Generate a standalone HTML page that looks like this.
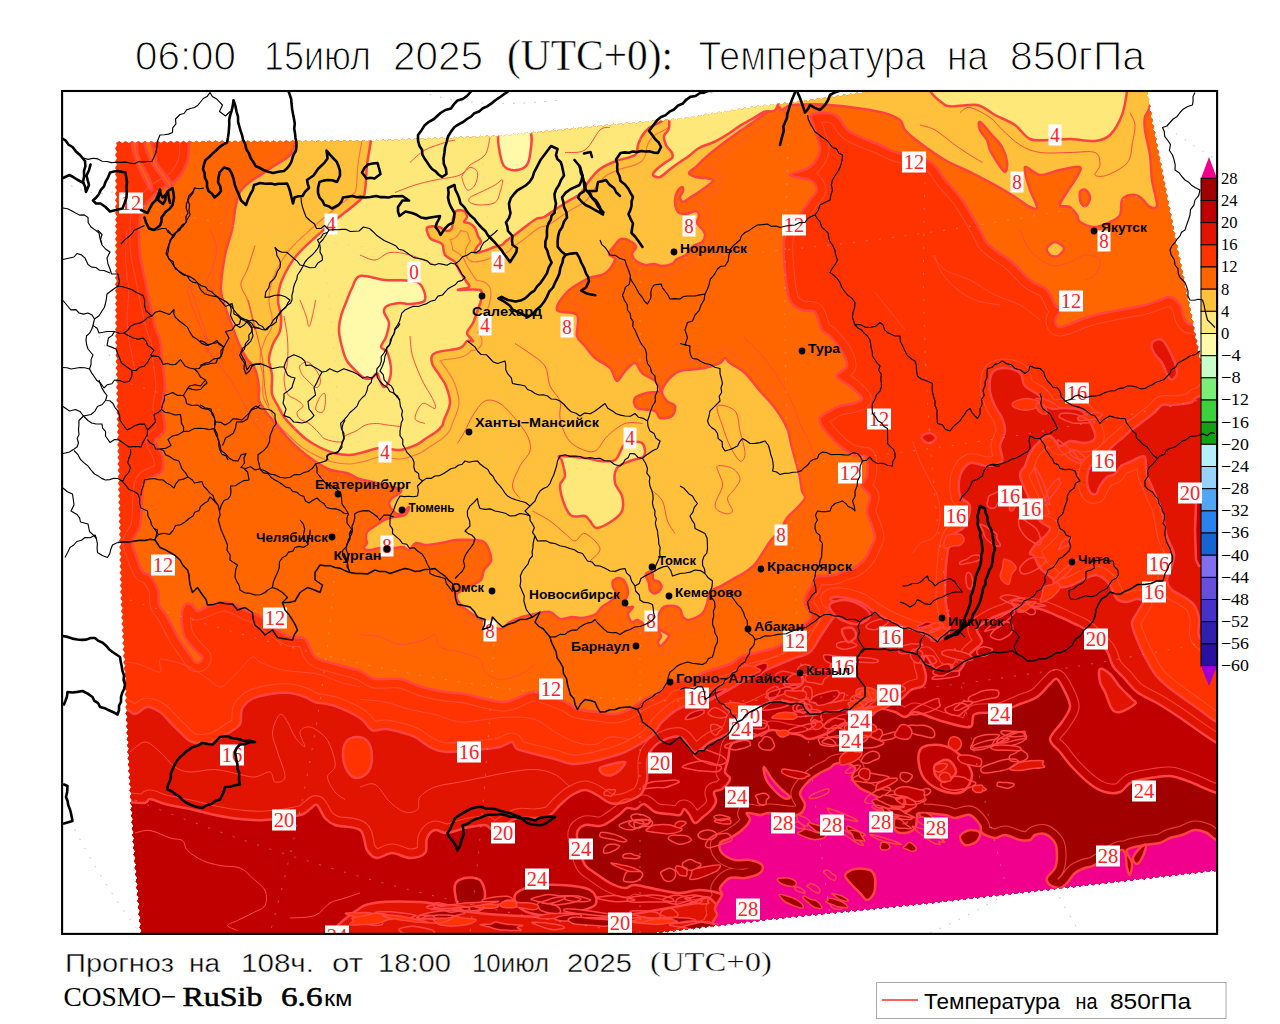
<!DOCTYPE html>
<html><head><meta charset="utf-8"><title>COSMO-RuSib T850</title>
<style>
html,body{margin:0;padding:0;background:#fff;}
body{width:1280px;height:1024px;overflow:hidden;font-family:"Liberation Sans",sans-serif;}
svg{display:block;}
.t{font-family:"Liberation Sans",sans-serif;fill:#000;}
.ts{font-family:"Liberation Serif",serif;fill:#000;}
.city{font-family:"Liberation Sans",sans-serif;font-weight:bold;font-size:13px;fill:#000;}
.lab{font-family:"Liberation Serif",serif;font-size:20px;fill:#ff2222;text-anchor:middle;}
.cb{font-family:"Liberation Serif",serif;font-size:16.5px;fill:#000;}
</style></head><body>
<svg width="1280" height="1024" viewBox="0 0 1280 1024">
<rect x="0" y="0" width="1280" height="1024" fill="#fff"/>
<defs>
<clipPath id="frame"><rect x="62" y="91" width="1155" height="843"/></clipPath>
<clipPath id="data"><path d="M116,143L119.2,141L122.4,143L125.6,141L128.9,142.9L132.1,140.9L135.3,142.9L138.5,140.9L141.7,142.9L144.9,140.9L148.2,142.9L151.4,140.9L154.6,142.8L157.8,140.8L161,142.8L164.2,140.8L167.4,142.8L170.7,140.8L173.9,142.8L177.1,140.8L180.3,142.7L183.5,140.7L186.7,142.7L189.9,140.7L193.2,142.7L196.4,140.7L199.6,142.7L202.8,140.7L206,142.6L209.2,140.6L212.5,142.6L215.7,140.6L218.9,142.6L222.1,140.6L225.3,142.6L228.5,140.6L231.8,142.5L235,140.5L238.2,142.5L241.4,140.5L244.6,142.5L247.8,140.5L251,142.5L254.2,140.5L257.5,142.4L260.7,140.4L263.9,142.4L267.1,140.4L270.3,142.4L273.5,140.4L276.8,142.4L280,140.4L283.2,142.3L286.4,140.3L289.6,142.3L292.8,140.3L296.1,142.3L299.3,140.3L302.5,142.3L305.7,140.3L308.9,142.2L312.1,140.2L315.3,142.2L318.6,140.2L321.8,142.2L325,140.2L328.2,142.2L331.4,140.2L334.6,142.1L337.8,140.1L341.1,142.1L344.3,140.1L347.5,142.1L350.7,140.1L353.9,142.1L357.1,140.1L360.4,142L363.6,140L366.8,142L370,140L373.3,141.9L376.5,139.8L379.8,141.6L383,139.5L386.3,141.4L389.5,139.3L392.8,141.1L396,139L399.3,140.9L402.5,138.8L405.8,140.6L409,138.5L412.3,140.4L415.5,138.3L418.8,140.1L422,138L425.3,139.9L428.5,137.8L431.8,139.6L435,137.5L438.3,139.4L441.5,137.3L444.8,139.1L448,137L451.3,138.9L454.5,136.8L457.8,138.6L461,136.5L464.3,138.4L467.5,136.3L470.8,138.1L474,136L477.3,137.9L480.5,135.8L483.8,137.6L487,135.5L490.3,137.4L493.5,135.3L496.8,137.1L499.9,135L503.4,136.7L506.6,134.3L510.1,136L513.2,133.7L516.8,135.3L519.9,133L523.4,134.7L526.6,132.3L530.1,134L533.2,131.7L536.8,133.3L539.9,131L543.4,132.7L546.6,130.3L550.1,132L553.2,129.7L556.8,131.3L559.9,129L563.4,130.7L566.6,128.3L570.1,130L573.2,127.7L576.8,129.3L579.9,127L583.4,128.7L586.6,126.3L590.1,128L593.2,125.7L596.8,127.3L599.9,125L603.4,126.7L606.6,124.3L610.1,126L613.2,123.7L616.8,125.4L619.9,123.1L623.4,124.9L626.6,122.6L630.1,124.3L633.2,122L636.8,123.7L639.9,121.4L643.4,123.1L646.6,120.9L650.1,122.6L653.2,120.3L656.8,122L659.9,119.7L663.4,121.4L666.6,119.1L670.1,120.9L673.2,118.6L676.8,120.3L679.8,118L683.4,119.5L686.4,117L689.9,118.4L692.9,115.9L696.5,117.4L699.4,114.9L703,116.3L705.9,113.8L709.5,115.3L712.5,112.8L716,114.2L719,111.8L722.5,113.2L725.5,110.7L729.1,112.2L732,109.7L735.6,111.1L738.5,108.6L742.1,110.1L745.1,107.6L748.6,109L751.6,106.5L755.1,108L758.2,105.6L761.8,107.2L764.9,104.8L768.5,106.4L771.5,104L775.1,105.6L778.2,103.2L781.8,104.8L784.9,102.4L788.5,104L791.5,101.6L795.1,103.2L798.2,100.8L801.8,102.4L804.9,100L808.4,101.5L811.4,99.1L814.9,100.6L817.9,98.1L821.5,99.6L824.4,97.2L828,98.7L831,96.2L834.5,97.7L837.5,95.3L841,96.8L844,94.3L847.6,95.8L850.5,93.4L854.1,94.9L857.1,92.4L860.6,93.9L863.6,91.5L867.4,92.9L870.6,89.6L875,90L878.2,88L881.5,90L884.7,88L887.9,90L891.2,88L894.4,90L897.6,88L900.9,90L904.1,88L907.3,90L910.6,88L913.8,90L917,88L920.2,90L923.5,88L926.7,90L929.9,88L933.2,90L936.4,88L939.6,90L942.9,88L946.1,90L949.3,88L952.6,90L955.8,88L959,90L962.3,88L965.5,90L968.7,88L972,90L975.2,88L978.4,90L981.7,88L984.9,90L988.1,88L991.4,90L994.6,88L997.8,90L1001.1,88L1004.3,90L1007.5,88L1010.8,90L1014,88L1017.2,90L1020.4,88L1023.7,90L1026.9,88L1030.1,90L1033.4,88L1036.6,90L1039.8,88L1043.1,90L1046.3,88L1049.5,90L1052.8,88L1056,90L1059.2,88L1062.5,90L1065.7,88L1068.9,90L1072.2,88L1075.4,90L1078.6,88L1081.9,90L1085.1,88L1088.3,90L1091.6,88L1094.8,90L1098,88L1101.2,90L1104.5,88L1107.7,90L1110.9,88L1114.2,90L1117.4,88L1120.6,90L1123.9,88L1127.1,90L1130.3,88L1133.6,90L1136.8,88L1140,90L1143.3,88L1145.5,89.2L1148.1,92.3L1146.7,96.1L1149.3,99.2L1148,103L1150.5,106L1149.2,109.8L1151.8,112.9L1150.4,116.7L1153,119.8L1151.6,123.4L1154.2,126.1L1152.9,129.7L1155.5,132.4L1154.1,136L1156.7,138.8L1155.4,142.3L1157.9,145.1L1156.6,148.6L1159.2,151.4L1157.9,154.9L1160.4,157.7L1159.1,161.2L1161.7,164L1160.3,167.6L1162.9,170.3L1161.6,173.9L1164.2,176.6L1162.8,180.2L1165.4,183L1164.1,186.5L1166.6,189.3L1165.3,192.8L1167.9,195.6L1166.5,199.1L1169.1,201.9L1167.8,205.5L1170.4,208.2L1169,211.8L1171.6,214.5L1170.3,218.1L1172.9,220.9L1171.5,224.4L1174.1,227.2L1172.8,230.7L1175.3,233.5L1174,237L1176.6,239.8L1175.3,243.3L1177.9,246.1L1176.6,249.6L1179.2,252.4L1177.9,255.9L1180.5,258.7L1179.2,262.2L1181.8,264.9L1180.5,268.5L1183.1,271.2L1181.8,274.8L1184.4,277.5L1183.1,281.1L1185.7,283.8L1184.4,287.3L1187,290.1L1185.7,293.6L1188.4,296.4L1187.1,299.9L1189.7,302.7L1188.4,306.2L1191,308.9L1189.7,312.5L1192.3,315.2L1191,318.8L1193.6,321.5L1192.3,325.1L1194.9,327.8L1193.6,331.3L1196.2,334.1L1194.9,337.6L1197.5,340.4L1196.2,343.9L1198.8,346.7L1197.5,350.2L1200.1,353L1198.8,356.5L1201.4,359.3L1200.1,362.9L1202.7,365.6L1201.4,369.2L1204,372L1202.7,375.5L1205.3,378.3L1204,381.9L1206.6,384.6L1205.3,388.2L1207.9,391L1206.6,394.5L1209.2,397.3L1207.9,400.9L1210.5,403.6L1209.2,407.2L1211.8,410L1210.5,413.5L1213.1,416.3L1211.8,419.9L1214.4,422.6L1213.1,426.2L1215.7,429L1214.4,432.5L1217,435.3L1215.7,438.9L1218.3,441.6L1217,445L1219,448.2L1217,451.4L1219,454.7L1217,457.9L1219,461.1L1217,464.3L1219,467.5L1217,470.8L1219,474L1217,477.2L1219,480.4L1217,483.6L1219,486.9L1217,490.1L1219,493.3L1217,496.5L1219,499.7L1217,503L1219,506.2L1217,509.4L1219,512.6L1217,515.8L1219,519.1L1217,522.3L1219,525.5L1217,528.7L1219,531.9L1217,535.2L1219,538.4L1217,541.6L1219,544.8L1217,548L1219,551.2L1217,554.5L1219,557.7L1217,560.9L1219,564.1L1217,567.3L1219,570.6L1217,573.8L1219,577L1217,580.2L1219,583.4L1217,586.7L1219,589.9L1217,593.1L1219,596.3L1217,599.5L1219,602.8L1217,606L1219,609.2L1217,612.4L1219,615.6L1217,618.9L1219,622.1L1217,625.3L1219,628.5L1217,631.7L1219,635L1217,638.2L1219,641.4L1217,644.6L1219,647.8L1217,651.1L1219,654.3L1217,657.5L1219,660.7L1217,663.9L1219,667.2L1217,670.4L1219,673.6L1217,676.8L1219,680L1217,683.3L1219,686.5L1217,689.7L1219,692.9L1217,696.1L1219,699.4L1217,702.6L1219,705.8L1217,709L1219,712.2L1217,715.5L1219,718.7L1217,721.9L1219,725.1L1217,728.3L1219,731.6L1217,734.8L1219,738L1217,741.2L1219,744.4L1217,747.7L1219,750.9L1217,754.1L1219,757.3L1217,760.5L1219,763.8L1217,767L1219,770.2L1217,773.4L1219,776.6L1217,779.8L1219,783.1L1217,786.3L1219,789.5L1217,792.7L1219,795.9L1217,799.2L1219,802.4L1217,805.6L1219,808.8L1217,812L1219,815.3L1217,818.5L1219,821.7L1217,824.9L1219,828.1L1217,831.4L1219,834.6L1217,837.8L1219,841L1217,844.2L1219,847.5L1217,850.7L1219,853.9L1217,857.1L1219,860.3L1217,863.6L1219,866.8L1217.9,869L1214.9,871.4L1211.5,869.7L1208.5,872.1L1205.1,870.5L1202.1,872.8L1198.7,871.2L1195.7,873.6L1192.3,871.9L1189.3,874.3L1185.8,872.7L1182.9,875L1179.4,873.4L1176.5,875.7L1173,874.1L1170,876.5L1166.6,874.9L1163.6,877.2L1160.2,875.6L1157.2,877.9L1153.8,876.3L1150.8,878.7L1147.4,877L1144.4,879.4L1141,877.8L1138,880.1L1134.6,878.5L1131.6,880.9L1128.2,879.2L1125.2,881.6L1121.8,880L1118.8,882.3L1115.3,880.7L1112.4,883.1L1108.9,881.4L1106,883.8L1102.5,882.2L1099.6,884.5L1096.1,882.9L1093.1,885.3L1089.7,883.6L1086.7,886L1083.3,884.4L1080.3,886.7L1076.9,885.1L1073.9,887.4L1070.5,885.8L1067.5,888.2L1064.1,886.6L1061.1,888.9L1057.7,887.3L1054.7,889.6L1051.3,888L1048.3,890.4L1044.9,888.7L1041.9,891.1L1038.4,889.5L1035.5,891.8L1032,890.2L1029.1,892.6L1025.6,890.9L1022.7,893.3L1019.2,891.7L1016.2,894L1012.8,892.4L1009.8,894.8L1006.4,893.1L1003.4,895.5L1000,893.9L997,896.2L993.6,894.6L990.6,897L987.2,895.3L984.2,897.7L980.8,896.1L977.8,898.4L974.4,896.8L971.4,899.1L968,897.5L965,899.9L961.5,898.3L958.6,900.6L955.1,899L952.2,901.3L948.7,899.7L945.7,902.1L942.3,900.4L939.3,902.8L935.9,901.2L932.9,903.5L929.5,901.9L926.5,904.3L923.1,902.6L920.1,905L916.6,903.3L913.6,905.6L910.1,904L907.1,906.3L903.6,904.6L900.6,906.9L897.1,905.3L894.1,907.6L890.6,905.9L887.5,908.3L884.1,906.6L881,908.9L877.6,907.2L874.5,909.6L871.1,907.9L868,910.2L864.6,908.5L861.5,910.9L858,909.2L855,911.5L851.5,909.8L848.5,912.2L845,910.5L842,912.8L838.5,911.1L835.4,913.5L832,911.8L828.9,914.1L825.5,912.4L822.4,914.8L819,913.1L815.9,915.4L812.5,913.7L809.4,916.1L805.9,914.4L802.9,916.7L799.4,915.1L796.4,917.4L792.9,915.7L789.9,918L786.4,916.4L783.4,918.7L779.9,917L776.9,919.4L773.5,917.8L770.5,920.1L767,918.5L764,920.9L760.6,919.3L757.6,921.7L754.2,920.1L751.2,922.4L747.7,920.8L744.8,923.2L741.3,921.6L738.3,923.9L734.9,922.3L731.9,924.7L728.5,923.1L725.5,925.5L722,923.9L719,926.2L715.6,924.6L712.6,927L709.2,925.4L706.2,927.8L702.7,926.1L699.8,928.5L696.3,926.9L693.3,929.3L689.9,927.7L686.9,930L683.5,928.4L680.5,930.8L677,929.2L674,931.6L670.6,930L667.6,932.3L664.2,930.7L661.2,933.1L657.7,931.5L654.8,933.9L651.3,932.2L648.3,934.6L645,933L641.8,935L638.6,933L635.4,935L632.2,933L628.9,935L625.7,933L622.5,935L619.3,933L616.1,935L612.9,933L609.7,935L606.5,933L603.3,935L600.1,933L596.8,935L593.6,933L590.4,935L587.2,933L584,935L580.8,933L577.6,935L574.4,933L571.2,935L568,933L564.7,935L561.5,933L558.3,935L555.1,933L551.9,935L548.7,933L545.5,935L542.3,933L539.1,935L535.9,933L532.6,935L529.4,933L526.2,935L523,933L519.8,935L516.6,933L513.4,935L510.2,933L507,935L503.8,933L500.5,935L497.3,933L494.1,935L490.9,933L487.7,935L484.5,933L481.3,935L478.1,933L474.9,935L471.6,933L468.4,935L465.2,933L462,935L458.8,933L455.6,935L452.4,933L449.2,935L446,933L442.8,935L439.5,933L436.3,935L433.1,933L429.9,935L426.7,933L423.5,935L420.3,933L417.1,935L413.9,933L410.7,935L407.4,933L404.2,935L401,933L397.8,935L394.6,933L391.4,935L388.2,933L385,935L381.8,933L378.6,935L375.3,933L372.1,935L368.9,933L365.7,935L362.5,933L359.3,935L356.1,933L352.9,935L349.7,933L346.5,935L343.2,933L340,935L336.8,933L333.6,935L330.4,933L327.2,935L324,933L320.8,935L317.6,933L314.4,935L311.1,933L307.9,935L304.7,933L301.5,935L298.3,933L295.1,935L291.9,933L288.7,935L285.5,933L282.2,935L279,933L275.8,935L272.6,933L269.4,935L266.2,933L263,935L259.8,933L256.6,935L253.4,933L250.1,935L246.9,933L243.7,935L240.5,933L237.3,935L234.1,933L230.9,935L227.7,933L224.5,935L221.3,933L218,935L214.8,933L211.6,935L208.4,933L205.2,935L202,933L198.8,935L195.6,933L192.4,935L189.2,933L185.9,935L182.7,933L179.5,935L176.3,933L173.1,935L169.9,933L166.7,935L163.5,933L160.3,935L157.1,933L153.8,935L150.6,933L147.4,935L144.2,933L140,934.1L141.7,930.6L139.5,927.5L141.2,924L138.9,920.9L140.7,917.4L138.4,914.2L140.1,910.8L137.8,907.6L139.6,904.1L137.3,901L139,897.5L136.8,894.4L138.5,890.9L136.2,887.8L138,884.3L135.7,881.2L137.4,877.7L135.2,874.5L136.9,871.1L134.6,867.9L136.3,864.5L134.1,861.3L135.8,857.8L133.5,854.7L135.3,851.2L133,848.1L134.8,844.7L132.6,841.7L134.4,838.3L132.2,835.3L134,831.9L131.8,828.9L133.6,825.5L131.4,822.5L133.2,819.1L131,816.1L132.8,812.7L130.6,809.7L132.4,806.3L130.2,803.3L132,799.9L129.8,796.9L131.6,793.5L129.4,790.5L131.2,787.1L129,784.1L130.8,780.7L128.6,777.7L130.4,774.3L128.2,771.3L130,768L127.9,764.8L129.7,761.6L127.6,758.4L129.4,755.2L127.3,752L129.1,748.8L127,745.6L128.8,742.4L126.7,739.2L128.5,736L126.4,732.8L128.3,729.6L126.1,726.4L128,723.2L125.8,720L127.7,716.8L125.5,713.6L127.4,710.4L125.2,707.2L127.1,704L124.9,700.8L126.8,697.6L124.7,694.4L126.5,691.2L124.4,688L126.2,684.8L124.1,681.6L125.9,678.4L123.8,675.2L125.6,672L123.5,668.8L125.3,665.6L123.2,662.4L125.1,659.2L122.9,656L124.8,652.8L122.6,649.6L124.5,646.4L122.3,643.2L124.2,640L122,636.8L123.9,633.6L121.7,630.4L123.6,627.2L121.5,624L123.3,620.8L121.2,617.6L123,614.4L120.9,611.2L122.7,608L120.6,604.8L122.4,601.6L120.3,598.4L122.1,595.2L120,592L121.9,588.8L119.9,585.6L121.8,582.4L119.8,579.2L121.7,576L119.6,572.8L121.6,569.6L119.5,566.4L121.4,563.2L119.4,560L121.3,556.8L119.3,553.6L121.2,550.4L119.1,547.2L121.1,544L119,540.8L120.9,537.6L118.9,534.4L120.8,531.2L118.8,528L120.7,524.8L118.6,521.6L120.6,518.4L118.5,515.2L120.4,512L118.4,508.8L120.3,505.6L118.3,502.4L120.2,499.2L118.1,496L120.1,492.8L118,489.6L119.9,486.4L117.9,483.2L119.8,480L117.8,476.8L119.7,473.6L117.6,470.4L119.6,467.2L117.5,464L119.4,460.8L117.4,457.6L119.3,454.4L117.3,451.2L119.2,448L117.1,444.8L119.1,441.6L117,438.4L118.9,435.2L116.9,432L118.8,428.8L116.8,425.6L118.7,422.4L116.6,419.2L118.6,416L116.5,412.8L118.4,409.6L116.4,406.4L118.3,403.2L116.3,400L118.2,396.8L116.1,393.6L118.1,390.4L116,387.2L117.9,384L115.9,380.8L117.8,377.6L115.8,374.4L117.7,371.2L115.6,368L117.6,364.8L115.5,361.6L117.4,358.4L115.4,355.2L117.3,352L115.3,348.8L117.2,345.6L115.1,342.4L117.1,339.2L115,336L117,332.8L115,329.5L117,326.3L115,323.1L117,319.8L115,316.6L117,313.4L115,310.1L117,306.9L115,303.7L117,300.4L115,297.2L117,294L115,290.7L117,287.5L115,284.3L117,281L115,277.8L117,274.6L115,271.3L117,268.1L115,264.9L117,261.6L115,258.4L117,255.2L115,251.9L117,248.7L115,245.5L117,242.2L115,239L117,235.8L115,232.5L117,229.3L115,226.1L117,222.8L115,219.6L117,216.4L115,213.1L117,209.9L115,206.7L117,203.4L115,200.2L117,197L115,193.7L117,190.5L115,187.3L117,184L115,180.8L117,177.6L115,174.3L117,171.1L115,167.9L117,164.6L115,161.4L117,158.2L115,154.9L117,151.7L115,148.5L117,145.2Z"/></clipPath>
</defs>

<g clip-path="url(#frame)" fill="none" stroke="#b8b8b8" stroke-width="1" stroke-dasharray="1.5 9">
<path d="M62,300 Q120,330 140,470"/>
<path d="M70,820 Q100,880 140,933"/>
<path d="M930,933 Q1050,880 1120,800"/>
<path d="M1040,860 Q1060,900 1080,933"/>
<path d="M1130,91 Q1150,120 1217,160"/>
<path d="M420,91 Q470,110 560,100"/>
<path d="M62,180 Q90,200 120,190"/>
</g>
<g clip-path="url(#frame)"><g clip-path="url(#data)">
<rect x="60" y="88" width="1160" height="850" fill="#ff3300"/>
<path id="r1" d="M189,130C189,142 189.3,136.7 189,142C188.7,147.3 189.2,155.7 187,162C184.8,168.3 181,175 176,180C171,185 162.7,187 157,192C151.3,197 145,203.7 142,210C139,216.3 139.3,222.5 139,230C138.7,237.5 139,246.7 140,255C141,263.3 143.3,271.7 145,280C146.7,288.3 148.2,296.7 150,305C151.8,313.3 154.3,324.2 156,330C157.7,335.8 159,334.8 160,340C161,345.2 161.2,353.3 162,361C162.8,368.7 165,378.5 165,386C165,393.5 162,399 162,406C162,413 165.3,423 165,428C164.7,433 161.7,433.8 160,436C158.3,438.2 154.7,437.7 155,441C155.3,444.3 160.8,451 162,456C163.2,461 164.8,466.8 162,471C159.2,475.2 148.3,476.5 145,481C141.7,485.5 142.8,490.5 142,498C141.2,505.5 141.7,518.8 140,526C138.3,533.2 132.8,536.5 132,541C131.2,545.5 133.3,548 135,553C136.7,558 139.5,567.2 142,571C144.5,574.8 147.3,572.8 150,576C152.7,579.2 156.5,585.2 158,590C159.5,594.8 157.7,600.8 159,605C160.3,609.2 163.5,610.8 166,615C168.5,619.2 171.5,625.5 174,630C176.5,634.5 178.3,637.8 181,642C183.7,646.2 187.7,651.7 190,655C192.3,658.3 193.3,660.8 195,662C196.7,663.2 198.8,662.8 200,662C201.2,661.2 202.8,659 202,657C201.2,655 197.8,653.3 195,650C192.2,646.7 187.2,641.2 185,637C182.8,632.8 182.5,629.2 182,625C181.5,620.8 181.3,615.5 182,612C182.7,608.5 184.3,605.2 186,604C187.7,602.8 190.2,603.8 192,605C193.8,606.2 194.5,610.7 197,611C199.5,611.3 204,608.2 207,607C210,605.8 212,604.8 215,604C218,603.2 221.7,601.8 225,602C228.3,602.2 231.7,603.7 235,605C238.3,606.3 241.3,608.3 245,610C248.7,611.7 253.8,613.5 257,615C260.2,616.5 261,616.8 264,619C267,621.2 270.7,625 275,628C279.3,631 285,635.2 290,637C295,638.8 300.8,635.7 305,639C309.2,642.3 310,652.8 315,657C320,661.2 327.5,661.7 335,664C342.5,666.3 353.3,668.5 360,671C366.7,673.5 368.3,677.7 375,679C381.7,680.3 392.2,677.7 400,679C407.8,680.3 414.5,684.8 422,687C429.5,689.2 437.8,690.8 445,692C452.2,693.2 458.3,692.8 465,694C471.7,695.2 478.3,697.7 485,699C491.7,700.3 499.2,702.3 505,702C510.8,701.7 515,698.7 520,697C525,695.3 527.5,691.2 535,692C542.5,692.8 558,699.2 565,702C572,704.8 571.7,707.3 577,709C582.3,710.7 590.7,711.2 597,712C603.3,712.8 609.5,714.5 615,714C620.5,713.5 626.3,710.7 630,709C633.7,707.3 634.5,705.7 637,704C639.5,702.3 641.2,701 645,699C648.8,697 656.3,694.5 660,692C663.7,689.5 663.7,686 667,684C670.3,682 675.8,680.8 680,680C684.2,679.2 687.8,680.3 692,679C696.2,677.7 698.7,674.5 705,672C711.3,669.5 724.2,666.5 730,664C735.8,661.5 737.2,658.5 740,657C742.8,655.5 743.8,655.8 747,655C750.2,654.2 755,653 759,652C763,651 767.2,650.3 771,649C774.8,647.7 777.8,647.2 782,644C786.2,640.8 792.7,633 796,630C799.3,627 800.2,627.3 802,626C803.8,624.7 805.5,623.5 807,622C808.5,620.5 810.5,618.7 811,617C811.5,615.3 811,614 810,612C809,610 805.7,607.8 805,605C804.3,602.2 805,598 806,595C807,592 809.3,590 811,587C812.7,584 813.7,578.8 816,577C818.3,575.2 821.8,576.3 825,576C828.2,575.7 832.2,575.7 835,575C837.8,574.3 839.2,573 842,572C844.8,571 849,570.3 852,569C855,567.7 857.5,566.2 860,564C862.5,561.8 865.2,558.8 867,556C868.8,553.2 869.7,550 871,547C872.3,544 874.8,541.5 875,538C875.2,534.5 873.3,530.5 872,526C870.7,521.5 867.3,516 867,511C866.7,506 870.8,500.2 870,496C869.2,491.8 862.5,489.3 862,486C861.5,482.7 866.2,480.7 867,476C867.8,471.3 868.2,461.3 867,458C865.8,454.7 862.8,456.8 860,456C857.2,455.2 853.3,454.7 850,453C846.7,451.3 843.3,448.8 840,446C836.7,443.2 833,439.3 830,436C827,432.7 823.7,429 822,426C820.3,423 818.7,420.5 820,418C821.3,415.5 826.7,413 830,411C833.3,409 835.8,407.3 840,406C844.2,404.7 851.3,404.3 855,403C858.7,401.7 862.8,400.8 862,398C861.2,395.2 854.2,389.7 850,386C845.8,382.3 837.5,379.3 837,376C836.5,372.7 846.2,370.2 847,366C847.8,361.8 844.8,356 842,351C839.2,346 833.3,339.5 830,336C826.7,332.5 824.5,334 822,330C819.5,326 818.3,315.3 815,312C811.7,308.7 806.2,312 802,310C797.8,308 792.8,306.7 790,300C787.2,293.3 785.8,280.8 785,270C784.2,259.2 782.2,244.7 785,235C787.8,225.3 797.8,217.8 802,212C806.2,206.2 807.5,203.7 810,200C812.5,196.3 817,193.3 817,190C817,186.7 814.5,182.5 810,180C805.5,177.5 790,177.2 790,175C790,172.8 805,171.2 810,167C815,162.8 819.2,156.2 820,150C820.8,143.8 816.3,135.8 815,130C813.7,124.2 808.7,117.5 812,115C815.3,112.5 828.7,112.2 835,115C841.3,117.8 842.5,127 850,132C857.5,137 872.5,141.7 880,145C887.5,148.3 886.7,149.2 895,152C903.3,154.8 921.7,157.3 930,162C938.3,166.7 939.7,173.7 945,180C950.3,186.3 956.2,191.7 962,200C967.8,208.3 976,223 980,230C984,237 983.5,238.7 986,242C988.5,245.3 990.7,246.7 995,250C999.3,253.3 1006.2,257 1012,262C1017.8,267 1024.2,275.3 1030,280C1035.8,284.7 1042.8,285.8 1047,290C1051.2,294.2 1052.8,301.7 1055,305C1057.2,308.3 1060,307.5 1060,310C1060,312.5 1055,317.2 1055,320C1055,322.8 1055.8,327 1060,327C1064.2,327 1074.2,322 1080,320C1085.8,318 1088.3,316.7 1095,315C1101.7,313.3 1111.7,311.7 1120,310C1128.3,308.3 1138.3,306.7 1145,305C1151.7,303.3 1155.8,301.3 1160,300C1164.2,298.7 1166.7,296.2 1170,297C1173.3,297.8 1177.5,301.2 1180,305C1182.5,308.8 1182.5,316.7 1185,320C1187.5,323.3 1185.8,324.2 1195,325C1204.2,325.8 1232.5,367.5 1240,325C1247.5,282.5 1415.2,112.5 1240,70C1064.8,27.5 364.2,60 189,70C13.8,80 189,118 189,130Z" fill="#ff6600"/>
<mask id="m1" maskUnits="userSpaceOnUse" x="60" y="88" width="1160" height="850"><g fill="none" stroke-linejoin="round"><use href="#r1" stroke="#fff" stroke-width="19.1"/><use href="#r1" stroke="#000" stroke-width="16.9"/></g></mask>
<rect x="60" y="88" width="1160" height="850" fill="#ff5448" opacity="0.75" mask="url(#m1)"/>
<use href="#r1" fill="none" stroke="#ff4343" stroke-width="2.5" stroke-linejoin="round"/>
<path id="r2" d="M295,130C295,142 295.8,137.8 295,142C294.2,146.2 295,150 290,155C285,160 273.3,165.8 265,172C256.7,178.2 245.5,182.3 240,192C234.5,201.7 234.5,219.5 232,230C229.5,240.5 226.8,245.5 225,255C223.2,264.5 221.3,279.5 221,287C220.7,294.5 221.3,294 223,300C224.7,306 228.3,315.7 231,323C233.7,330.3 236.3,338 239,344C241.7,350 244.3,354.8 247,359C249.7,363.2 253,364.3 255,369C257,373.7 258.3,381.8 259,387C259.7,392.2 257.8,395.8 259,400C260.2,404.2 263,407.8 266,412C269,416.2 273.5,420.8 277,425C280.5,429.2 283.2,432.8 287,437C290.8,441.2 295.2,445.8 300,450C304.8,454.2 310.8,458.7 316,462C321.2,465.3 325.8,468.2 331,470C336.2,471.8 342.3,471.5 347,473C351.7,474.5 354.7,477.5 359,479C363.3,480.5 368.3,480.8 373,482C377.7,483.2 382.5,484.8 387,486C391.5,487.2 397.8,487.8 400,489C402.2,490.2 401.3,491.5 400,493C398.7,494.5 393.8,496.2 392,498C390.2,499.8 388.7,501.7 389,504C389.3,506.3 392.2,510.3 394,512C395.8,513.7 397.5,514.8 400,514C402.5,513.2 408.2,506.8 409,507C409.8,507.2 407.5,513.3 405,515C402.5,516.7 397.5,516.2 394,517C390.5,517.8 387.2,518.5 384,520C380.8,521.5 377.8,524 375,526C372.2,528 368.5,529.8 367,532C365.5,534.2 366,537.2 366,539C366,540.8 367.3,541.5 367,543C366.7,544.5 363.7,546.8 364,548C364.3,549.2 366.2,550 369,550C371.8,550 376.8,548.3 381,548C385.2,547.7 390.3,548.2 394,548C397.7,547.8 400.5,546.7 403,547C405.5,547.3 406.8,550.7 409,550C411.2,549.3 413.3,543.8 416,543C418.7,542.2 420.8,545 425,545C429.2,545 435.8,543.8 441,543C446.2,542.2 450.8,540.5 456,540C461.2,539.5 467.3,539.7 472,540C476.7,540.3 481.2,540.3 484,542C486.8,543.7 487.8,546.8 489,550C490.2,553.2 491.8,557.7 491,561C490.2,564.3 485.7,566.8 484,570C482.3,573.2 483.3,577.3 481,580C478.7,582.7 474,583.7 470,586C466,588.3 458.7,591 457,594C455.3,597 457.5,600.7 460,604C462.5,607.3 467.8,611 472,614C476.2,617 480.3,619.5 485,622C489.7,624.5 495.8,629 500,629C504.2,629 506.3,624 510,622C513.7,620 517.8,618.3 522,617C526.2,615.7 530.3,614.8 535,614C539.7,613.2 545.8,611.2 550,612C554.2,612.8 556.3,618.2 560,619C563.7,619.8 568.7,617.2 572,617C575.3,616.8 577.3,618 580,618C582.7,618 585.3,617.7 588,617C590.7,616.3 593.7,615.7 596,614C598.3,612.3 599.5,609.2 602,607C604.5,604.8 608.7,603.3 611,601C613.3,598.7 615.7,595.3 616,593C616.3,590.7 613.5,589 613,587C612.5,585 612,582.5 613,581C614,579.5 617,577.8 619,578C621,578.2 623.5,579.5 625,582C626.5,584.5 628,589.8 628,593C628,596.2 625.2,598.7 625,601C624.8,603.3 625.7,606 627,607C628.3,608 632.8,605.8 633,607C633.2,608.2 628.2,611.5 628,614C627.8,616.5 630.3,621 632,622C633.7,623 635.5,619.3 638,620C640.5,620.7 644.5,625.5 647,626C649.5,626.5 651.3,622.5 653,623C654.7,623.5 655.7,626.8 657,629C658.3,631.2 660.8,633.8 661,636C661.2,638.2 658.2,640.3 658,642C657.8,643.7 659,645.8 660,646C661,646.2 662.5,644.7 664,643C665.5,641.3 669,637.8 669,636C669,634.2 665.8,633.3 664,632C662.2,630.7 659.2,630 658,628C656.8,626 656.7,622.7 657,620C657.3,617.3 658.8,614.2 660,612C661.2,609.8 661.7,608 664,607C666.3,606 671.3,605.7 674,606C676.7,606.3 678.5,607.2 680,609C681.5,610.8 681.5,615.2 683,617C684.5,618.8 685.8,620.5 689,620C692.2,619.5 699,616.7 702,614C705,611.3 705.7,607.7 707,604C708.3,600.3 707.7,595 710,592C712.3,589 717.2,588.2 721,586C724.8,583.8 729.2,581.2 733,579C736.8,576.8 740.3,575.5 744,573C747.7,570.5 751.7,567.7 755,564C758.3,560.3 761.3,555 764,551C766.7,547 768.3,543.3 771,540C773.7,536.7 777.3,534.7 780,531C782.7,527.3 784.2,521.8 787,518C789.8,514.2 794,511.3 797,508C800,504.7 804.2,500.8 805,498C805.8,495.2 802.8,494.3 802,491C801.2,487.7 800.8,482.2 800,478C799.2,473.8 798.3,471 797,466C795.7,461 793.7,454.3 792,448C790.3,441.7 789.8,434.7 787,428C784.2,421.3 779.5,414.2 775,408C770.5,401.8 765,396.8 760,391C755,385.2 750,377.7 745,373C740,368.3 733.3,365.5 730,363C726.7,360.5 726.7,358 725,358C723.3,358 723.3,361.3 720,363C716.7,364.7 711.7,366.7 705,368C698.3,369.3 685.8,369.3 680,371C674.2,372.7 673,374.7 670,378C667,381.3 662.5,387.2 662,391C661.5,394.8 664.8,398.5 667,401C669.2,403.5 674.2,403.5 675,406C675.8,408.5 674.5,414 672,416C669.5,418 662.8,418.8 660,418C657.2,417.2 658.8,412.7 655,411C651.2,409.3 640.3,410.2 637,408C633.7,405.8 633.3,400.5 635,398C636.7,395.5 642.8,394.2 647,393C651.2,391.8 658.7,393 660,391C661.3,389 658,384 655,381C652,378 645.3,376 642,373C638.7,370 637.8,363.3 635,363C632.2,362.7 628,368 625,371C622,374 619.5,381.5 617,381C614.5,380.5 613.7,371.8 610,368C606.3,364.2 599.2,361.7 595,358C590.8,354.3 588,349.7 585,346C582,342.3 578.3,341.2 577,336C575.7,330.8 580.3,319.3 577,315C573.7,310.7 558.7,313.8 557,310C555.3,306.2 562.3,297 567,292C571.7,287 580.8,282.5 585,280C589.2,277.5 589.2,277.8 592,277C594.8,276.2 599.2,276.2 602,275C604.8,273.8 606.8,272.7 609,270C611.2,267.3 615,261.7 615,259C615,256.3 609,256.3 609,254C609,251.7 613,247.5 615,245C617,242.5 618.5,239.7 621,239C623.5,238.3 627.5,239.7 630,241C632.5,242.3 635.7,244.8 636,247C636.3,249.2 632,251.7 632,254C632,256.3 633.8,259.2 636,261C638.2,262.8 642,264.5 645,265C648,265.5 651.2,263.8 654,264C656.8,264.2 659,266 662,266C665,266 669.5,265.2 672,264C674.5,262.8 674.7,260.5 677,259C679.3,257.5 683.5,257 686,255C688.5,253 689.3,249.2 692,247C694.7,244.8 699.8,243.8 702,242C704.2,240.2 704.8,238 705,236C705.2,234 704.3,232.2 703,230C701.7,227.8 697.7,225.3 697,223C696.3,220.7 699.2,218 699,216C698.8,214 698.2,211.3 696,211C693.8,210.7 689,213.8 686,214C683,214.2 679.8,214 678,212C676.2,210 675.2,205.3 675,202C674.8,198.7 675.8,194.5 677,192C678.2,189.5 681,187.2 682,187C683,186.8 683.3,189.3 683,191C682.7,192.7 680,195.2 680,197C680,198.8 681.2,202 683,202C684.8,202 688.3,198.7 691,197C693.7,195.3 695.8,194.2 699,192C702.2,189.8 707.7,186 710,184C712.3,182 713.8,181 713,180C712.2,179 707.8,178.5 705,178C702.2,177.5 698.7,177.8 696,177C693.3,176.2 689,174.7 689,173C689,171.3 693.3,169.5 696,167C698.7,164.5 700.8,161.7 705,158C709.2,154.3 715.8,149 721,145C726.2,141 730.8,137.7 736,134C741.2,130.3 746.8,126.7 752,123C757.2,119.3 762.3,115.8 767,112C771.7,108.2 777.8,107 780,100C782.2,93 860.8,75 780,70C699.2,65 375.8,60 295,70C214.2,80 295,118 295,130Z" fill="#ffc03c"/>
<mask id="m2" maskUnits="userSpaceOnUse" x="60" y="88" width="1160" height="850"><g fill="none" stroke-linejoin="round"><use href="#r2" stroke="#fff" stroke-width="19.1"/><use href="#r2" stroke="#000" stroke-width="16.9"/></g></mask>
<rect x="60" y="88" width="1160" height="850" fill="#ff5448" opacity="0.75" mask="url(#m2)"/>
<use href="#r2" fill="none" stroke="#ff4343" stroke-width="2.5" stroke-linejoin="round"/>
<path id="r3" d="M780,108C782,113.8 783.7,105.5 792,105C800.3,104.5 815.3,103.8 830,105C844.7,106.2 868.3,109.5 880,112C891.7,114.5 895.8,117 900,120C904.2,123 901.7,126.2 905,130C908.3,133.8 913.3,138 920,143C926.7,148 936.3,155 945,160C953.7,165 963.7,168.8 972,173C980.3,177.2 987.8,181 995,185C1002.2,189 1009.2,193.3 1015,197C1020.8,200.7 1026.3,205.3 1030,207C1033.7,208.7 1037.2,210.3 1037,207C1036.8,203.7 1031,193.7 1029,187C1027,180.3 1023.2,169 1025,167C1026.8,165 1034.2,174.5 1040,175C1045.8,175.5 1053.3,171.3 1060,170C1066.7,168.7 1077.5,165.3 1080,167C1082.5,168.7 1077.2,175.8 1075,180C1072.8,184.2 1069.5,187.8 1067,192C1064.5,196.2 1059.5,202.5 1060,205C1060.5,207.5 1067.2,205.3 1070,207C1072.8,208.7 1075.3,212.5 1077,215C1078.7,217.5 1077,220 1080,222C1083,224 1090,227 1095,227C1100,227 1105.8,224 1110,222C1114.2,220 1118,218.7 1120,215C1122,211.3 1120.3,203.3 1122,200C1123.7,196.7 1127,195.5 1130,195C1133,194.5 1136.7,195 1140,197C1143.3,199 1147.2,205.7 1150,207C1152.8,208.3 1156.7,209.5 1157,205C1157.3,200.5 1153.2,188.3 1152,180C1150.8,171.7 1151.2,163.3 1150,155C1148.8,146.7 1145.8,136.3 1145,130C1144.2,123.7 1144.2,121.2 1145,117C1145.8,112.8 1149.2,112.8 1150,105C1150.8,97.2 1211.7,75.8 1150,70C1088.3,64.2 841.7,63.7 780,70C718.3,76.3 778,102.2 780,108Z" fill="#ffc03c"/>
<use href="#r3" fill="none" stroke="#ff4343" stroke-width="2.5" stroke-linejoin="round"/>
<path id="r4" d="M980,122C982,122.8 988.3,130.8 992,135C995.7,139.2 999.5,142.5 1002,147C1004.5,151.5 1006.5,157.8 1007,162C1007.5,166.2 1006.7,172 1005,172C1003.3,172 999.5,165.7 997,162C994.5,158.3 991.7,153.7 990,150C988.3,146.3 988.7,143.3 987,140C985.3,136.7 981.2,133 980,130C978.8,127 978,121.2 980,122Z" fill="#ff6600"/>
<use href="#r4" fill="none" stroke="#ff4343" stroke-width="2.5" stroke-linejoin="round"/>
<path id="r5" d="M1080,192C1080.8,189.8 1084.3,189 1086,190C1087.7,191 1090,195.3 1090,198C1090,200.7 1087.5,205.2 1086,206C1084.5,206.8 1082,205.3 1081,203C1080,200.7 1079.2,194.2 1080,192Z" fill="#ff6600"/>
<use href="#r5" fill="none" stroke="#ff4343" stroke-width="2.5" stroke-linejoin="round"/>
<path id="r6" d="M1047,248C1047.8,245.8 1052.2,242 1055,242C1057.8,242 1063.5,245.7 1064,248C1064.5,250.3 1060.3,254.8 1058,256C1055.7,257.2 1051.8,256.3 1050,255C1048.2,253.7 1046.2,250.2 1047,248Z" fill="#ffc03c"/>
<use href="#r6" fill="none" stroke="#ff4343" stroke-width="2.5" stroke-linejoin="round"/>
<path id="r7" d="M371,130C371,141.7 371.7,134.2 371,140C370.3,145.8 368,156.7 367,165C366,173.3 366.2,184.2 365,190C363.8,195.8 366.3,193.8 360,200C353.7,206.2 337.5,217.8 327,227C316.5,236.2 304.5,246.2 297,255C289.5,263.8 285.2,272.5 282,280C278.8,287.5 278.2,294 278,300C277.8,306 280.7,310.8 281,316C281.3,321.2 281.3,326.3 280,331C278.7,335.7 274.8,339.3 273,344C271.2,348.7 269.2,353.8 269,359C268.8,364.2 271.5,369.2 272,375C272.5,380.8 271,388.8 272,394C273,399.2 276,402.2 278,406C280,409.8 281.3,413.3 284,417C286.7,420.7 290.3,424.3 294,428C297.7,431.7 301.8,435.8 306,439C310.2,442.2 314.3,444.7 319,447C323.7,449.3 328.8,451.7 334,453C339.2,454.3 345,455.2 350,455C355,454.8 359,453.2 364,452C369,450.8 374,448.3 380,448C386,447.7 394,450.5 400,450C406,449.5 411.8,446.8 416,445C420.2,443.2 421.7,441.2 425,439C428.3,436.8 433.2,434.2 436,432C438.8,429.8 440.7,428 442,426C443.3,424 442.7,423.8 444,420C445.3,416.2 449.7,408.7 450,403C450.3,397.3 447.7,390.5 446,386C444.3,381.5 442.3,379.8 440,376C437.7,372.2 432.8,366.8 432,363C431.2,359.2 430.3,355.5 435,353C439.7,350.5 454.7,350 460,348C465.3,346 464.8,342.2 467,341C469.2,339.8 473,342.3 473,341C473,339.7 467,336 467,333C467,330 471.2,327 473,323C474.8,319 476.7,312.8 478,309C479.3,305.2 480.7,303.2 481,300C481.3,296.8 483.8,291.7 480,290C476.2,288.3 459.8,290.5 458,290C456.2,289.5 467.7,288.5 469,287C470.3,285.5 467.7,283.8 466,281C464.3,278.2 460.8,273.2 459,270C457.2,266.8 457.3,264.5 455,262C452.7,259.5 447.2,258 445,255C442.8,252 444.3,246.7 442,244C439.7,241.3 433.5,241.2 431,239C428.5,236.8 427.5,233 427,231C426.5,229 426,227.7 428,227C430,226.3 435.8,226.3 439,227C442.2,227.7 444.8,230.8 447,231C449.2,231.2 451,230 452,228C453,226 452.3,221.8 453,219C453.7,216.2 454.2,212.3 456,211C457.8,209.7 462.2,210 464,211C465.8,212 467,215.2 467,217C467,218.8 463.7,221 464,222C464.3,223 467.2,222 469,223C470.8,224 473.5,225.8 475,228C476.5,230.2 477,233.7 478,236C479,238.3 481.2,240.2 481,242C480.8,243.8 478,245.2 477,247C476,248.8 473.3,252.5 475,253C476.7,253.5 483.8,251 487,250C490.2,249 491.5,247.8 494,247C496.5,246.2 500,246 502,245C504,244 503.7,242.8 506,241C508.3,239.2 512.8,236.3 516,234C519.2,231.7 521.7,229.5 525,227C528.3,224.5 532.8,220.7 536,219C539.2,217.3 540.7,218.7 544,217C547.3,215.3 551.7,211.8 556,209C560.3,206.2 566,202.5 570,200C574,197.5 576.8,197.2 580,194C583.2,190.8 585.7,185.2 589,181C592.3,176.8 595.5,172.3 600,169C604.5,165.7 610.2,163.3 616,161C621.8,158.7 631.3,157.7 635,155C638.7,152.3 636.8,148.2 638,145C639.2,141.8 640.2,138.8 642,136C643.8,133.2 645.5,130.7 649,128C652.5,125.3 660.3,123 663,120C665.7,117 664.7,118.3 665,110C665.3,101.7 714,76.7 665,70C616,63.3 420,60 371,70C322,80 371,118.3 371,130Z" fill="#ffe87a"/>
<mask id="m7" maskUnits="userSpaceOnUse" x="60" y="88" width="1160" height="850"><g fill="none" stroke-linejoin="round"><use href="#r7" stroke="#fff" stroke-width="19.1"/><use href="#r7" stroke="#000" stroke-width="16.9"/></g></mask>
<rect x="60" y="88" width="1160" height="850" fill="#ff5448" opacity="0.75" mask="url(#m7)"/>
<use href="#r7" fill="none" stroke="#ff4343" stroke-width="2.5" stroke-linejoin="round"/>
<path id="r8" d="M669,110C669,119.7 669.8,123.7 669,128C668.2,132.3 664.5,133.2 664,136C663.5,138.8 664.7,142.2 666,145C667.3,147.8 671,150.8 672,153C673,155.2 673,156.5 672,158C671,159.5 668.5,160.2 666,162C663.5,163.8 659.2,166.8 657,169C654.8,171.2 652.5,173.7 653,175C653.5,176.3 657.3,177.8 660,177C662.7,176.2 665.7,172.5 669,170C672.3,167.5 676.7,164.3 680,162C683.3,159.7 685.8,158.3 689,156C692.2,153.7 694.8,150.3 699,148C703.2,145.7 709.2,144.3 714,142C718.8,139.7 723.5,136.8 728,134C732.5,131.2 737,127.5 741,125C745,122.5 748.2,121.2 752,119C755.8,116.8 759.8,114 764,112C768.2,110 774.8,114 777,107C779.2,100 795,76.2 777,70C759,63.8 687,63.3 669,70C651,76.7 669,100.3 669,110Z" fill="#ffe87a"/>
<use href="#r8" fill="none" stroke="#ff4343" stroke-width="2.5" stroke-linejoin="round"/>
<path id="r9" d="M560,456C563.8,455.5 578.3,457.2 585,458C591.7,458.8 595,460.7 600,461C605,461.3 611.3,462.2 615,460C618.7,457.8 620,450.8 622,448C624,445.2 623.7,443.8 627,443C630.3,442.2 639.2,440.8 642,443C644.8,445.2 646,453 644,456C642,459 634.5,459 630,461C625.5,463 619.5,464.3 617,468C614.5,471.7 614.2,478.3 615,483C615.8,487.7 620.8,491.3 622,496C623.2,500.7 623.7,506.8 622,511C620.3,515.2 616.2,518.2 612,521C607.8,523.8 600.7,528 597,528C593.3,528 592,523 590,521C588,519 588,516.8 585,516C582,515.2 575.3,517.7 572,516C568.7,514.3 567,511 565,506C563,501 560,491 560,486C560,481 564.7,480.2 565,476C565.3,471.8 562.8,464.3 562,461C561.2,457.7 556.2,456.5 560,456Z" fill="#ffe87a"/>
<use href="#r9" fill="none" stroke="#ff4343" stroke-width="2.5" stroke-linejoin="round"/>
<path id="r10" d="M944,80C913.7,84.2 939.5,100.8 945,105C950.5,109.2 968.7,103.3 977,105C985.3,106.7 988.7,111.7 995,115C1001.3,118.3 1009.2,121 1015,125C1020.8,129 1024.2,136.5 1030,139C1035.8,141.5 1043.3,140 1050,140C1056.7,140 1062.5,138.8 1070,139C1077.5,139.2 1088.3,141.7 1095,141C1101.7,140.3 1105.5,139.3 1110,135C1114.5,130.7 1119.2,122.3 1122,115C1124.8,107.7 1126.2,96.8 1127,91C1127.8,85.2 1157.5,81.8 1127,80C1096.5,78.2 974.3,75.8 944,80Z" fill="#ffe87a"/>
<use href="#r10" fill="none" stroke="#ff4343" stroke-width="2.5" stroke-linejoin="round"/>
<path id="r11" d="M360,276C365.5,274.7 375.5,279 385,280C394.5,281 410.3,278.7 417,282C423.7,285.3 426.2,296.3 425,300C423.8,303.7 414.2,303.5 410,304C405.8,304.5 403.8,302.7 400,303C396.2,303.3 389.7,304.5 387,306C384.3,307.5 383.7,309.2 384,312C384.3,314.8 388.7,318.8 389,323C389.3,327.2 387.3,333 386,337C384.7,341 380.8,344.5 381,347C381.2,349.5 385.3,348.3 387,352C388.7,355.7 390.7,364.2 391,369C391.3,373.8 390.2,378 389,381C387.8,384 385.5,387 384,387C382.5,387 381.2,383.3 380,381C378.8,378.7 378.3,373.5 377,373C375.7,372.5 374.2,377.2 372,378C369.8,378.8 366.8,379.3 364,378C361.2,376.7 357.8,372.8 355,370C352.2,367.2 349.2,364.8 347,361C344.8,357.2 343.3,352 342,347C340.7,342 339.2,336.2 339,331C338.8,325.8 339.7,321.2 341,316C342.3,310.8 345.2,304.7 347,300C348.8,295.3 349.8,292 352,288C354.2,284 354.5,277.3 360,276Z" fill="#fffaaa"/>
<use href="#r11" fill="none" stroke="#ff4343" stroke-width="2.5" stroke-linejoin="round"/>
<path id="r12" d="M500,130C495.5,135.3 500,155.3 502,162C504,168.7 508.2,169.2 512,170C515.8,170.8 522,169.5 525,167C528,164.5 529.3,161.2 530,155C530.7,148.8 534,134.2 529,130C524,125.8 504.5,124.7 500,130Z" fill="#fffaaa"/>
<use href="#r12" fill="none" stroke="#ff4343" stroke-width="2.5" stroke-linejoin="round"/>
<path id="r13" d="M100,709C104.2,668.8 119.2,708.2 125,709C130.8,709.8 131.3,714.3 135,714C138.7,713.7 142.8,707.3 147,707C151.2,706.7 156.2,709.5 160,712C163.8,714.5 166.7,718.7 170,722C173.3,725.3 176.3,728.7 180,732C183.7,735.3 186.7,740.3 192,742C197.3,743.7 205.7,743.7 212,742C218.3,740.3 225.3,735 230,732C234.7,729 238,727.8 240,724C242,720.2 240,713.2 242,709C244,704.8 247.3,701.5 252,699C256.7,696.5 263.7,695 270,694C276.3,693 284.2,692.5 290,693C295.8,693.5 300.8,695.5 305,697C309.2,698.5 310,700.5 315,702C320,703.5 327.5,703.3 335,706C342.5,708.7 353.8,714 360,718C366.2,722 367.8,728.2 372,730C376.2,731.8 380.3,728.7 385,729C389.7,729.3 395,730.7 400,732C405,733.3 410,734.5 415,737C420,739.5 424.7,744.5 430,747C435.3,749.5 437.8,751.7 447,752C456.2,752.3 476.2,749.8 485,749C493.8,748.2 495.5,748.2 500,747C504.5,745.8 509.2,741.7 512,742C514.8,742.3 513.2,747 517,749C520.8,751 528.7,752.3 535,754C541.3,755.7 548.8,757.3 555,759C561.2,760.7 566.2,763.5 572,764C577.8,764.5 583.7,763.2 590,762C596.3,760.8 604.2,758.7 610,757C615.8,755.3 620,754.2 625,752C630,749.8 635.8,746.5 640,744C644.2,741.5 647.2,739.5 650,737C652.8,734.5 655,731.5 657,729C659,726.5 658.2,725.5 662,722C665.8,718.5 672.8,711.3 680,708C687.2,704.7 697.5,704.7 705,702C712.5,699.3 718.8,695.3 725,692C731.2,688.7 735.8,685.3 742,682C748.2,678.7 755.7,675 762,672C768.3,669 775,666.2 780,664C785,661.8 787,661 792,659C797,657 805.3,655.7 810,652C814.7,648.3 816.7,642 820,637C823.3,632 826.7,627 830,622C833.3,617 840,610.8 840,607C840,603.2 830,600.7 830,599C830,597.3 835,596.5 840,597C845,597.5 854.2,599.5 860,602C865.8,604.5 870.5,609.2 875,612C879.5,614.8 882,616.5 887,619C892,621.5 899.5,624.8 905,627C910.5,629.2 915,630 920,632C925,634 930.8,638.7 935,639C939.2,639.3 942.5,636.3 945,634C947.5,631.7 949.7,629 950,625C950.3,621 947.8,615.5 947,610C946.2,604.5 945,601 945,592C945,583 945.8,565.3 947,556C948.2,546.7 949,541 952,536C955,531 962,531 965,526C968,521 970.8,511 970,506C969.2,501 961.7,501 960,496C958.3,491 958.3,481.5 960,476C961.7,470.5 965.5,464.7 970,463C974.5,461.3 981.7,466.3 987,466C992.3,465.7 999.8,464.3 1002,461C1004.2,457.7 999.5,451 1000,446C1000.5,441 1004.7,435.7 1005,431C1005.3,426.3 1003.7,422.2 1002,418C1000.3,413.8 997,410.5 995,406C993,401.5 990.5,396.5 990,391C989.5,385.5 989.5,376.8 992,373C994.5,369.2 1000.3,368 1005,368C1009.7,368 1016.7,370 1020,373C1023.3,376 1021.7,382.2 1025,386C1028.3,389.8 1035.8,392.3 1040,396C1044.2,399.7 1045.8,406 1050,408C1054.2,410 1059.7,407.5 1065,408C1070.3,408.5 1077.5,408 1082,411C1086.5,414 1089.8,421.5 1092,426C1094.2,430.5 1096.2,435.2 1095,438C1093.8,440.8 1089.2,442.5 1085,443C1080.8,443.5 1074.2,440.5 1070,441C1065.8,441.5 1063.3,446.8 1060,446C1056.7,445.2 1053.3,436.8 1050,436C1046.7,435.2 1043.3,438.2 1040,441C1036.7,443.8 1032.5,448.8 1030,453C1027.5,457.2 1026.7,462.2 1025,466C1023.3,469.8 1019.2,470.3 1020,476C1020.8,481.7 1026.7,492.5 1030,500C1033.3,507.5 1036.7,516.3 1040,521C1043.3,525.7 1049.2,525.5 1050,528C1050.8,530.5 1047.2,533.5 1045,536C1042.8,538.5 1039.5,540.2 1037,543C1034.5,545.8 1030.5,550.8 1030,553C1029.5,555.2 1032.3,553.5 1034,556C1035.7,558.5 1037,564.3 1040,568C1043,571.7 1048.7,574.8 1052,578C1055.3,581.2 1056.7,585.8 1060,587C1063.3,588.2 1067.7,586.5 1072,585C1076.3,583.5 1082,579.7 1086,578C1090,576.3 1093.2,575 1096,575C1098.8,575 1100.7,576.3 1103,578C1105.3,579.7 1107.7,581.5 1110,585C1112.3,588.5 1114.2,596.2 1117,599C1119.8,601.8 1123.7,602 1127,602C1130.3,602 1134.3,599 1137,599C1139.7,599 1143,599.7 1143,602C1143,604.3 1138.8,609.5 1137,613C1135.2,616.5 1132.2,619 1132,623C1131.8,627 1134,631.7 1136,637C1138,642.3 1140.8,648.8 1144,655C1147.2,661.2 1151.2,668.8 1155,674C1158.8,679.2 1162.3,682 1167,686C1171.7,690 1177.5,694 1183,698C1188.5,702 1194.3,706 1200,710C1205.7,714 1210.3,718.7 1217,722C1223.7,725.3 1236.2,692 1240,730C1243.8,768 1430,913.3 1240,950C1050,986.7 290,990.2 100,950C-90,909.8 95.8,749.2 100,709Z" fill="#e01400"/>
<mask id="m13" maskUnits="userSpaceOnUse" x="60" y="88" width="1160" height="850"><g fill="none" stroke-linejoin="round"><use href="#r13" stroke="#fff" stroke-width="19.1"/><use href="#r13" stroke="#000" stroke-width="16.9"/></g></mask>
<rect x="60" y="88" width="1160" height="850" fill="#ff5448" opacity="0.75" mask="url(#m13)"/>
<use href="#r13" fill="none" stroke="#ff4343" stroke-width="2.5" stroke-linejoin="round"/>
<path id="r14" d="M1240,390C1233.3,349.3 1208,394 1200,396C1192,398 1195,400.7 1192,402C1189,403.3 1185.3,403.5 1182,404C1178.7,404.5 1175.3,404.8 1172,405C1168.7,405.2 1164.8,403.8 1162,405C1159.2,406.2 1157.7,409.7 1155,412C1152.3,414.3 1149,416.7 1146,419C1143,421.3 1139.7,424 1137,426C1134.3,428 1132.7,428.8 1130,431C1127.3,433.2 1123.7,436.7 1121,439C1118.3,441.3 1116,443.2 1114,445C1112,446.8 1111.7,447.5 1109,450C1106.3,452.5 1101.2,457.2 1098,460C1094.8,462.8 1091.8,463.7 1090,467C1088.2,470.3 1087,475.8 1087,480C1087,484.2 1088.5,489.7 1090,492C1091.5,494.3 1094.3,495 1096,494C1097.7,493 1098.2,488.8 1100,486C1101.8,483.2 1104.5,479 1107,477C1109.5,475 1112.7,475.8 1115,474C1117.3,472.2 1118.5,468 1121,466C1123.5,464 1126.8,463.5 1130,462C1133.2,460.5 1137.5,457.8 1140,457C1142.5,456.2 1144,455.3 1145,457C1146,458.7 1145.7,464 1146,467C1146.3,470 1146,471.7 1147,475C1148,478.3 1150.3,483 1152,487C1153.7,491 1155.5,495.5 1157,499C1158.5,502.5 1159.8,504.2 1161,508C1162.2,511.8 1163,517.2 1164,522C1165,526.8 1165.3,531.7 1167,537C1168.7,542.3 1173.3,548.8 1174,554C1174.7,559.2 1172.2,563.7 1171,568C1169.8,572.3 1166.8,576.3 1167,580C1167.2,583.7 1169.2,587.2 1172,590C1174.8,592.8 1180.3,594.5 1184,597C1187.7,599.5 1191.5,601.5 1194,605C1196.5,608.5 1197.7,612.2 1199,618C1200.3,623.8 1195.2,636.3 1202,640C1208.8,643.7 1233.7,681.7 1240,640C1246.3,598.3 1246.7,430.7 1240,390Z" fill="#e01400"/>
<mask id="m14" maskUnits="userSpaceOnUse" x="60" y="88" width="1160" height="850"><g fill="none" stroke-linejoin="round"><use href="#r14" stroke="#fff" stroke-width="19.1"/><use href="#r14" stroke="#000" stroke-width="16.9"/></g></mask>
<rect x="60" y="88" width="1160" height="850" fill="#ff5448" opacity="0.75" mask="url(#m14)"/>
<use href="#r14" fill="none" stroke="#ff4343" stroke-width="2.5" stroke-linejoin="round"/>
<path id="r15" d="M922,436C923,434.7 927.7,432.7 930,433C932.3,433.3 936,436.3 936,438C936,439.7 932,442.5 930,443C928,443.5 925.3,442.2 924,441C922.7,439.8 921,437.3 922,436Z" fill="#e01400"/>
<use href="#r15" fill="none" stroke="#ff4343" stroke-width="2.5" stroke-linejoin="round"/>
<path id="r16" d="M830,604C832.2,602 839.7,599.7 845,600C850.3,600.3 857.8,603.3 862,606C866.2,608.7 870.7,613 870,616C869.3,619 862.7,623.3 858,624C853.3,624.7 846.3,622 842,620C837.7,618 834,614.7 832,612C830,609.3 827.8,606 830,604Z" fill="#e01400"/>
<use href="#r16" fill="none" stroke="#ff4343" stroke-width="2.5" stroke-linejoin="round"/>
<path id="r17" d="M842,630C842.7,627.7 849.7,627 852,628C854.3,629 856.7,633.7 856,636C855.3,638.3 850.3,643 848,642C845.7,641 841.3,632.3 842,630Z" fill="#e01400"/>
<use href="#r17" fill="none" stroke="#ff4343" stroke-width="2.5" stroke-linejoin="round"/>
<path id="r18" d="M346,742C348.3,738.7 353.3,737 357,737C360.7,737 365.5,738.7 368,742C370.5,745.3 372,752 372,757C372,762 370.5,768.5 368,772C365.5,775.5 360.3,778 357,778C353.7,778 350.3,775.5 348,772C345.7,768.5 343.3,762 343,757C342.7,752 343.7,745.3 346,742Z" fill="#ff3300"/>
<use href="#r18" fill="none" stroke="#ff4343" stroke-width="2.5" stroke-linejoin="round"/>
<path id="r19" d="M600,768C601.5,766.3 607.8,765 612,764C616.2,763 623.7,761 625,762C626.3,763 622.2,767.8 620,770C617.8,772.2 614.8,774.3 612,775C609.2,775.7 605,775.2 603,774C601,772.8 598.5,769.7 600,768Z" fill="#ff3300"/>
<use href="#r19" fill="none" stroke="#ff4343" stroke-width="2.5" stroke-linejoin="round"/>
<path id="r20" d="M100,802C104.7,777.3 120.5,801.8 128,802C135.5,802.2 141.3,803.5 145,803C148.7,802.5 146.7,798.8 150,799C153.3,799.2 158.3,802.3 165,804C171.7,805.7 181.7,807.2 190,809C198.3,810.8 206.7,813.3 215,815C223.3,816.7 231.7,818.2 240,819C248.3,819.8 255,820.7 265,820C275,819.3 292.5,816.8 300,815C307.5,813.2 307.2,810.7 310,809C312.8,807.3 314.5,803.5 317,805C319.5,806.5 322,814.7 325,818C328,821.3 329.2,823 335,825C340.8,827 354.7,825.8 360,830C365.3,834.2 364.2,845.3 367,850C369.8,854.7 372.8,857.5 377,858C381.2,858.5 386.5,853 392,853C397.5,853 404.5,858 410,858C415.5,858 422.2,856.3 425,853C427.8,849.7 425.3,841.8 427,838C428.7,834.2 431.7,830.8 435,830C438.3,829.2 442,833.3 447,833C452,832.7 458.7,829.3 465,828C471.3,826.7 480,824.7 485,825C490,825.3 489.7,831.2 495,830C500.3,828.8 510.3,820 517,818C523.7,816 529.5,818.5 535,818C540.5,817.5 545.8,817.2 550,815C554.2,812.8 556.3,808.3 560,805C563.7,801.7 567.8,797.5 572,795C576.2,792.5 580.8,790 585,790C589.2,790 592.8,792.8 597,795C601.2,797.2 605.8,801.7 610,803C614.2,804.3 617.8,803.8 622,803C626.2,802.2 631.7,799.7 635,798C638.3,796.3 640,796 642,793C644,790 646.2,785.2 647,780C647.8,774.8 646.5,766.7 647,762C647.5,757.3 647.8,755.3 650,752C652.2,748.7 655,744.5 660,742C665,739.5 674.2,735.3 680,737C685.8,738.7 690,751.2 695,752C700,752.8 704.2,745.3 710,742C715.8,738.7 725.5,736.2 730,732C734.5,727.8 732.8,720.8 737,717C741.2,713.2 749.5,711.5 755,709C760.5,706.5 765,703.2 770,702C775,700.8 779.7,701.7 785,702C790.3,702.3 797.8,702.3 802,704C806.2,705.7 805.3,710.7 810,712C814.7,713.3 823.3,712.5 830,712C836.7,711.5 846,709 850,709C854,709 850.8,712.3 854,712C857.2,711.7 864.2,707.8 869,707C873.8,706.2 877.8,708.2 883,707C888.2,705.8 895.3,702.8 900,700C904.7,697.2 907.2,692.3 911,690C914.8,687.7 920.5,688.3 923,686C925.5,683.7 926,679.8 926,676C926,672.2 923,666.3 923,663C923,659.7 924,655 926,656C928,657 931.8,666 935,669C938.2,672 941,673.7 945,674C949,674.3 954.8,674.3 959,671C963.2,667.7 966.2,658.8 970,654C973.8,649.2 980.8,646.2 982,642C983.2,637.8 975.7,632.8 977,629C978.3,625.2 985,621.8 990,619C995,616.2 1002,614 1007,612C1012,610 1014.5,607.5 1020,607C1025.5,606.5 1033.3,607.3 1040,609C1046.7,610.7 1054.2,614.5 1060,617C1065.8,619.5 1070.8,622 1075,624C1079.2,626 1081.3,626.3 1085,629C1088.7,631.7 1093.3,636.3 1097,640C1100.7,643.7 1104.3,646.7 1107,651C1109.7,655.3 1110.2,661.5 1113,666C1115.8,670.5 1120,673.7 1124,678C1128,682.3 1131.5,687.8 1137,692C1142.5,696.2 1150.5,699.2 1157,703C1163.5,706.8 1169.5,710.7 1176,715C1182.5,719.3 1189.2,724.3 1196,729C1202.8,733.7 1209.7,738.7 1217,743C1224.3,747.3 1236.2,720.5 1240,755C1243.8,789.5 1430,917.5 1240,950C1050,982.5 290,974.7 100,950C-90,925.3 95.3,826.7 100,802Z" fill="#c00000"/>
<mask id="m20" maskUnits="userSpaceOnUse" x="60" y="88" width="1160" height="850"><g fill="none" stroke-linejoin="round"><use href="#r20" stroke="#fff" stroke-width="19.1"/><use href="#r20" stroke="#000" stroke-width="16.9"/></g></mask>
<rect x="60" y="88" width="1160" height="850" fill="#ff5448" opacity="0.75" mask="url(#m20)"/>
<use href="#r20" fill="none" stroke="#ff4343" stroke-width="2.5" stroke-linejoin="round"/>
<path id="r21" d="M1100,669C1101.7,667.7 1106.7,671 1110,674C1113.3,677 1116.3,682.8 1120,687C1123.7,691.2 1129.5,696.2 1132,699C1134.5,701.8 1137,701.8 1135,704C1133,706.2 1123.8,711.2 1120,712C1116.2,712.8 1114.5,712.3 1112,709C1109.5,705.7 1107,696.5 1105,692C1103,687.5 1100.8,685.8 1100,682C1099.2,678.2 1098.3,670.3 1100,669Z" fill="#e01400"/>
<use href="#r21" fill="none" stroke="#ff4343" stroke-width="2.5" stroke-linejoin="round"/>
<path id="r22" d="M1193,495L1196,505L1195,530L1196,560L1199,566L1206,566L1206,495Z" fill="#c00000"/>
<use href="#r22" fill="none" stroke="#ff4343" stroke-width="2.5" stroke-linejoin="round"/>
<path id="r23" d="M577,833C577.8,828.8 581.2,826.2 585,825C588.8,823.8 596,826.5 600,826C604,825.5 605.7,824 609,822C612.3,820 617,816.3 620,814C623,811.7 624.3,808.8 627,808C629.7,807.2 633.2,809.7 636,809C638.8,808.3 640.8,803.5 644,804C647.2,804.5 650.8,810.3 655,812C659.2,813.7 664.8,813.5 669,814C673.2,814.5 677.5,815.8 680,815C682.5,814.2 682.5,809.2 684,809C685.5,808.8 687.2,811.7 689,814C690.8,816.3 692.7,822.5 695,823C697.3,823.5 700.2,819.3 703,817C705.8,814.7 709.8,811.7 712,809C714.2,806.3 715.7,803.8 716,801C716.3,798.2 713,794 714,792C715,790 719.3,791.2 722,789C724.7,786.8 729.5,781.8 730,779C730.5,776.2 725.3,775.2 725,772C724.7,768.8 727,764.5 728,760C729,755.5 728.8,748.3 731,745C733.2,741.7 736.8,741.5 741,740C745.2,738.5 750.8,737.7 756,736C761.2,734.3 766.8,730.5 772,730C777.2,729.5 782.3,732.2 787,733C791.7,733.8 796.2,734 800,735C803.8,736 805,739.5 810,739C815,738.5 824.7,734.5 830,732C835.3,729.5 837.8,725.7 842,724C846.2,722.3 850.3,723.2 855,722C859.7,720.8 865.8,719.2 870,717C874.2,714.8 875.8,709.8 880,709C884.2,708.2 890.8,710.7 895,712C899.2,713.3 901.7,717 905,717C908.3,717 910.8,712 915,712C919.2,712 925,715.3 930,717C935,718.7 938.3,720.3 945,722C951.7,723.7 965,728.3 970,727C975,725.7 970,716.5 975,714C980,711.5 992.5,713.7 1000,712C1007.5,710.3 1013.8,706.5 1020,704C1026.2,701.5 1032,700.3 1037,697C1042,693.7 1046.7,687 1050,684C1053.3,681 1054.5,677.7 1057,679C1059.5,680.3 1062.8,687.3 1065,692C1067.2,696.7 1070.5,702 1070,707C1069.5,712 1065.3,716.7 1062,722C1058.7,727.3 1050.3,734 1050,739C1049.7,744 1056.3,747.3 1060,752C1063.7,756.7 1067,761.7 1072,767C1077,772.3 1084.5,779.8 1090,784C1095.5,788.2 1100,790.7 1105,792C1110,793.3 1115.5,793.7 1120,792C1124.5,790.3 1125.8,784.5 1132,782C1138.2,779.5 1150.7,778 1157,777C1163.3,776 1165.8,775.7 1170,776C1174.2,776.3 1177.8,777.7 1182,779C1186.2,780.3 1189.2,781.7 1195,784C1200.8,786.3 1209.5,791.2 1217,793C1224.5,794.8 1236.2,768.8 1240,795C1243.8,821.2 1328,924.2 1240,950C1152,975.8 800,954.2 712,950C624,945.8 711.5,932 712,925C712.5,918 713.3,913 715,908C716.7,903 724.5,898 722,895C719.5,892 707,890.3 700,890C693,889.7 686.7,893 680,893C673.3,893 667.5,891.3 660,890C652.5,888.7 640.8,885.3 635,885C629.2,884.7 629.2,888.3 625,888C620.8,887.7 615,885.5 610,883C605,880.5 599.2,876 595,873C590.8,870 587.5,868.8 585,865C582.5,861.2 581.3,855.3 580,850C578.7,844.7 576.2,837.2 577,833Z" fill="#a00000"/>
<mask id="m23" maskUnits="userSpaceOnUse" x="60" y="88" width="1160" height="850"><g fill="none" stroke-linejoin="round"><use href="#r23" stroke="#fff" stroke-width="19.1"/><use href="#r23" stroke="#000" stroke-width="16.9"/></g></mask>
<rect x="60" y="88" width="1160" height="850" fill="#ff5448" opacity="0.75" mask="url(#m23)"/>
<use href="#r23" fill="none" stroke="#ff4343" stroke-width="2.5" stroke-linejoin="round"/>
<path id="r24" d="M455,885C456.2,880.5 460.8,878.8 465,878C469.2,877.2 476.7,877.2 480,880C483.3,882.8 485,890 485,895C485,900 482.8,907 480,910C477.2,913 471.7,913.8 468,913C464.3,912.2 460.2,909.7 458,905C455.8,900.3 453.8,889.5 455,885Z" fill="#a00000"/>
<use href="#r24" fill="none" stroke="#ff4343" stroke-width="2.5" stroke-linejoin="round"/>
<path id="r25" d="M515,895C516.7,891.5 522.5,888.7 530,887C537.5,885.3 550,884.5 560,885C570,885.5 584.2,886.7 590,890C595.8,893.3 598.3,901.2 595,905C591.7,908.8 579.2,911.3 570,913C560.8,914.7 548.3,915.8 540,915C531.7,914.2 524.2,911.3 520,908C515.8,904.7 513.3,898.5 515,895Z" fill="#a00000"/>
<use href="#r25" fill="none" stroke="#ff4343" stroke-width="2.5" stroke-linejoin="round"/>
<path id="r26" d="M360,908C370,900 401.7,901.3 420,902C438.3,902.7 453.3,909.7 470,912C486.7,914.3 498.3,915 520,916C541.7,917 573.3,919.7 600,918C626.7,916.3 661.3,909 680,906C698.7,903 706.7,892.7 712,900C717.3,907.3 770.7,941.7 712,950C653.3,958.3 418.7,957 360,950C301.3,943 350,916 360,908Z" fill="#e01400"/>
<use href="#r26" fill="none" stroke="#ff4343" stroke-width="2.5" stroke-linejoin="round"/>
<path id="r27" d="M920,750C923,745 933.3,744.2 940,745C946.7,745.8 954.7,750 960,755C965.3,760 971.7,768.8 972,775C972.3,781.2 967.3,789.5 962,792C956.7,794.5 946.7,792.8 940,790C933.3,787.2 925.3,781.7 922,775C918.7,768.3 917,755 920,750Z" fill="#c00000"/>
<use href="#r27" fill="none" stroke="#ff4343" stroke-width="2.5" stroke-linejoin="round"/>
<path id="r28" d="M935,765C937,762.3 944.5,758.8 948,760C951.5,761.2 956.5,768.3 956,772C955.5,775.7 948.3,781.3 945,782C941.7,782.7 937.7,778.8 936,776C934.3,773.2 933,767.7 935,765Z" fill="#e01400"/>
<use href="#r28" fill="none" stroke="#ff4343" stroke-width="2.5" stroke-linejoin="round"/>
<path id="r29" d="M712,925C712.8,919.2 716.5,917.8 717,915C717.5,912.2 714.2,911.3 715,908C715.8,904.7 721.2,898.3 722,895C722.8,891.7 718.7,890.8 720,888C721.3,885.2 725.8,879.7 730,878C734.2,876.3 740,878.8 745,878C750,877.2 757.2,875.2 760,873C762.8,870.8 763.7,867.2 762,865C760.3,862.8 754.5,860.8 750,860C745.5,859.2 739.7,861.2 735,860C730.3,858.8 724.5,855.8 722,853C719.5,850.2 718.7,845.5 720,843C721.3,840.5 726.3,840.2 730,838C733.7,835.8 738.7,833 742,830C745.3,827 749.2,822.8 750,820C750.8,817.2 745.3,813.8 747,813C748.7,812.2 756.2,815 760,815C763.8,815 763.8,813 770,813C776.2,813 791.2,816.3 797,815C802.8,813.7 804.5,808.7 805,805C805.5,801.3 799.2,797.2 800,793C800.8,788.8 806.7,783.3 810,780C813.3,776.7 816.7,775 820,773C823.3,771 827.5,769.5 830,768C832.5,766.5 832.5,764.8 835,764C837.5,763.2 841.7,762.3 845,763C848.3,763.7 853.8,765.5 855,768C856.2,770.5 851.2,774.7 852,778C852.8,781.3 857,785.5 860,788C863,790.5 866.7,791.3 870,793C873.3,794.7 875.8,796.8 880,798C884.2,799.2 890,799.7 895,800C900,800.3 906.7,799.2 910,800C913.3,800.8 915.8,802.8 915,805C914.2,807.2 908.3,810.8 905,813C901.7,815.2 896.7,815.2 895,818C893.3,820.8 893.3,827.5 895,830C896.7,832.5 901.7,833.3 905,833C908.3,832.7 913,830.5 915,828C917,825.5 916.2,820.5 917,818C917.8,815.5 915.3,813.5 920,813C924.7,812.5 939.2,814.2 945,815C950.8,815.8 950.8,818 955,818C959.2,818 965.8,813.8 970,815C974.2,816.2 978,822 980,825C982,828 979.5,830.8 982,833C984.5,835.2 991.2,837.7 995,838C998.8,838.3 1000.8,834.7 1005,835C1009.2,835.3 1015.8,839.2 1020,840C1024.2,840.8 1027.5,840.8 1030,840C1032.5,839.2 1032.5,836 1035,835C1037.5,834 1041.7,832.7 1045,834C1048.3,835.3 1053,839.5 1055,843C1057,846.5 1057,850.8 1057,855C1057,859.2 1056.7,864.2 1055,868C1053.3,871.8 1047.8,875.2 1047,878C1046.2,880.8 1047.8,883.3 1050,885C1052.2,886.7 1057.2,888.3 1060,888C1062.8,887.7 1064.5,885.5 1067,883C1069.5,880.5 1072,875.5 1075,873C1078,870.5 1081.7,869.3 1085,868C1088.3,866.7 1088.8,868 1095,865C1101.2,862 1116.7,849.5 1122,850C1127.3,850.5 1125.7,863.8 1127,868C1128.3,872.2 1129.2,875.8 1130,875C1130.8,874.2 1132.5,867.2 1132,863C1131.5,858.8 1124.8,853 1127,850C1129.2,847 1139.5,846.2 1145,845C1150.5,843.8 1155.8,844.2 1160,843C1164.2,841.8 1166.3,839.3 1170,838C1173.7,836.7 1177.8,836.3 1182,835C1186.2,833.7 1190.8,830.3 1195,830C1199.2,829.7 1203.3,831.3 1207,833C1210.7,834.7 1211.5,838.8 1217,840C1222.5,841.2 1236.2,821.7 1240,840C1243.8,858.3 1328,931.7 1240,950C1152,968.3 800,954.2 712,950C624,945.8 711.2,930.8 712,925Z" fill="#f0008c"/>
<mask id="m29" maskUnits="userSpaceOnUse" x="60" y="88" width="1160" height="850"><g fill="none" stroke-linejoin="round"><use href="#r29" stroke="#fff" stroke-width="19.1"/><use href="#r29" stroke="#000" stroke-width="16.9"/></g></mask>
<rect x="60" y="88" width="1160" height="850" fill="#ff5448" opacity="0.75" mask="url(#m29)"/>
<use href="#r29" fill="none" stroke="#ff4343" stroke-width="2.5" stroke-linejoin="round"/>
<path id="r30" d="M764,767C765,767 769.2,775.3 772,779C774.8,782.7 778,786 781,789C784,792 789.5,795.5 790,797C790.5,798.5 786.7,799.2 784,798C781.3,796.8 777,793.2 774,790C771,786.8 767.7,782.8 766,779C764.3,775.2 763,767 764,767Z" fill="#f0008c"/>
<use href="#r30" fill="none" stroke="#ff4343" stroke-width="2.5" stroke-linejoin="round"/>
<path id="r31" d="M845,875C845.5,872.3 850.8,869.8 855,869C859.2,868.2 866.7,868.5 870,870C873.3,871.5 874.3,874.2 875,878C875.7,881.8 875.3,889.3 874,893C872.7,896.7 869.3,900 867,900C864.7,900 862.5,895.5 860,893C857.5,890.5 854.5,888 852,885C849.5,882 844.5,877.7 845,875Z" fill="#a00000"/>
<use href="#r31" fill="none" stroke="#ff4343" stroke-width="2.5" stroke-linejoin="round"/>
<path id="r32" d="M960,836C960.8,833.5 966.7,830.5 970,830C973.3,829.5 979,831 980,833C981,835 978.5,840 976,842C973.5,844 967.7,846 965,845C962.3,844 959.2,838.5 960,836Z" fill="#a00000"/>
<use href="#r32" fill="none" stroke="#ff4343" stroke-width="2.5" stroke-linejoin="round"/>
<path id="r33" d="M1133,858C1133.5,855.3 1137.8,850.2 1140,848C1142.2,845.8 1145.5,843.7 1146,845C1146.5,846.3 1144.5,852.8 1143,856C1141.5,859.2 1138.7,863.7 1137,864C1135.3,864.3 1132.5,860.7 1133,858Z" fill="#a00000"/>
<use href="#r33" fill="none" stroke="#ff4343" stroke-width="2.5" stroke-linejoin="round"/>
<path id="r34" d="M1152,343C1153.3,340.8 1158.7,337.8 1162,340C1165.3,342.2 1169.5,350.5 1172,356C1174.5,361.5 1177.3,369.2 1177,373C1176.7,376.8 1172.5,380.7 1170,379C1167.5,377.3 1164.7,367.3 1162,363C1159.3,358.7 1155.7,356.3 1154,353C1152.3,349.7 1150.7,345.2 1152,343Z" fill="#e01400"/>
<use href="#r34" fill="none" stroke="#ff4343" stroke-width="2.5" stroke-linejoin="round"/>
<path id="r35" d="M132,140C132.2,137 135.5,137.5 136.5,140C137.5,142.5 136.7,150.2 138,155C139.3,159.8 142.3,164.5 144.4,169C146.5,173.5 149.3,178.1 150.6,181.8C151.9,185.4 152.5,190.5 152,191C151.5,191.5 149.3,188.1 147.5,185C145.7,181.9 143.1,176.9 141,172.4C138.9,167.9 136.5,163.4 135,158C133.5,152.6 131.8,143 132,140Z" fill="#ff6600"/>
<use href="#r35" fill="none" stroke="#ff4343" stroke-width="2.5" stroke-linejoin="round"/>
<path id="r36" d="M144.4,140C144.9,137.7 148.5,136.2 150.6,140C152.7,143.8 154.4,157.1 157,163C159.6,168.9 163.4,171.8 166,175.5C168.6,179.2 171.9,182.9 172.5,185C173.1,187.1 171,189.1 169.4,188C167.8,186.9 165.6,182.3 163,178.6C160.4,174.9 156.3,170.2 153.8,166C151.2,161.8 149.1,157.9 147.5,153.6C145.9,149.3 143.9,142.3 144.4,140Z" fill="#ff6600"/>
<use href="#r36" fill="none" stroke="#ff4343" stroke-width="2.5" stroke-linejoin="round"/>
<path id="r37" d="M645.6,574.7C646.1,572.9 650.7,570.7 652,571.5C653.3,572.3 652.1,577.6 653.4,579.4C654.7,581.2 658.4,580.9 659.7,582.5C661,584.1 661.8,586.9 661,588.8C660.2,590.6 656.8,593.2 655,593.4C653.2,593.6 651,591.8 650,590C649,588.2 649.5,585 648.8,582.5C648,580 645.1,576.5 645.6,574.7Z" fill="#ff6600"/>
<use href="#r37" fill="none" stroke="#ff4343" stroke-width="2.5" stroke-linejoin="round"/>
<path d="M843.8,696.7C843.6,697.9 844.5,699 842.3,700C840.1,701 834.9,702.2 830.6,702.6C826.4,703 819.1,703.2 816.9,702.6C814.7,702 817,700 817.5,698.8C817.9,697.7 817.5,696.6 819.6,695.8C821.7,695.1 825.9,694.8 830,694.4C834,693.9 841.4,692.6 843.7,693C846,693.4 844.1,695.5 843.8,696.7Z" fill="none" stroke="#ff4545" stroke-width="1.5"/>
<path d="M721.3,767C721.9,768.3 720.4,770.8 717.4,771.4C714.3,772.1 706.9,771.3 703,771.1C699.1,770.8 697.5,770.6 694.1,769.9C690.6,769.3 682.9,768.3 682.2,767.2C681.6,766.1 686.7,764.2 690.2,763.2C693.6,762.2 699,760.9 702.9,760.9C706.9,761 710.8,762.6 713.9,763.6C716.9,764.6 720.7,765.7 721.3,767Z" fill="none" stroke="#ff4545" stroke-width="1.5"/>
<path d="M727.3,715.8C727,716.9 723.4,717.7 721.1,717.9C718.8,718.1 715.8,717.6 713.6,716.9C711.5,716.2 708.8,714.6 708.2,713.5C707.6,712.4 708.9,711.4 710,710.4C711.1,709.4 712.8,707.4 715,707.5C717.1,707.6 720.8,709.8 722.9,711.1C724.9,712.5 727.6,714.6 727.3,715.8Z" fill="none" stroke="#ff4545" stroke-width="1.5"/>
<path d="M931,622.8C931.4,623.2 932.3,623.7 931.8,624.4C931.4,625.1 929.5,626.2 928.2,626.9C926.9,627.5 925.5,627.7 924,628.2C922.4,628.7 919.8,630 919,629.9C918.2,629.9 919.3,628.4 919.1,627.8C919,627.2 917.3,627 917.8,626.3C918.4,625.7 921,624.8 922.4,624.1C923.8,623.4 925,622.4 926.2,622C927.3,621.7 928.6,621.8 929.5,622C930.3,622.1 930.6,622.4 931,622.8Z" fill="#c00000" stroke="#ff4545" stroke-width="1.5"/>
<path d="M767.6,665.9C767.7,667.2 767.1,668.5 765.4,670.2C763.7,672 760.5,675.1 757.5,676.3C754.4,677.5 749.7,677.5 747.2,677.4C744.6,677.3 742.5,676.7 742.3,675.6C742.2,674.6 744.5,672.5 746.4,671C748.4,669.6 750.8,668.3 753.9,666.9C756.9,665.5 762.5,663 764.8,662.9C767.1,662.7 767.5,664.7 767.6,665.9Z" fill="#c00000" stroke="#ff4545" stroke-width="1.5"/>
<path d="M812,709.2C811.6,710.3 809,711 807.6,711.5C806.2,711.9 805.3,712 803.7,712C802.1,712 799.2,712.4 798.1,711.5C796.9,710.7 796.3,708.1 796.7,706.9C797.2,705.7 799.5,704.9 800.8,704.5C802.2,704 803.4,703.9 804.9,703.9C806.4,704 808.8,703.9 810,704.8C811.2,705.7 812.4,708.1 812,709.2Z" fill="none" stroke="#ff4545" stroke-width="1.5"/>
<path d="M971.5,701.5C972.1,701.9 973.2,702.6 972.3,703.4C971.4,704.3 968.1,705.5 965.9,706.6C963.7,707.7 961,709.5 959.1,710.1C957.2,710.7 955.2,710.4 954.6,710C954,709.5 954.6,708.4 955.3,707.6C956.1,706.7 957.4,705.8 958.8,704.8C960.3,703.7 962.4,701.8 964,701.2C965.6,700.7 967.1,701.3 968.4,701.3C969.6,701.4 970.8,701.2 971.5,701.5Z" fill="#c00000" stroke="#ff4545" stroke-width="1.5"/>
<path d="M798,685.8C797.9,686.5 794.6,688.4 792.3,689.7C790,691.1 787.2,692.6 784,693.9C780.8,695.3 775.9,696.9 773.1,697.6C770.3,698.3 768.7,698.1 767.4,698C766.1,698 765.4,697.8 765.4,697.3C765.4,696.9 766.7,696.2 767.4,695.3C768.2,694.5 767.7,693.3 770.1,692.1C772.5,691 778.1,689.4 782,688.3C785.8,687.1 790.6,685.7 793.3,685.2C795.9,684.8 798.2,685 798,685.8Z" fill="#c00000" stroke="#ff4545" stroke-width="1.5"/>
<path d="M704.2,710.7C704.7,711.3 704.4,712.7 702.6,714C700.8,715.3 696,717.4 693.2,718.3C690.4,719.2 687,719.7 685.8,719.4C684.7,719.2 685.7,717.8 686.6,716.7C687.4,715.7 689,714 691.2,713C693.4,711.9 697.4,710.7 699.6,710.3C701.7,710 703.7,710.1 704.2,710.7Z" fill="#c00000" stroke="#ff4545" stroke-width="1.5"/>
<path d="M722.5,728.4C722.6,729.3 720.1,730.4 719.1,731.5C718.1,732.6 717.7,734.6 716.6,734.9C715.4,735.2 713.3,734.2 712.3,733.3C711.4,732.4 711,730.9 710.8,729.6C710.6,728.2 710.2,726 711,725.1C711.8,724.3 714.2,724.2 715.5,724.4C716.8,724.5 717.5,725.2 718.6,725.9C719.8,726.6 722.5,727.4 722.5,728.4Z" fill="none" stroke="#ff4545" stroke-width="1.5"/>
<path d="M856.6,645.7C856.3,646.6 853.1,647.4 851.1,648C849,648.6 846.6,649.3 844.5,649.3C842.3,649.3 839.4,648.4 838.1,647.8C836.8,647.2 836.6,646.3 836.5,645.6C836.4,644.8 836.1,643.8 837.4,643.1C838.8,642.4 841.9,641.5 844.5,641.4C847.1,641.3 850.9,642 853,642.7C855,643.4 856.9,644.8 856.6,645.7Z" fill="none" stroke="#ff4545" stroke-width="1.5"/>
<path d="M992.6,649.4C992.8,650.3 990.9,652 989.7,653.1C988.5,654.2 987.2,655.2 985.6,655.7C984,656.2 981.5,656.4 980,656C978.6,655.6 977.2,654.4 976.9,653.3C976.5,652.2 976.8,650.3 977.9,649.2C978.9,648.1 981.6,647.1 983.4,646.8C985.1,646.5 986.6,647.2 988.1,647.6C989.7,648 992.3,648.5 992.6,649.4Z" fill="none" stroke="#ff4545" stroke-width="1.5"/>
<path d="M790.5,702.9C790.4,704 787.2,705.8 784.5,706.8C781.8,707.8 778,708.5 774.3,709C770.7,709.5 764.3,710.5 762.8,710.1C761.4,709.6 764.1,707.6 765.6,706.3C767.1,705 768.8,703.2 772,702.2C775.3,701.3 782.1,700.4 785.2,700.5C788.3,700.6 790.6,701.9 790.5,702.9Z" fill="none" stroke="#ff4545" stroke-width="1.5"/>
<path d="M863.8,708.5C864.2,709 865.4,709.4 864.8,710.2C864.2,710.9 861.9,712.1 860.1,712.8C858.3,713.6 855.4,714.3 853.9,714.4C852.4,714.6 851.8,714 850.9,713.8C849.9,713.6 848.9,713.7 848.3,713.3C847.6,713 846.2,712.4 846.9,711.8C847.5,711.1 850.4,710.1 852.3,709.2C854.2,708.4 856.8,707.1 858.5,706.7C860.3,706.3 862,706.8 862.9,707.1C863.8,707.4 863.5,708 863.8,708.5Z" fill="none" stroke="#ff4545" stroke-width="1.5"/>
<path d="M750.1,743.6C750.2,744.2 751.3,744.8 750.3,745.5C749.4,746.2 747,747.2 744.4,748C741.8,748.7 737.3,749.8 734.8,749.9C732.3,750 731,749 729.4,748.6C727.8,748.2 725.9,748 725.2,747.3C724.6,746.7 724.2,745.7 725.6,744.8C727.1,743.9 730.8,742.9 733.9,742.2C736.9,741.4 741.3,740.5 744,740.4C746.7,740.3 748.8,741.1 749.8,741.6C750.8,742.2 750,742.9 750.1,743.6Z" fill="none" stroke="#ff4545" stroke-width="1.5"/>
<path d="M766.5,725.2C766.1,726.5 765.6,728 763.4,728.5C761.2,729.1 756.5,728.7 753.3,728.4C750,728.2 746.9,728 743.7,727.1C740.5,726.2 734.8,724.5 734.2,723.1C733.7,721.8 737.2,719.5 740.4,718.9C743.7,718.4 749.6,719.5 753.8,719.9C758.1,720.2 763.8,720.1 765.9,721C768,721.9 766.9,724 766.5,725.2Z" fill="#c00000" stroke="#ff4545" stroke-width="1.5"/>
<path d="M949,630.5C949.6,632 948.6,635 947.1,636.6C945.6,638.1 942.3,639.2 939.9,640C937.5,640.7 934.5,641.5 932.8,641C931.1,640.6 930.3,638.8 929.6,637.3C929,635.8 927.8,633.6 928.9,632.2C929.9,630.7 933.5,629.3 935.9,628.5C938.3,627.8 941,627.3 943.2,627.6C945.3,628 948.3,629 949,630.5Z" fill="none" stroke="#ff4545" stroke-width="1.5"/>
<path d="M839.3,693.3C839.4,694.3 839,695.5 837.6,696.9C836.2,698.4 834.2,700.7 831.1,702.1C828,703.5 821.6,705.4 818.9,705.6C816.3,705.7 816.8,703.5 815.2,702.8C813.6,702.1 809.1,702.4 809.1,701.2C809.1,700 812.3,697.1 815.3,695.6C818.3,694.1 823.7,693 827.2,692.1C830.8,691.3 834.8,690.5 836.8,690.6C838.9,690.8 839.2,692.2 839.3,693.3Z" fill="#c00000" stroke="#ff4545" stroke-width="1.5"/>
<path d="M812.3,694C812.3,696 811.9,698.8 810.9,699.7C809.9,700.5 807.7,699.5 806.2,699.1C804.8,698.7 802.7,698.6 802,697.4C801.4,696.2 801.6,693.7 802.1,691.9C802.6,690.1 803.5,687.1 804.9,686.5C806.4,685.8 809.5,686.5 810.7,687.8C811.9,689.1 812.2,692 812.3,694Z" fill="#e01400" stroke="#ff4545" stroke-width="1.5"/>
<path d="M855.3,664.3C855.5,665.6 855.6,667.7 853.7,668.1C851.8,668.5 847,667.3 843.9,666.8C840.8,666.3 838,666.1 834.9,665.1C831.9,664 827.4,662.3 825.6,660.7C823.9,659 822.4,655.7 824.4,655C826.4,654.2 834.2,656 837.8,656.4C841.4,656.7 843.7,656.4 846.1,657.1C848.6,657.8 850.8,659.4 852.3,660.6C853.8,661.8 855,663.1 855.3,664.3Z" fill="#c00000" stroke="#ff4545" stroke-width="1.5"/>
<path d="M806.7,705.2C807.1,706.6 807,708.2 806.5,709.6C806,711 804.9,713.2 803.7,713.5C802.5,713.9 800.7,712.1 799.3,711.8C797.8,711.5 796,712.4 795,711.7C793.9,711.1 792.8,709.2 792.9,707.9C792.9,706.6 794.2,704.9 795.3,703.9C796.3,702.9 797.8,702.3 799.2,701.9C800.7,701.5 802.8,701 804,701.6C805.3,702.1 806.3,703.9 806.7,705.2Z" fill="none" stroke="#ff4545" stroke-width="1.5"/>
<path d="M866.4,702.2C866.5,703.4 864,705 862.8,705.9C861.7,706.9 860.8,707.4 859.3,707.9C857.9,708.4 855.2,709.8 854.2,709.1C853.2,708.5 853.7,705.7 853.1,704.1C852.4,702.4 850.2,700.8 850.4,699.4C850.6,697.9 852.8,695.8 854.3,695.4C855.8,695 857.8,696.6 859.2,697.2C860.6,697.7 861.4,697.8 862.6,698.7C863.8,699.5 866.4,701 866.4,702.2Z" fill="none" stroke="#ff4545" stroke-width="1.5"/>
<path d="M959.3,673.4C959.4,674.2 960.2,675.2 957.9,676.1C955.6,676.9 949.6,677.8 945.4,678.3C941.2,678.8 934.2,679.5 932.6,679.1C930.9,678.7 933.7,677 935.6,675.9C937.4,674.8 940.2,673.3 943.8,672.5C947.5,671.7 954.9,671 957.5,671.1C960,671.3 959.3,672.5 959.3,673.4Z" fill="#c00000" stroke="#ff4545" stroke-width="1.5"/>
<path d="M939.2,702.5C939.5,703.9 941.7,705.2 939.1,707C936.5,708.8 928.4,712.2 923.5,713.4C918.6,714.6 910.9,715.2 909.5,714.4C908.1,713.6 912.7,710.2 914.9,708.5C917.1,706.8 918.9,705.9 922.6,704.2C926.3,702.6 934.3,698.8 937.1,698.5C939.9,698.2 938.9,701.1 939.2,702.5Z" fill="none" stroke="#ff4545" stroke-width="1.5"/>
<path d="M934.8,658.5C935.4,659.4 937.4,660.6 936.6,661.7C935.8,662.7 932.3,664.5 930,664.8C927.8,665.1 925.2,663.9 923.1,663.5C921,663.1 918.8,663.2 917.5,662.5C916.2,661.8 914.7,660.4 915.4,659.4C916.1,658.4 919.4,657.1 921.5,656.5C923.6,655.8 926.1,655.6 928.1,655.6C930.1,655.6 932.3,655.8 933.4,656.3C934.5,656.8 934.3,657.6 934.8,658.5Z" fill="none" stroke="#ff4545" stroke-width="1.5"/>
<path d="M968.5,708.2C968.2,709.4 965.2,710.3 963.7,711.5C962.2,712.6 961.5,714.6 959.5,715.2C957.5,715.7 953.8,715.2 951.6,714.7C949.4,714.2 947.2,713.2 946.2,712.1C945.2,711 944.7,709.2 945.6,708.1C946.6,707 949.6,706.3 951.8,705.5C953.9,704.6 956.1,703.1 958.4,703C960.8,702.8 964.1,703.6 965.8,704.5C967.4,705.4 968.9,707.1 968.5,708.2Z" fill="none" stroke="#ff4545" stroke-width="1.5"/>
<path d="M822.8,723.7C823.1,724.8 822.1,727 820.8,727.9C819.4,728.9 816.2,729.7 814.7,729.4C813.3,729.1 812.7,727.2 812.1,726.2C811.5,725.2 810.9,724.6 811.1,723.5C811.4,722.5 812.4,720.2 813.6,719.9C814.9,719.5 817.1,720.8 818.7,721.5C820.2,722.1 822.4,722.7 822.8,723.7Z" fill="#e01400" stroke="#ff4545" stroke-width="1.5"/>
<path d="M877.8,693.6C878.1,695.5 876.4,699.5 874.3,700.3C872.1,701.1 867.8,698.9 864.9,698.3C862.1,697.6 858.5,697.9 857.1,696.5C855.7,695.1 855.3,691.4 856.6,689.9C857.9,688.5 862.1,687.9 864.8,687.7C867.4,687.4 870.2,687.5 872.4,688.5C874.6,689.4 877.5,691.6 877.8,693.6Z" fill="#ff3300" stroke="#ff4545" stroke-width="1.5"/>
<path d="M806.5,696.3C806.2,697.8 804.5,699.8 802.3,700.1C800.2,700.3 796.2,698.6 793.4,697.8C790.7,697 787.1,696.5 785.8,695.3C784.5,694.1 784.2,691.4 785.7,690.7C787.1,690 791.5,690.9 794.5,691C797.6,691.1 802.1,690.4 804.1,691.3C806.1,692.2 806.8,694.9 806.5,696.3Z" fill="#e01400" stroke="#ff4545" stroke-width="1.5"/>
<path d="M868.6,701.3C868.9,702 867.3,703.5 866.1,704.5C864.9,705.4 863.4,706.1 861.6,706.9C859.9,707.7 857.7,709 855.8,709.3C853.9,709.6 851.4,709.1 850.3,708.6C849.2,708 849.5,706.9 849.2,706C848.9,705.1 847.3,704 848.2,703.1C849,702.2 852.5,701.2 854.3,700.7C856.2,700.3 857.8,700.3 859.5,700.2C861.2,700.1 862.9,699.7 864.4,699.9C865.9,700.1 868.3,700.5 868.6,701.3Z" fill="#ff3300" stroke="#ff4545" stroke-width="1.5"/>
<path d="M820.9,717.6C821.1,718.5 822.8,719.7 822.4,720.4C821.9,721.1 819.5,721.4 818.2,721.7C816.9,721.9 815.8,722 814.5,721.9C813.3,721.8 810.9,721.6 810.5,720.9C810.1,720.2 811.7,718.8 812.2,717.8C812.6,716.9 812.6,716.1 813.4,715.4C814.3,714.6 815.9,713.5 817.2,713.4C818.4,713.3 820.4,714.1 821,714.7C821.6,715.4 820.7,716.6 820.9,717.6Z" fill="none" stroke="#ff4545" stroke-width="1.5"/>
<path d="M888.4,621.5C888.3,622.6 886.2,624.4 884.1,625.7C882,627 878.3,628.9 875.8,629.5C873.2,630 870.4,629.5 868.8,629C867.2,628.5 865.4,627.6 866.1,626.3C866.8,625 869.9,622.6 872.9,621.4C876,620.1 881.7,618.8 884.3,618.8C886.8,618.8 888.4,620.3 888.4,621.5Z" fill="none" stroke="#ff4545" stroke-width="1.5"/>
<path d="M815.5,725C815.1,725.8 813.4,726.6 811.4,727.7C809.5,728.8 807.1,730.7 803.7,731.6C800.4,732.5 794.1,733.3 791.3,733.3C788.5,733.3 786.8,732.6 787,731.8C787.3,730.9 790.2,729.4 792.8,728.4C795.3,727.3 798.7,726.3 802.2,725.4C805.7,724.5 811.6,723 813.8,722.9C816.1,722.9 815.9,724.2 815.5,725Z" fill="none" stroke="#ff4545" stroke-width="1.5"/>
<path d="M890.3,705.3C890,706.1 883.9,708.4 881.2,709.5C878.4,710.7 876.7,711.4 874.1,712.2C871.4,713 867.7,713.9 865.4,714.1C863,714.3 860.6,714 860.1,713.4C859.6,712.8 860.1,711.3 862.2,710.3C864.4,709.3 869.3,708.3 872.8,707.4C876.2,706.5 880,705.2 882.9,704.8C885.8,704.5 890.6,704.5 890.3,705.3Z" fill="#ff3300" stroke="#ff4545" stroke-width="1.5"/>
<path d="M850.1,660.5C850.4,661.7 848.2,663.9 846.4,665.5C844.7,667.1 842,669.2 839.6,669.9C837.1,670.6 833.1,670.4 831.6,669.6C830,668.8 829.5,666.6 830.3,665.1C831.2,663.6 834.3,661.8 836.7,660.6C839.1,659.5 842.6,658 844.8,658C847,658 849.9,659.2 850.1,660.5Z" fill="#ff3300" stroke="#ff4545" stroke-width="1.5"/>
<path d="M821.1,712.3C821,713.2 818.7,714.5 815.9,715.1C813.1,715.8 808.9,715.8 804.5,716.2C800.2,716.5 791.9,717.7 789.7,717.3C787.4,716.9 790.3,714.9 791.1,713.9C792,713 792.7,712.4 794.9,711.6C797,710.8 800.6,709.5 804.2,709.2C807.8,708.9 813.6,709.3 816.4,709.8C819.2,710.4 821.1,711.4 821.1,712.3Z" fill="none" stroke="#ff4545" stroke-width="1.5"/>
<path d="M789.1,733.4C789.1,734.3 787.6,735.3 786.2,735.9C784.9,736.5 782.5,737.2 781.1,736.9C779.7,736.7 778.7,735.3 777.9,734.4C777.1,733.4 775.7,731.9 776.3,731.2C776.9,730.6 779.9,730.5 781.6,730.4C783.4,730.3 785.4,729.9 786.7,730.4C787.9,730.9 789.2,732.4 789.1,733.4Z" fill="#ff3300" stroke="#ff4545" stroke-width="1.5"/>
<path d="M801.9,678.8C802.3,680.3 802.6,682.8 800.9,683.6C799.2,684.5 794.4,684.1 791.6,684C788.8,683.9 786.3,683.7 784.2,683C782.1,682.4 780.3,681.3 778.9,679.9C777.4,678.6 774.9,676.4 775.6,675C776.2,673.5 779.9,671.6 782.7,671.2C785.4,670.9 789.3,672.4 792,673C794.7,673.6 797.2,673.9 798.9,674.9C800.5,675.9 801.6,677.4 801.9,678.8Z" fill="#e01400" stroke="#ff4545" stroke-width="1.5"/>
<path d="M811.6,667.6C812.2,669 811.8,671.8 810.6,673C809.3,674.1 805.9,674.5 804.2,674.5C802.5,674.5 801.5,673.7 800.4,672.9C799.3,672.1 797.4,671 797.6,669.8C797.7,668.6 799.5,666.5 801.1,665.7C802.7,664.9 805.4,664.4 807.1,664.8C808.9,665.1 811,666.2 811.6,667.6Z" fill="none" stroke="#ff4545" stroke-width="1.5"/>
<path d="M726.8,688.9C726.9,689.5 720.3,692.8 717.1,694.6C713.9,696.4 710.4,698.7 707.6,699.7C704.8,700.7 702.4,700.5 700.3,700.5C698.2,700.6 694.3,701.1 695.2,700C696,699 701.9,695.8 705.4,694.3C709,692.7 713,691.9 716.5,691C720.1,690.1 726.7,688.3 726.8,688.9Z" fill="#c00000" stroke="#ff4545" stroke-width="1.5"/>
<path d="M803.9,679.4C804.1,680.9 803.6,682.7 802.3,684.2C801,685.6 798.5,687.3 796.2,687.9C793.9,688.4 790.7,688.1 788.6,687.4C786.5,686.7 783.7,685.1 783.6,683.6C783.5,682.2 786.3,680.2 787.9,678.6C789.5,677.1 791.2,674.9 793.4,674.4C795.6,673.8 799.2,674.5 801,675.3C802.7,676.1 803.7,677.9 803.9,679.4Z" fill="none" stroke="#ff4545" stroke-width="1.5"/>
<path d="M905.4,689.5C904.9,690.8 900.6,692.4 898.4,693.5C896.3,694.6 894.8,695.1 892.6,696C890.3,696.8 887.4,698.3 884.8,698.6C882.1,698.9 878.2,698.3 876.8,697.5C875.3,696.7 876,694.9 876.1,693.7C876.3,692.5 876.4,691.3 877.6,690.2C878.8,689 881,687.4 883.4,686.8C885.7,686.2 888.5,686.7 891.5,686.5C894.5,686.3 899.1,685.3 901.4,685.8C903.7,686.3 905.9,688.2 905.4,689.5Z" fill="none" stroke="#ff4545" stroke-width="1.5"/>
<path d="M921.4,656.8C921.2,658 921.8,659.5 921.2,660.6C920.5,661.6 918.8,663.3 917.5,663.3C916.3,663.4 914.6,661.7 913.6,660.8C912.6,659.9 911.9,659 911.4,658C910.9,656.9 910.3,655.7 910.4,654.5C910.4,653.3 910.8,651.6 911.6,650.7C912.5,649.8 914.3,649 915.6,649C917,648.9 918.6,649.6 919.8,650.3C921,650.9 922.5,652.1 922.8,653.1C923,654.2 921.7,655.5 921.4,656.8Z" fill="#e01400" stroke="#ff4545" stroke-width="1.5"/>
<path d="M998.9,693.6C998.9,694.8 998.6,696.5 996.2,697.5C993.9,698.4 988.4,698.5 984.6,699.4C980.8,700.2 976.1,702.3 973.4,702.4C970.7,702.5 969.1,700.8 968.5,699.9C967.9,698.9 968.4,697.8 969.6,696.9C970.7,695.9 972.9,695.2 975.4,694.1C977.8,693.1 980.8,691.2 984.4,690.6C987.9,689.9 994.1,689.7 996.5,690.2C998.9,690.7 999,692.4 998.9,693.6Z" fill="none" stroke="#ff4545" stroke-width="1.5"/>
<path d="M726.5,761.3C726.3,762.6 724,763.9 721.5,764.5C719.1,765.1 715,765.3 711.9,764.8C708.9,764.3 705.6,762.6 703.1,761.5C700.6,760.5 698.6,759.6 697,758.4C695.5,757.3 693.6,755.8 693.7,754.7C693.8,753.7 695.9,753.2 697.5,752.3C699.1,751.4 700.7,749.3 703.4,749.3C706.2,749.4 710.9,751.5 714.1,752.7C717.3,753.8 720.5,755 722.6,756.4C724.6,757.9 726.7,759.9 726.5,761.3Z" fill="none" stroke="#ff4545" stroke-width="1.5"/>
<path d="M779.9,690.3C780.1,691.7 778.1,693.6 777.3,695C776.4,696.3 776,697.4 774.8,698.3C773.5,699.1 770.8,700.5 769.7,700.1C768.5,699.7 768.4,697.2 767.9,695.9C767.4,694.5 766.2,693.2 766.6,692C767,690.8 768.7,689.4 770.2,688.5C771.8,687.6 774.3,686.1 775.9,686.4C777.5,686.7 779.7,688.9 779.9,690.3Z" fill="none" stroke="#ff4545" stroke-width="1.5"/>
<path d="M972.7,659.3C972,660.4 967.2,660.9 963.9,660.8C960.6,660.6 956.3,659.3 952.8,658.3C949.3,657.3 944.6,656.1 942.9,654.9C941.3,653.8 941.4,652.1 943.1,651.3C944.7,650.4 948.6,649.4 952.8,649.9C956.9,650.3 964.8,652.5 968.1,654C971.4,655.6 973.4,658.2 972.7,659.3Z" fill="#e01400" stroke="#ff4545" stroke-width="1.5"/>
<path d="M844.5,719.6C845.3,720.4 845,722.3 844.3,723.6C843.5,725 841.8,727 840.1,727.7C838.5,728.4 836,727.7 834.1,727.9C832.3,728.1 830.7,728.9 829,728.8C827.4,728.7 824.8,728.3 824.2,727.3C823.6,726.3 824.6,724.3 825.6,723C826.6,721.7 828.7,720.3 830.3,719.5C832,718.7 834.1,718.2 835.6,718.1C837.2,718 838,718.6 839.5,718.8C841,719.1 843.7,718.8 844.5,719.6Z" fill="none" stroke="#ff4545" stroke-width="1.5"/>
<path d="M754,712.9C753.3,713.7 749,713.6 746.7,713.8C744.4,714.1 742.9,714.5 740.3,714.3C737.7,714.1 733.7,713.7 731.3,712.8C729,711.9 727.7,710.3 726.3,709.1C724.8,707.9 722.6,706.5 722.6,705.5C722.6,704.6 724.5,703.9 726.3,703.4C728.1,702.9 730.5,702.4 733.4,702.6C736.4,702.8 741.1,703.5 743.9,704.5C746.8,705.5 749,707.4 750.7,708.8C752.4,710.2 754.7,712 754,712.9Z" fill="#ff3300" stroke="#ff4545" stroke-width="1.5"/>
<path d="M756.4,667.8C757.6,668.6 761.9,669.7 760.4,671.1C758.9,672.6 751.7,674.9 747.5,676.5C743.4,678 738,680.3 735.5,680.4C733,680.5 733.2,678.4 732.6,677.1C732.1,675.8 730.4,674.6 732.2,672.8C734,670.9 740,667.3 743.5,666.2C746.9,665 750.7,665.9 752.8,666.2C755,666.4 755.1,667 756.4,667.8Z" fill="#ff3300" stroke="#ff4545" stroke-width="1.5"/>
<path d="M953.3,665.3C953.6,666.1 952.1,667.5 951.5,668.6C950.8,669.8 950.7,671.4 949.5,672.2C948.2,673 945.8,672.8 943.8,673.4C941.8,674.1 938.6,676.1 937.3,676.1C936.1,676 936,674.1 936.1,673.1C936.2,672.1 937,670.9 937.9,670C938.7,669 939.8,668 941.1,667.2C942.3,666.4 943.8,665.5 945.3,665C946.8,664.5 948.7,664.1 950,664.2C951.3,664.2 953.1,664.6 953.3,665.3Z" fill="none" stroke="#ff4545" stroke-width="1.5"/>
<path d="M922.9,644.3C923.2,645 920.1,646.6 918.4,647.9C916.6,649.2 915.2,651.1 912.4,652.1C909.7,653.1 904.2,653.9 901.9,653.8C899.6,653.6 898.8,652.2 898.6,651.2C898.3,650.1 898.4,648.4 900.3,647.2C902.3,646 907.4,644.4 910.1,643.9C912.8,643.4 914.4,644.1 916.5,644.1C918.6,644.2 922.6,643.7 922.9,644.3Z" fill="none" stroke="#ff4545" stroke-width="1.5"/>
<path d="M944,625.6C943.9,626.8 940,628.9 937.5,630.1C935.1,631.3 931.6,632.6 929.2,632.8C926.9,633 925.3,632.1 923.4,631.3C921.6,630.6 917.3,629.5 918.1,628.6C918.8,627.6 924.8,626.5 928.2,625.5C931.5,624.5 935.5,622.6 938.1,622.6C940.8,622.7 944.1,624.4 944,625.6Z" fill="none" stroke="#ff4545" stroke-width="1.5"/>
<path d="M872.2,700.1C871.9,701.2 869.2,701.4 867.8,702.3C866.4,703.2 865,705.7 863.6,705.6C862.1,705.5 860.7,703 859.1,701.7C857.5,700.5 854.2,699.3 854,698.1C853.8,696.9 856.7,695.6 857.9,694.4C859.1,693.3 859.6,691.8 861.2,691.2C862.7,690.6 865.9,690.3 867.4,691.1C868.8,691.8 868.9,694.4 869.7,695.9C870.5,697.4 872.6,699 872.2,700.1Z" fill="none" stroke="#ff4545" stroke-width="1.5"/>
<path d="M796.9,715.8C796.9,716.8 796.2,718.4 793.9,718.9C791.6,719.5 786.7,719.2 783.1,719.1C779.5,719 773.7,718.9 772.4,718.2C771.1,717.5 773.6,715.9 775.3,714.9C776.9,713.9 779.3,712.7 782.3,712.4C785.3,712 790.9,712.4 793.4,713C795.8,713.6 796.8,714.8 796.9,715.8Z" fill="#ff3300" stroke="#ff4545" stroke-width="1.5"/>
<path d="M878.4,660.9C878.4,661.5 877.3,662.3 875.2,662.6C873.2,662.9 869,662.6 866,662.5C863.1,662.4 860.3,662.3 857.6,661.9C855,661.5 850.6,660.6 850.2,660C849.7,659.3 852.2,658.2 854.8,657.8C857.5,657.5 862.8,657.6 866.2,657.8C869.5,658 872.8,658.5 874.9,659C876.9,659.5 878.3,660.3 878.4,660.9Z" fill="#e01400" stroke="#ff4545" stroke-width="1.5"/>
<path d="M828.3,676.4C827.6,677.6 825.2,678.1 824.1,679.4C823,680.8 823.6,683.8 821.9,684.3C820.2,684.9 816.4,683.2 813.9,682.8C811.4,682.4 808.2,682.7 806.7,681.9C805.3,681.1 805.1,679.2 805.2,678C805.4,676.7 806.2,675.3 807.5,674.3C808.8,673.3 810.9,672.7 813.1,671.9C815.3,671.2 818.1,669.8 820.6,669.8C823.2,669.8 827,670.7 828.3,671.8C829.6,672.9 829,675.1 828.3,676.4Z" fill="none" stroke="#ff4545" stroke-width="1.5"/>
<path d="M774.3,746.6C773.9,747.8 772.5,749.1 771.2,749.7C769.9,750.2 768,750 766.6,749.9C765.1,749.8 763.6,749.7 762.3,749.1C761.1,748.5 759.6,747.4 759,746.4C758.5,745.3 758.7,743.8 759.2,742.9C759.6,741.9 760.8,741.6 761.7,740.6C762.6,739.6 763.1,737.1 764.6,736.6C766.1,736.2 769.1,737 770.6,737.9C772.1,738.9 772.9,740.8 773.5,742.3C774.2,743.7 774.7,745.4 774.3,746.6Z" fill="none" stroke="#ff4545" stroke-width="1.5"/>
<path d="M767.6,725C768.5,726.1 769.5,727.8 768.5,729.6C767.5,731.4 764,735.3 761.6,735.9C759.2,736.6 756.3,734.3 754.2,733.7C752.1,733 749.8,733.2 749.1,732.2C748.5,731.1 749,728.9 750.3,727.4C751.5,725.9 754.5,723.8 756.7,723.1C758.9,722.3 761.7,722.6 763.5,723C765.3,723.3 766.8,723.9 767.6,725Z" fill="none" stroke="#ff4545" stroke-width="1.5"/>
<path d="M951.2,667.5C951.5,668.9 950.4,670.9 949,672.3C947.6,673.7 944.7,675.4 942.8,675.9C940.8,676.4 938.9,675.9 937.3,675.4C935.6,674.9 932.6,674.1 932.8,672.7C933,671.3 935.9,668.4 938.3,666.9C940.8,665.5 945.3,663.9 947.5,664C949.6,664.1 950.9,666.2 951.2,667.5Z" fill="#c00000" stroke="#ff4545" stroke-width="1.5"/>
<path d="M897,778.3C897.5,778.8 897.4,780 895.9,781.2C894.5,782.4 891.1,784.1 888.3,785.6C885.5,787.1 881.1,789.5 879,790.1C876.9,790.7 876.2,789.6 875.7,789C875.3,788.5 876.2,787.7 876.5,786.9C876.8,786.1 875.7,785.5 877.3,784.2C878.9,782.9 883.5,780.1 886.1,779.1C888.7,778.1 891,778.4 892.8,778.2C894.6,778.1 896.5,777.9 897,778.3Z" fill="#c00000" stroke="#ff4545" stroke-width="1.5"/>
<path d="M769,797.2C769,798.2 766.9,799 766.4,800.2C765.9,801.4 766.6,803.6 765.8,804.3C765,805.1 762.8,805.2 761.5,804.9C760.2,804.7 758.7,803.9 758,803C757.4,802.1 757.9,800.7 757.5,799.5C757.1,798.3 755.3,796.6 755.6,795.7C756,794.8 758.4,794.4 759.7,794C760.9,793.6 761.9,793.2 763.1,793.2C764.2,793.3 765.7,793.4 766.7,794.1C767.7,794.7 769.1,796.1 769,797.2Z" fill="none" stroke="#ff4545" stroke-width="1.5"/>
<path d="M916,806.4C915.3,807.8 912,808.2 909.9,809C907.7,809.8 905.5,811.5 902.9,811.3C900.2,811.1 895.8,809.2 894.1,807.7C892.4,806.2 892.2,803.8 892.6,802.1C893,800.5 894.1,798.5 896.2,797.7C898.4,796.9 902.4,797 905.4,797.5C908.4,798 912.3,799.4 914,800.9C915.8,802.4 916.6,805.1 916,806.4Z" fill="#c00000" stroke="#ff4545" stroke-width="1.5"/>
<path d="M861.7,752.7C862.4,753.6 861.3,755.6 859.7,757.2C858.1,758.8 855.2,761 852.1,762.3C849,763.6 843.3,765.2 841.3,765C839.2,764.8 839.8,762.3 839.7,760.9C839.5,759.6 839.1,758.5 840.5,756.9C841.8,755.2 845.3,751.8 847.9,751C850.4,750.1 853.5,751.6 855.8,751.9C858.1,752.2 861,751.8 861.7,752.7Z" fill="#e01400" stroke="#ff4545" stroke-width="1.5"/>
<path d="M930.7,790.9C930.7,791.4 930.6,792 930,792.6C929.4,793.2 928.5,794.3 927.3,794.7C926.1,795.1 924.4,794.8 922.9,794.9C921.5,795 919.5,795.7 918.7,795.6C917.8,795.4 918,794.6 917.9,794.1C917.9,793.6 918,793.1 918.5,792.5C919.1,791.9 920,791.2 921.2,790.6C922.5,789.9 924.8,788.8 926.2,788.6C927.6,788.4 929,789.1 929.7,789.5C930.5,789.9 930.6,790.4 930.7,790.9Z" fill="none" stroke="#ff4545" stroke-width="1.5"/>
<path d="M868.5,733.8C869.4,735.1 868.2,738.4 866.2,740.2C864.1,742.1 859.6,743.4 856.5,745.1C853.4,746.8 850.1,750 847.6,750.6C845,751.3 842.2,749.9 841.1,748.9C840,747.8 840.4,745.9 841.1,744.3C841.9,742.8 843.7,741.2 845.5,739.6C847.3,738 849.5,736.1 852.1,735C854.6,733.8 858.2,732.8 860.9,732.6C863.7,732.4 867.7,732.5 868.5,733.8Z" fill="#e01400" stroke="#ff4545" stroke-width="1.5"/>
<path d="M1013.5,785.8C1013.1,786.3 1012.2,786.7 1011.2,787.1C1010.2,787.5 1009.2,788.2 1007.7,788.2C1006.2,788.3 1004.1,787.7 1002.4,787.3C1000.6,786.9 998.2,786.5 997.3,785.9C996.4,785.4 996.9,784.6 997.1,783.9C997.2,783.3 997.1,782.4 998.2,782.2C999.2,782 1001.9,782.5 1003.5,782.5C1005.1,782.6 1006.1,782.4 1007.8,782.6C1009.5,782.8 1012.6,783.1 1013.6,783.7C1014.5,784.2 1013.9,785.2 1013.5,785.8Z" fill="none" stroke="#ff4545" stroke-width="1.5"/>
<path d="M890.7,789.7C890.6,791.2 886.5,793.7 883.9,795.9C881.3,798.1 878.1,801.6 875.1,802.8C872.1,803.9 867.5,803.5 865.9,802.8C864.4,802.2 864.7,800.5 865.6,798.9C866.6,797.3 868.6,795.2 871.7,793.3C874.9,791.3 881.5,787.8 884.7,787.2C887.8,786.7 890.8,788.3 890.7,789.7Z" fill="none" stroke="#ff4545" stroke-width="1.5"/>
<path d="M888.9,776.9C889.6,778 884.8,780.2 881.8,781.2C878.8,782.2 874.4,782.8 871,782.9C867.7,783 865,782.3 861.8,781.9C858.5,781.5 852.3,781.2 851.3,780.3C850.4,779.4 854,777.4 855.8,776.3C857.6,775.3 859.7,774.5 862.1,774C864.5,773.5 867.6,773.1 870.2,773.2C872.7,773.3 874.5,773.8 877.6,774.4C880.7,775 888.2,775.8 888.9,776.9Z" fill="none" stroke="#ff4545" stroke-width="1.5"/>
<path d="M986.5,789.5C986.4,790.1 984.1,790.4 983.2,790.8C982.2,791.3 981.8,792.2 980.6,792.4C979.4,792.6 977.1,792.6 975.8,792.2C974.6,791.8 973.6,790.7 973,790C972.5,789.3 972.5,788.6 972.6,787.9C972.6,787.2 972.7,786.4 973.5,786C974.2,785.5 975.7,785.5 977.1,785.3C978.5,785.2 980.6,784.8 981.7,785.1C982.8,785.5 982.8,786.8 983.6,787.5C984.4,788.2 986.6,789 986.5,789.5Z" fill="#e01400" stroke="#ff4545" stroke-width="1.5"/>
<path d="M846.4,739.1C846.7,740.2 848,741.7 846.5,742.8C845,743.8 840.2,745.1 837.3,745.4C834.4,745.6 831.8,744.9 829.3,744.4C826.7,743.9 822.3,743.3 822,742.3C821.7,741.3 825.2,739.2 827.6,738.2C829.9,737.1 833.2,736.3 836,735.9C838.9,735.6 843,735.4 844.7,735.9C846.4,736.4 846.1,737.9 846.4,739.1Z" fill="none" stroke="#ff4545" stroke-width="1.5"/>
<path d="M835.7,744C835.8,744.7 835.9,745.6 834.7,746C833.5,746.4 831,746.4 828.7,746.2C826.3,745.9 822.3,745.3 820.7,744.5C819.2,743.7 819.5,742.5 819.1,741.6C818.7,740.7 817.9,739.9 818.4,739.3C818.9,738.6 820.1,737.7 822.1,737.6C824.1,737.5 828.4,738.1 830.4,738.9C832.5,739.6 833.6,741 834.5,741.9C835.3,742.7 835.7,743.3 835.7,744Z" fill="none" stroke="#ff4545" stroke-width="1.5"/>
<path d="M981.5,762.9C981.4,764.2 981.8,766.2 979.9,766.5C978.1,766.9 973.5,765.7 970.5,765.1C967.5,764.5 964.1,763.9 962,762.9C959.9,761.8 958.4,760 957.9,758.8C957.4,757.6 957.8,756.3 959.1,755.7C960.3,755.1 963,755 965.3,755.1C967.5,755.2 970,755.5 972.6,756.1C975.1,756.8 979.2,757.9 980.7,759.1C982.1,760.2 981.6,761.7 981.5,762.9Z" fill="#c00000" stroke="#ff4545" stroke-width="1.5"/>
<path d="M879.4,755.3C879.6,756.3 879.7,757.5 878.7,758.4C877.8,759.3 875.6,759.7 873.7,760.5C871.8,761.4 869.5,763 867.4,763.2C865.4,763.5 862.2,762.7 861.4,761.8C860.6,760.9 861.9,758.9 862.6,757.7C863.4,756.4 864.3,755.2 865.9,754.2C867.5,753.1 870.1,751.6 872.1,751.3C874.1,751.1 876.5,751.9 877.7,752.6C878.9,753.2 879.2,754.3 879.4,755.3Z" fill="none" stroke="#ff4545" stroke-width="1.5"/>
<path d="M999.4,735.3C999.7,736.3 995.8,738.6 994.3,740.4C992.9,742.2 993.3,744.7 990.7,746.2C988.2,747.8 982.5,749.4 979.2,749.8C975.8,750.2 971.8,749.8 970.8,748.7C969.7,747.7 971.9,745.1 972.6,743.4C973.4,741.6 973.2,739.4 975.4,738C977.5,736.6 982.7,735.4 985.6,734.8C988.5,734.2 990.4,734.4 992.7,734.5C995,734.6 999.2,734.3 999.4,735.3Z" fill="none" stroke="#ff4545" stroke-width="1.5"/>
<path d="M1009.1,739.1C1008.7,739.9 1002.6,741.9 999.2,743C995.7,744.1 992.4,745 988.3,745.9C984.2,746.7 977,748.2 974.5,748.2C971.9,748.2 971.1,747 973,745.8C974.8,744.6 980.9,742.4 985.6,741.1C990.4,739.9 997.6,738.8 1001.5,738.5C1005.4,738.1 1009.5,738.3 1009.1,739.1Z" fill="none" stroke="#ff4545" stroke-width="1.5"/>
<path d="M860.4,765.7C860.7,766.3 859.3,767.9 858.2,769C857.1,770.1 855.4,771.4 853.9,772.1C852.3,772.9 850.1,773.2 848.7,773.3C847.3,773.4 845.6,773.3 845.3,772.7C845.1,772.1 846.3,770.6 847.3,769.7C848.3,768.7 849.9,767.6 851.4,766.9C853,766.1 855,765.5 856.5,765.3C858,765.1 860.2,765.1 860.4,765.7Z" fill="none" stroke="#ff4545" stroke-width="1.5"/>
<path d="M904,802.4C904.1,804 905.4,806.4 903.7,807.3C902,808.2 896.5,808 893.7,807.9C890.8,807.7 889.5,806.8 886.6,806.5C883.7,806.2 877.7,807 876.2,806.1C874.7,805.3 876.8,802.7 877.6,801.4C878.3,800 879.3,799.1 880.8,798.2C882.2,797.2 883.8,796.2 886.2,795.7C888.6,795.1 892.4,794.3 895.2,794.7C898.1,795 901.8,796.4 903.3,797.7C904.8,799 903.9,800.8 904,802.4Z" fill="none" stroke="#ff4545" stroke-width="1.5"/>
<path d="M975.8,782.8C976.3,783.9 973.5,785.8 971.5,786.8C969.5,787.8 966.5,788.3 963.6,788.9C960.7,789.5 957.2,790.3 954,790.2C950.8,790.1 946.4,789.3 944.2,788.2C942,787.1 940.4,785 940.9,783.6C941.4,782.2 945,780.9 947.2,779.7C949.3,778.5 951,776.7 953.7,776.3C956.4,775.9 960.9,776.7 963.3,777.3C965.8,777.9 966.4,779.1 968.5,780C970.6,780.9 975.3,781.7 975.8,782.8Z" fill="none" stroke="#ff4545" stroke-width="1.5"/>
<path d="M897.2,733.2C897.5,733.8 897.4,734.9 896.6,735.8C895.8,736.8 893.9,738.1 892.3,738.8C890.7,739.5 888.6,739.7 887,739.9C885.4,740.2 884.3,740.3 882.9,740.3C881.5,740.3 879.4,740.4 878.7,739.9C878.1,739.4 878.3,738 879.3,737.1C880.3,736.2 883.1,735 884.8,734.4C886.4,733.8 887.8,733.7 889.4,733.3C891,732.9 893.1,732 894.4,732C895.7,732 896.8,732.5 897.2,733.2Z" fill="none" stroke="#ff4545" stroke-width="1.5"/>
<path d="M862.1,741.2C862.2,742.2 860,743.9 859,745.1C857.9,746.3 857.3,747.7 856,748.4C854.6,749.1 852.7,748.8 850.8,749.3C848.9,749.8 845.9,751.4 844.4,751.2C842.9,751.1 841.8,749.6 841.8,748.5C841.9,747.5 843.9,746.1 844.8,744.9C845.7,743.7 845.7,742.3 847.1,741.3C848.4,740.4 851,739.4 852.9,739.1C854.8,738.7 856.8,738.9 858.4,739.2C859.9,739.6 862,740.2 862.1,741.2Z" fill="#e01400" stroke="#ff4545" stroke-width="1.5"/>
<path d="M934.8,733.5C934.8,735 934,737.5 931.9,737.8C929.8,738.2 925,736.4 922.1,735.7C919.3,735.1 917.4,735.1 914.7,734.1C912,733.1 906.8,731.3 905.9,729.8C905,728.4 907.4,726.1 909.3,725.4C911.3,724.6 915.2,725.5 917.8,725.5C920.3,725.5 922.3,724.9 924.7,725.4C927.1,725.9 930.5,727.3 932.2,728.6C933.9,729.9 934.8,731.9 934.8,733.5Z" fill="none" stroke="#ff4545" stroke-width="1.5"/>
<path d="M905.3,800.7C905.6,801.6 906.3,802.6 905.8,803.5C905.4,804.4 903.8,805.2 902.4,806.1C901.1,806.9 899.1,808.7 897.9,808.7C896.7,808.7 895.9,806.9 895.3,806C894.8,805.2 894.6,804.5 894.5,803.5C894.4,802.6 894.2,801.1 895,800.2C895.8,799.2 897.9,798.2 899.5,797.8C901,797.4 903.1,797.4 904.1,797.9C905.1,798.3 905,799.8 905.3,800.7Z" fill="none" stroke="#ff4545" stroke-width="1.5"/>
<path d="M1042.4,764.1C1042.6,765.2 1045.9,766.4 1043.9,767.2C1042,768 1034.8,768.3 1030.7,768.8C1026.6,769.4 1023.1,770.4 1019.6,770.5C1016.1,770.6 1011.2,770.1 1010,769.4C1008.7,768.7 1010.8,767.1 1012.3,766.1C1013.7,765 1015.4,763.7 1018.4,762.8C1021.5,762 1026.6,761.1 1030.7,760.8C1034.7,760.5 1040.9,760.3 1042.8,760.8C1044.8,761.4 1042.3,763 1042.4,764.1Z" fill="#e01400" stroke="#ff4545" stroke-width="1.5"/>
<path d="M1025.7,734.6C1026.2,735.5 1027.6,736.9 1025.7,737.9C1023.7,739 1017.5,739.8 1014,740.6C1010.5,741.4 1007.5,742.6 1004.6,742.9C1001.8,743.2 998.1,743 997.1,742.4C996.1,741.8 997.6,740.3 998.8,739.2C1000,738.2 1001.8,737.3 1004.2,736.1C1006.6,735 1010.2,733 1013.2,732.3C1016.3,731.7 1020.5,732 1022.5,732.4C1024.6,732.8 1025.2,733.7 1025.7,734.6Z" fill="none" stroke="#ff4545" stroke-width="1.5"/>
<path d="M844.7,730.9C845,732.1 843.1,734.3 842,735.4C840.9,736.6 839.2,737.5 837.8,737.8C836.4,738.1 835.1,737.5 833.5,737.3C831.8,737.1 828.8,737.4 827.8,736.5C826.8,735.5 827,732.9 827.5,731.5C828,730 829.7,728.8 831.1,727.7C832.5,726.7 834.5,725.2 836,725.3C837.4,725.4 838.5,727.4 839.9,728.3C841.4,729.2 844.3,729.7 844.7,730.9Z" fill="none" stroke="#ff4545" stroke-width="1.5"/>
<path d="M1024.5,735.7C1023.8,736.4 1020.4,736.4 1017.9,736.6C1015.3,736.7 1011.9,737.1 1009.2,736.6C1006.5,736.1 1003,734.5 1001.8,733.6C1000.6,732.7 1000.5,731.4 1001.9,731C1003.4,730.6 1007.2,731 1010.7,731.2C1014.1,731.4 1020.3,731.5 1022.6,732.2C1024.9,733 1025.3,735 1024.5,735.7Z" fill="none" stroke="#ff4545" stroke-width="1.5"/>
<path d="M926.1,799.8C926,800.7 922.8,801.7 920.7,802.6C918.6,803.4 916.2,804.6 913.5,804.8C910.8,805.1 908,804.4 904.7,804.2C901.5,803.9 895.3,804.1 894,803.4C892.8,802.7 895.8,801 897.3,800C898.8,798.9 900.6,797.9 903.2,797.3C905.8,796.7 909.9,796.3 913,796.3C916,796.3 919.2,796.7 921.4,797.3C923.6,797.9 926.2,798.9 926.1,799.8Z" fill="none" stroke="#ff4545" stroke-width="1.5"/>
<path d="M875.7,727.9C875.4,728.5 872.6,729.7 870.7,730.6C868.8,731.6 867.1,732.6 864.3,733.5C861.5,734.4 856.1,735.7 854,735.8C851.9,736 852.9,734.7 851.7,734.4C850.4,734 845.7,734.4 846.4,733.8C847.1,733.2 853.1,731.7 855.8,730.9C858.5,730 859.7,729.6 862.5,728.9C865.2,728.2 870.1,726.8 872.3,726.6C874.5,726.5 876,727.2 875.7,727.9Z" fill="none" stroke="#ff4545" stroke-width="1.5"/>
<path d="M805.9,776.8C805,777.4 805.4,778 804.2,778.3C802.9,778.6 800.8,779 798.3,778.7C795.7,778.4 791.4,777.2 788.8,776.3C786.2,775.3 783.6,773.9 782.4,773C781.3,772.1 781.4,771.3 781.7,770.6C781.9,770 782.3,769.2 784,769.1C785.7,769.1 788.9,769.9 791.6,770.3C794.3,770.7 797,770.8 800,771.6C803.1,772.3 808.8,774.2 809.7,775C810.7,775.9 806.9,776.3 805.9,776.8Z" fill="#c00000" stroke="#ff4545" stroke-width="1.5"/>
<path d="M1027.4,754.9C1027.8,756 1028,757.4 1027.1,758.5C1026.3,759.5 1024,760.6 1022.2,761.1C1020.4,761.6 1018.3,761.7 1016.3,761.5C1014.3,761.4 1011.2,761.2 1010.1,760.3C1009,759.4 1008.8,757.1 1009.7,755.9C1010.6,754.7 1013.6,754.1 1015.4,753.1C1017.2,752.1 1018.9,750.1 1020.5,750C1022.1,749.9 1024,751.5 1025.1,752.4C1026.3,753.2 1027.1,753.9 1027.4,754.9Z" fill="none" stroke="#ff4545" stroke-width="1.5"/>
<path d="M960.2,739.8C961.1,741.3 961.7,744.2 961.1,746C960.5,747.7 958.3,750.1 956.6,750.4C955,750.8 952.6,749.1 951.2,748.1C949.8,747.2 948.6,746 948.3,744.7C947.9,743.5 948.5,741.9 949,740.7C949.5,739.4 950.2,738 951.3,737.4C952.4,736.8 954.2,736.6 955.6,737C957.1,737.4 959.3,738.3 960.2,739.8Z" fill="#e01400" stroke="#ff4545" stroke-width="1.5"/>
<path d="M947.3,764.6C947.7,765.4 946.4,767.1 945.1,768.4C943.8,769.6 941.1,771.6 939.5,772C937.8,772.4 936.1,771.4 935.2,770.9C934.3,770.3 934,769.7 934.1,768.7C934.3,767.6 934.9,765.6 936.4,764.7C937.9,763.8 941.3,763.4 943.1,763.4C945,763.4 947,763.7 947.3,764.6Z" fill="#e01400" stroke="#ff4545" stroke-width="1.5"/>
<path d="M950.4,777C950.7,778.1 951.6,779.8 950.8,780.5C949.9,781.2 947.1,781.4 945.5,781.5C943.8,781.6 942,781.5 941.1,781C940.1,780.5 939.9,779.3 939.7,778.4C939.5,777.4 939,776.2 939.8,775.2C940.5,774.2 942.7,772.4 944.3,772.2C945.9,772 948.4,773.2 949.4,774.1C950.4,774.9 950.2,776 950.4,777Z" fill="#e01400" stroke="#ff4545" stroke-width="1.5"/>
<path d="M1024.3,735.7C1024.5,737 1027.4,737.8 1025.8,739.3C1024.2,740.8 1018.4,743.5 1014.6,744.7C1010.8,745.9 1005.8,746.6 1002.8,746.5C999.8,746.5 996.5,745.8 996.7,744.6C997,743.4 1001.9,741 1004.3,739.4C1006.8,737.8 1008.1,736.1 1011.4,734.7C1014.7,733.4 1022.1,731.2 1024.2,731.3C1026.3,731.5 1024,734.4 1024.3,735.7Z" fill="none" stroke="#ff4545" stroke-width="1.5"/>
<path d="M1017.6,760.3C1018.4,761.2 1018.1,763 1016.2,764.5C1014.2,766.1 1009.6,768.3 1005.9,769.6C1002.2,770.8 997.6,771.4 994,771.9C990.4,772.5 986.6,773.1 984.5,772.9C982.3,772.7 981.2,771.7 980.9,770.7C980.6,769.8 980.6,768.3 982.5,767.1C984.4,765.8 989.2,764.4 992.4,763.3C995.6,762.2 998.5,761 1001.7,760.3C1004.8,759.6 1008.5,759.1 1011.1,759.1C1013.8,759.1 1016.7,759.4 1017.6,760.3Z" fill="none" stroke="#ff4545" stroke-width="1.5"/>
<path d="M912.3,775.4C912.6,776.5 911.2,778.5 910.2,779.6C909.2,780.7 907.8,781.9 906.5,782C905.2,782.2 903.5,781.2 902.4,780.4C901.3,779.5 900.2,778.2 900,777C899.8,775.7 900.4,773.6 901.2,772.8C902.1,772.1 904.1,772.5 905.3,772.6C906.5,772.6 907.1,772.6 908.3,773.1C909.5,773.6 912,774.4 912.3,775.4Z" fill="none" stroke="#ff4545" stroke-width="1.5"/>
<path d="M869.9,775.2C869.8,776.8 869.2,779.3 868,779.9C866.8,780.4 864.1,779.2 862.7,778.6C861.3,778.1 860.1,777.4 859.4,776.4C858.8,775.3 858.4,773.6 858.9,772.3C859.5,771 861,769 862.7,768.6C864.4,768.1 867.8,768.7 869,769.8C870.2,770.9 870.1,773.5 869.9,775.2Z" fill="#c00000" stroke="#ff4545" stroke-width="1.5"/>
<path d="M1020.8,748.3C1021.3,749 1021.1,750.3 1018.8,750.7C1016.6,751 1011,750.3 1007.3,750.2C1003.5,750.1 999,750.5 996.2,750C993.5,749.6 990.8,748.4 990.7,747.6C990.7,746.8 993.1,745.6 995.9,745.3C998.6,744.9 1004,745 1007.4,745.2C1010.7,745.4 1013.8,745.8 1016,746.3C1018.3,746.8 1020.4,747.5 1020.8,748.3Z" fill="#c00000" stroke="#ff4545" stroke-width="1.5"/>
<path d="M828.9,790.7C828.9,791.4 829.1,792.2 827.5,793.2C825.9,794.3 822,796.1 819.4,797C816.7,797.9 813.5,798.6 811.8,798.6C810.1,798.6 808.4,798.1 809.3,797.1C810.1,796 814,793.7 817.1,792.4C820.1,791 825.6,789 827.6,788.7C829.6,788.4 828.9,789.9 828.9,790.7Z" fill="none" stroke="#ff4545" stroke-width="1.5"/>
<path d="M876.9,729.9C876.8,731.8 875.1,734 872.1,735.3C869.2,736.7 863,738.2 859.2,738C855.3,737.9 851.3,735.8 848.9,734.5C846.5,733.2 845.2,731.9 844.7,730.3C844.3,728.7 843.7,725.8 846.1,725C848.5,724.1 854.5,725.3 859,725.2C863.5,725 869.8,723.5 872.8,724.2C875.8,725 877,728.1 876.9,729.9Z" fill="#e01400" stroke="#ff4545" stroke-width="1.5"/>
<path d="M924,794.6C924.1,795.9 926,797.6 924.7,798.8C923.4,799.9 919.3,801.8 916.2,801.5C913.1,801.2 909.3,797.9 906,796.8C902.7,795.7 898.3,795.8 896.4,794.9C894.5,793.9 894.3,792 894.7,790.9C895,789.7 896.5,788.6 898.5,787.9C900.4,787.2 903.5,786.6 906.3,786.7C909.1,786.8 912.2,787.9 915.1,788.6C918.1,789.3 922.7,789.9 924.1,790.9C925.6,791.9 923.9,793.2 924,794.6Z" fill="#c00000" stroke="#ff4545" stroke-width="1.5"/>
<path d="M883.9,742.7C884,744.2 878.2,746.4 875,747.2C871.8,748.1 868.8,748 864.6,747.9C860.5,747.8 852.3,748 850.2,746.6C848.2,745.2 850.3,741.5 852.5,739.6C854.7,737.8 859.8,735.6 863.4,735.4C867.1,735.2 871.1,737.3 874.5,738.6C877.9,739.8 883.9,741.3 883.9,742.7Z" fill="none" stroke="#ff4545" stroke-width="1.5"/>
<path d="M911.9,732C912,734 910.6,737.3 908.8,738.5C907,739.6 903.5,739.2 901.2,738.7C898.9,738.2 895.5,737 894.8,735.5C894.2,733.9 896.3,731.4 897.3,729.6C898.4,727.9 899.3,725.6 901.1,725C902.9,724.4 906.4,725 908.2,726.1C910,727.3 911.8,729.9 911.9,732Z" fill="#c00000" stroke="#ff4545" stroke-width="1.5"/>
<path d="M882.2,731.8C882.7,732.9 882.4,734.6 881.7,735.9C881.1,737.2 879.7,739.2 878.4,739.5C877.2,739.9 875.4,738.5 874.2,738C873,737.5 871.7,737.3 871.2,736.4C870.8,735.6 870.9,733.9 871.5,733C872.1,732.1 873.6,731.8 874.9,731.2C876.2,730.5 877.9,728.8 879.2,728.9C880.4,729 881.8,730.6 882.2,731.8Z" fill="#c00000" stroke="#ff4545" stroke-width="1.5"/>
<path d="M475.7,919.3C476.9,920.2 474.7,922.4 471,923.5C467.2,924.6 458.1,925.8 453.1,926.1C448,926.3 443.3,925.5 440.6,925C437.9,924.4 437.7,923.7 436.7,922.7C435.7,921.7 431.9,920.2 434.5,919.1C437.1,918.1 447.4,916.5 452.2,916.3C457,916.1 459.5,917.5 463.4,918C467.3,918.5 474.4,918.4 475.7,919.3Z" fill="#ff3300" stroke="#ff4545" stroke-width="1.5"/>
<path d="M590.5,900.1C590.6,900.7 588.4,901.1 586.2,901.4C584,901.7 580.7,901.9 577.5,901.7C574.3,901.5 569.3,900.7 567.1,900.1C564.8,899.5 565.4,898.8 564.2,898.1C563.1,897.4 559.6,896.4 560.3,896C561,895.6 565.7,895.8 568.6,895.8C571.6,895.8 575,895.7 577.8,896.1C580.6,896.5 583.4,897.3 585.5,898C587.6,898.7 590.3,899.5 590.5,900.1Z" fill="#a00000" stroke="#ff4545" stroke-width="1.5"/>
<path d="M695.8,920.3C695.8,921 692.3,921.6 689.2,922.1C686.1,922.6 681.1,923.2 677,923.1C672.9,923.1 669,922 664.8,921.5C660.6,921.1 653.5,920.8 651.7,920.3C650,919.7 652.2,918.7 654.3,918.2C656.5,917.8 661,917.5 664.7,917.4C668.3,917.2 672,917.2 676.1,917.4C680.1,917.5 685.7,917.7 689,918.2C692.3,918.7 695.8,919.7 695.8,920.3Z" fill="#a00000" stroke="#ff4545" stroke-width="1.5"/>
<path d="M484.2,908C484.7,908.8 478.5,910.3 473.4,910.7C468.3,911.1 459.7,910.6 453.6,910.4C447.4,910.3 441,910.3 436.5,909.8C432,909.2 426.7,908 426.6,907.1C426.6,906.3 431.7,905.1 436.2,904.8C440.7,904.4 447.9,904.8 453.7,904.9C459.4,905 465.6,904.8 470.7,905.3C475.8,905.8 483.8,907.1 484.2,908Z" fill="none" stroke="#ff4545" stroke-width="1.5"/>
<path d="M464.9,913.3C464.2,913.9 458.4,914.8 455.7,915.5C453,916.3 452,917.5 448.5,917.9C445.1,918.4 439.4,918.1 434.9,918.2C430.4,918.2 424.4,918.7 421.6,918.4C418.7,918.1 417.5,917.2 417.8,916.5C418,915.8 420.5,914.9 423.1,914.2C425.7,913.5 429.1,912.7 433.3,912.1C437.5,911.5 444.1,910.7 448.6,910.6C453,910.5 457.1,911 459.8,911.5C462.6,911.9 465.6,912.6 464.9,913.3Z" fill="#a00000" stroke="#ff4545" stroke-width="1.5"/>
<path d="M451.8,918.4C451,919.2 450.2,919.7 448.3,920.5C446.3,921.2 443.8,922.7 440.1,923C436.5,923.4 430.7,922.9 426.4,922.7C422,922.4 415,922.1 414.1,921.4C413.3,920.7 419.4,919.4 421.5,918.5C423.6,917.7 423.8,916.9 426.8,916.3C429.8,915.7 435.1,915.2 439.4,915C443.8,914.9 451.1,915 453.2,915.5C455.2,916.1 452.6,917.5 451.8,918.4Z" fill="none" stroke="#ff4545" stroke-width="1.5"/>
<path d="M717.8,924.4C718.3,924.9 718,925.9 715.9,926.6C713.8,927.3 709.3,928.1 705.3,928.7C701.2,929.3 694.5,930.4 691.5,930.4C688.6,930.3 688.9,929.1 687.5,928.5C686.1,927.9 682.3,927.6 683,926.9C683.8,926.2 688.5,925.1 692.2,924.3C696,923.4 702.2,921.7 705.6,921.6C709.1,921.4 710.9,922.8 712.9,923.3C714.9,923.8 717.3,923.8 717.8,924.4Z" fill="#a00000" stroke="#ff4545" stroke-width="1.5"/>
<path d="M580,914.3C580.8,914.9 579.1,916.3 574.7,917C570.4,917.7 559.5,918.3 553.8,918.5C548.2,918.7 543.6,918.7 540.8,918.4C538.1,918.1 535.5,917.5 537.3,916.7C539.1,915.9 545.9,914.2 551.4,913.6C556.9,913.1 565.5,913.3 570.2,913.4C575,913.5 579.3,913.7 580,914.3Z" fill="#e01400" stroke="#ff4545" stroke-width="1.5"/>
<path d="M498.5,905.8C498.6,906.4 497.1,907.5 494.7,907.9C492.3,908.3 487.1,908.3 484.3,908.3C481.4,908.2 479.6,908 477.5,907.5C475.4,907 470.5,906.2 471.5,905.6C472.4,904.9 479.4,904 483.1,903.7C486.8,903.5 491.3,903.9 493.8,904.2C496.4,904.6 498.3,905.2 498.5,905.8Z" fill="#ff3300" stroke="#ff4545" stroke-width="1.5"/>
<path d="M512.5,898.7C513.3,899.8 514.9,902.2 512.1,903.1C509.3,904.1 500.1,904.2 495.4,904.3C490.7,904.3 486.2,904.1 484.1,903.3C482.1,902.6 481.2,900.7 483,899.7C484.8,898.6 491.1,897.6 495.1,897C499.1,896.4 504.1,896 507,896.3C509.9,896.6 511.6,897.6 512.5,898.7Z" fill="#a00000" stroke="#ff4545" stroke-width="1.5"/>
<path d="M581.5,917C581.5,917.9 582.4,919.3 579.4,920C576.3,920.6 567.3,921.1 563.3,921C559.3,920.9 556.5,920.1 555.3,919.5C554.2,918.9 554.9,918.2 556.2,917.5C557.6,916.8 559.8,916.1 563.6,915.5C567.4,915 575.9,914.1 578.9,914.3C581.9,914.6 581.4,916.1 581.5,917Z" fill="#a00000" stroke="#ff4545" stroke-width="1.5"/>
<path d="M702.2,898.6C702.4,899.8 702.2,901.7 700,902.8C697.7,903.8 692.5,904.3 688.7,904.8C685,905.2 679.6,906.1 677.4,905.6C675.2,905.1 675.6,903.2 675.7,902C675.9,900.8 676.3,899.4 678.3,898.4C680.3,897.4 684.2,896.3 687.6,895.8C690.9,895.3 696.1,894.9 698.5,895.4C701,895.8 702,897.4 702.2,898.6Z" fill="none" stroke="#ff4545" stroke-width="1.5"/>
<path d="M564.5,927.6C564.4,928.2 563.5,928.6 561.5,929C559.4,929.3 555.7,929.9 552.3,929.6C548.9,929.2 543.9,927.4 541.3,926.6C538.6,925.8 538,925.4 536.4,924.7C534.8,924 531,922.8 531.8,922.4C532.6,922 538,922.3 541.3,922.5C544.6,922.7 548.1,923.3 551.5,923.8C554.9,924.3 559.4,925 561.6,925.6C563.7,926.3 564.5,927.1 564.5,927.6Z" fill="none" stroke="#ff4545" stroke-width="1.5"/>
<path d="M434.4,933.2C434.1,934.1 433.2,935 429.4,935.4C425.6,935.8 416.7,936.3 411.7,935.6C406.7,934.8 401.2,932.1 399.5,930.8C397.9,929.5 399.8,928.7 402.1,927.9C404.4,927.1 408.5,925.9 413.3,926.2C418.2,926.5 427.6,928.6 431.2,929.8C434.7,930.9 434.7,932.3 434.4,933.2Z" fill="#e01400" stroke="#ff4545" stroke-width="1.5"/>
<path d="M559.8,908.9C560.4,910 561.3,912.1 559.6,912.9C558,913.6 553,913.5 550,913.1C547,912.8 543.7,911.7 541.7,910.8C539.8,909.8 539,908.6 538.2,907.6C537.5,906.5 536.8,905.4 537.3,904.4C537.9,903.3 539.2,901.6 541.5,901.3C543.8,901.1 548.6,902.1 551,902.8C553.5,903.6 554.8,904.8 556.3,905.8C557.7,906.8 559.3,907.7 559.8,908.9Z" fill="#a00000" stroke="#ff4545" stroke-width="1.5"/>
<path d="M672.7,899C673.4,899.7 675.2,901 671.9,901.5C668.6,902 659.8,901.9 653,902C646.2,902 635.3,902.4 631.1,901.9C626.8,901.4 627,899.9 627.6,899C628.2,898.1 630.5,897.2 634.8,896.6C639,895.9 647.4,894.9 653,895C658.5,895.1 664.8,896.3 668.1,897C671.4,897.7 672.1,898.2 672.7,899Z" fill="none" stroke="#ff4545" stroke-width="1.5"/>
<path d="M612.5,914.9C613.5,915.5 612.8,916.1 608.9,916.1C605,916.1 595.8,915.4 588.9,914.7C582.1,914.1 572.1,912.8 567.9,912C563.7,911.2 563.8,910.5 563.9,910C563.9,909.5 563.8,908.6 568,908.8C572.3,908.9 583.5,910.2 589.3,910.9C595.1,911.6 599,912.2 602.9,912.9C606.7,913.6 611.5,914.4 612.5,914.9Z" fill="#a00000" stroke="#ff4545" stroke-width="1.5"/>
<path d="M565.2,897.5C565.6,898.4 562.5,899.8 559.6,900.8C556.7,901.8 551.5,903.6 547.9,903.7C544.2,903.7 540.6,902 537.8,901.3C535,900.5 530.8,899.9 531,899.1C531.2,898.3 536.3,897.3 539,896.6C541.8,895.8 544.5,894.6 547.5,894.5C550.4,894.3 553.9,895 556.9,895.5C559.9,896.1 564.7,896.7 565.2,897.5Z" fill="#a00000" stroke="#ff4545" stroke-width="1.5"/>
<path d="M677.4,921.8C676.9,922.5 669.7,923 666.1,923.5C662.5,923.9 659.6,924.4 656,924.4C652.4,924.4 648.4,924 644.4,923.6C640.4,923.2 633.1,922.6 631.8,922C630.5,921.4 635.1,920.5 636.6,919.7C638.1,918.9 637.5,917.2 640.7,917C643.9,916.8 651,918.1 655.8,918.4C660.6,918.8 665.8,918.6 669.4,919.1C673,919.7 678,921.1 677.4,921.8Z" fill="#ff3300" stroke="#ff4545" stroke-width="1.5"/>
<path d="M666.3,917.3C666.2,917.8 662.6,918 660.3,918.2C658,918.4 655.2,918.7 652.2,918.4C649.2,918.2 645.3,917.3 642.3,916.8C639.3,916.2 636.3,915.6 634.3,915C632.3,914.3 630.6,913.6 630.2,912.9C629.7,912.3 629.7,911.5 631.5,911.1C633.3,910.8 637,910.6 640.9,910.7C644.8,910.9 651.5,911.4 654.8,912.1C658.2,912.9 659,914.1 660.9,915C662.8,915.8 666.3,916.8 666.3,917.3Z" fill="none" stroke="#ff4545" stroke-width="1.5"/>
<path d="M382.9,923.5C382.8,924.3 381.4,925.2 379,925.3C376.5,925.5 371.6,925.1 368.2,924.5C364.8,924 360.1,923 358.6,922.2C357.1,921.4 357.6,920.4 359.1,919.6C360.5,918.9 364,917.4 367.3,917.7C370.7,917.9 376.8,920 379.4,920.9C382,921.9 382.9,922.8 382.9,923.5Z" fill="none" stroke="#ff4545" stroke-width="1.5"/>
<path d="M498.6,901.3C499.5,901.7 490.2,903.4 484.7,904.4C479.2,905.4 471.4,906.7 465.4,907.3C459.3,907.9 454.1,907.9 448.4,908.2C442.7,908.4 430.9,909.1 431.1,908.6C431.3,908.2 444.1,906.2 449.7,905.3C455.4,904.4 460,903.6 464.9,903.1C469.8,902.6 473.5,902.5 479.1,902.2C484.7,901.9 497.7,900.9 498.6,901.3Z" fill="#e01400" stroke="#ff4545" stroke-width="1.5"/>
<path d="M609.5,923.7C608.8,924.7 609.2,926 606.3,926.2C603.5,926.5 597.8,925.7 592.5,925.3C587.2,924.9 578.7,924.8 574.6,923.9C570.6,923 567.9,920.8 568.1,919.7C568.3,918.5 571.7,917.1 575.9,917C580.1,916.8 587.3,918.3 593.1,918.8C598.9,919.4 607.9,919.5 610.6,920.3C613.3,921.2 610.2,922.8 609.5,923.7Z" fill="#a00000" stroke="#ff4545" stroke-width="1.5"/>
<path d="M469.2,910C468,910.7 462.6,910.5 459.6,910.9C456.6,911.2 454.3,912.5 451.1,912.2C447.8,911.9 442.9,910 440.1,909.1C437.3,908.2 435.3,907.6 434.3,907C433.2,906.3 433.3,905.7 433.8,905C434.2,904.3 434.4,902.8 437.2,902.8C440,902.8 445.7,904.4 450.6,905.1C455.5,905.7 463.5,905.9 466.6,906.8C469.7,907.6 470.4,909.4 469.2,910Z" fill="none" stroke="#ff4545" stroke-width="1.5"/>
<path d="M412.5,916.5C411.8,916.9 414,917.5 412.4,917.7C410.8,917.8 406.5,917.6 402.8,917.4C399,917.1 392.7,916.8 389.7,916.3C386.6,915.8 387,915 384.6,914.4C382.2,913.7 375.9,912.8 375.4,912.4C374.9,911.9 379.1,911.9 381.6,911.8C384.2,911.7 386.9,911.6 390.7,911.8C394.4,912.1 400,912.7 404.2,913.3C408.4,913.8 414.7,914.8 416,915.4C417.4,915.9 413.1,916.1 412.5,916.5Z" fill="#e01400" stroke="#ff4545" stroke-width="1.5"/>
<path d="M517,902.2C517.2,902.9 516.2,904.1 515,904.7C513.8,905.3 511.4,905.8 509.7,905.9C508,906 505.9,905.7 504.7,905.3C503.4,904.9 502.3,904 502.3,903.2C502.4,902.5 503.6,901.6 504.8,901C505.9,900.5 507.8,900.1 509.3,900C510.8,899.9 512.5,900.1 513.8,900.4C515.1,900.8 516.8,901.5 517,902.2Z" fill="#a00000" stroke="#ff4545" stroke-width="1.5"/>
<path d="M715.1,925.1C715.6,926.1 710.7,927.6 706.9,928.3C703.1,929 696.3,929.2 692.2,929.1C688,928.9 685.9,928 682.1,927.3C678.3,926.7 669.9,926 669.5,925.2C669.1,924.4 675.8,923.2 679.6,922.5C683.4,921.8 688,921.1 692.2,921.1C696.3,921.1 700.5,921.8 704.3,922.5C708.1,923.2 714.7,924.1 715.1,925.1Z" fill="none" stroke="#ff4545" stroke-width="1.5"/>
<path d="M517.3,927.5C517.1,928.4 522.4,929.9 520.9,930.4C519.3,930.8 512.2,930.4 508.1,930.3C504,930.1 499.3,929.7 496.3,929.2C493.2,928.7 492.4,927.8 489.7,927C487,926.3 479.8,925.1 480,924.6C480.2,924.1 488.2,924.3 490.9,923.9C493.5,923.4 493.2,921.9 495.9,922C498.6,922.1 502.5,923.7 506.9,924.2C511.3,924.8 520.6,924.7 522.3,925.3C524.1,925.8 517.6,926.7 517.3,927.5Z" fill="#a00000" stroke="#ff4545" stroke-width="1.5"/>
<path d="M690.9,899.3C690.9,900.1 687.7,901 685.4,901.8C683.1,902.6 679.9,904.1 676.8,904.2C673.7,904.2 669.4,903.1 667.1,902.3C664.8,901.5 662.9,900.5 663,899.6C663.2,898.7 665.7,897.9 668,897.1C670.3,896.3 673.8,895 676.7,895C679.6,894.9 682.9,896.2 685.3,896.9C687.6,897.7 690.8,898.5 690.9,899.3Z" fill="none" stroke="#ff4545" stroke-width="1.5"/>
<path d="M393.2,918.8C392.8,919.5 386.3,919.6 382,919.6C377.8,919.7 372.3,919.5 367.5,918.9C362.6,918.3 356.5,917.2 352.8,916.3C349.1,915.3 344.6,913.8 345.3,913.2C345.9,912.6 352.8,912.9 356.7,912.9C360.5,912.8 363.5,912.3 368.2,912.7C372.8,913.1 380.4,914.3 384.5,915.3C388.7,916.4 393.6,918.1 393.2,918.8Z" fill="#ff3300" stroke="#ff4545" stroke-width="1.5"/>
<path d="M653.4,919.5C653.3,919.9 649.7,920.3 647.7,920.8C645.7,921.3 643.5,922.4 641.2,922.4C638.9,922.5 636.2,921.6 633.9,921.2C631.5,920.8 627.3,920.5 627.1,920C626.8,919.6 630,918.8 632.3,918.3C634.7,917.8 638.5,916.9 641.1,916.9C643.8,916.8 646.2,917.8 648.2,918.3C650.3,918.7 653.5,919 653.4,919.5Z" fill="none" stroke="#ff4545" stroke-width="1.5"/>
<path d="M634.6,899.7C635.2,900.3 630.7,901 627.2,901.3C623.8,901.6 618,901.8 613.9,901.6C609.8,901.3 605.6,900.3 602.6,899.7C599.5,899 595.4,898.1 595.6,897.6C595.8,897 600.7,896.8 603.8,896.5C606.9,896.1 610.9,895.2 614.3,895.4C617.7,895.6 620.8,896.9 624.2,897.6C627.6,898.3 634.1,899.1 634.6,899.7Z" fill="none" stroke="#ff4545" stroke-width="1.5"/>
<path d="M434.6,917.5C434.7,918 435.3,918.8 434,919C432.7,919.2 429,918.7 427,918.8C424.9,918.8 423.5,919.2 421.8,919.1C420.2,919 417.7,918.5 417,918.2C416.3,917.8 417.2,917.3 417.6,916.9C417.9,916.5 418.3,916.2 419.1,916C420,915.8 421.1,915.5 422.5,915.4C424,915.3 425.9,915.2 427.7,915.3C429.5,915.4 432.1,915.7 433.2,916.1C434.4,916.4 434.5,917 434.6,917.5Z" fill="none" stroke="#ff4545" stroke-width="1.5"/>
<path d="M580.8,898.9C580.9,899.5 580,900.3 578,901C576.1,901.7 572.9,902.5 569,903.2C565.1,903.9 558.2,905 554.8,905.1C551.4,905.1 550.9,903.9 548.6,903.5C546.3,903.1 541.3,903.1 541.1,902.6C540.8,902.1 544.8,901.1 547,900.3C549.2,899.5 550.7,898.4 554.4,897.7C558.2,897 565.9,896.1 569.7,896.1C573.5,896 575.4,897 577.3,897.5C579.1,897.9 580.7,898.3 580.8,898.9Z" fill="none" stroke="#ff4545" stroke-width="1.5"/>
<path d="M538.7,906.6C539,907.7 537,909.5 534.2,909.7C531.4,909.9 525.3,908.5 521.9,907.9C518.4,907.3 515.6,906.8 513.6,905.9C511.5,904.9 508,902.7 509.5,902.2C511,901.6 518.7,902.5 522.5,902.7C526.3,902.9 529.6,902.8 532.3,903.5C535,904.1 538.4,905.6 538.7,906.6Z" fill="#e01400" stroke="#ff4545" stroke-width="1.5"/>
<path d="M676.5,912.3C677.2,913.1 678.7,914.5 678,915.5C677.2,916.4 674.2,917.4 672,918C669.7,918.5 666.3,919 664.3,918.7C662.3,918.3 660.6,916.9 660,915.9C659.4,914.8 660.2,913.5 660.9,912.4C661.6,911.4 662.7,910.2 664.4,909.5C666,908.8 669,908 670.7,908.2C672.4,908.4 673.4,909.7 674.4,910.4C675.3,911.1 675.9,911.4 676.5,912.3Z" fill="none" stroke="#ff4545" stroke-width="1.5"/>
<path d="M389.5,916.5C389.9,917.6 388.9,919.1 386.7,920.3C384.4,921.4 379.8,923 375.9,923.7C371.9,924.4 367.2,924.3 362.9,924.5C358.6,924.7 351.6,925.3 350,924.7C348.4,924.1 353.1,921.9 353.5,920.8C353.9,919.7 350.7,918.7 352.4,918C354.1,917.2 360,916.8 363.6,916.1C367.1,915.4 370.3,914 373.7,913.6C377.2,913.3 381.8,913.5 384.5,914C387.1,914.5 389.2,915.5 389.5,916.5Z" fill="#ff3300" stroke="#ff4545" stroke-width="1.5"/>
<path d="M516.9,904.4C516.9,905.4 517,906.7 515.2,907.3C513.4,907.8 508.5,907.9 506,907.7C503.6,907.5 501.6,906.8 500.6,906.1C499.6,905.4 499.5,904.6 500.3,903.8C501.1,903 502.9,901.6 505.4,901.2C507.8,900.9 513.2,901.1 515.1,901.7C517,902.2 516.9,903.5 516.9,904.4Z" fill="#ff3300" stroke="#ff4545" stroke-width="1.5"/>
<path d="M427.3,921.8C427.9,922.3 422.1,922.5 417.7,922.2C413.4,921.9 406.1,920.7 401.1,920C396.2,919.2 391.1,918.4 388.1,917.7C385.1,916.9 381.2,915.5 383.1,915.3C385,915 394.4,915.4 399.6,916.1C404.8,916.7 409.6,918.1 414.2,919C418.8,920 426.7,921.3 427.3,921.8Z" fill="#ff3300" stroke="#ff4545" stroke-width="1.5"/>
<path d="M707.5,900.4C707.4,901.4 709.6,902.8 708.6,903.4C707.6,904 703.6,904 701.4,903.9C699.1,903.8 696.9,903.3 695.3,902.8C693.6,902.3 693.2,901.8 691.4,901.1C689.7,900.4 684.5,899.3 684.6,898.7C684.7,898.1 690.1,897.8 691.9,897.4C693.8,897 694.1,896.4 695.8,896.2C697.4,896 699.4,896.1 701.6,896.3C703.9,896.6 708.2,896.9 709.2,897.5C710.2,898.2 707.6,899.4 707.5,900.4Z" fill="none" stroke="#ff4545" stroke-width="1.5"/>
<path d="M823.9,837.8C823,838.5 821.3,838.6 819.6,838.9C817.9,839.2 816.2,839.9 813.9,839.6C811.5,839.3 808.2,838.2 805.5,837.2C802.8,836.2 798.3,834.4 797.7,833.4C797,832.4 800.3,831.9 801.6,831.2C803,830.4 803.5,828.7 805.8,828.9C808.1,829 812.1,831.1 815.4,832.1C818.6,833 823.8,833.7 825.2,834.7C826.7,835.6 824.9,837.1 823.9,837.8Z" fill="#a00000" stroke="#ff4545" stroke-width="1.5"/>
<path d="M862.9,835.5C862.4,836 863.7,837.4 862.4,837.1C861.1,836.9 857.4,834.9 855.2,833.9C852.9,832.9 850.4,832 849,831.1C847.6,830.2 847.2,829.4 846.8,828.7C846.4,828.1 846.3,827.7 846.7,827.3C847.1,826.8 847.3,825.7 849,826.2C850.8,826.8 854.4,829.1 857.1,830.4C859.9,831.8 864.5,833.8 865.4,834.6C866.4,835.5 863.4,835.1 862.9,835.5Z" fill="#a00000" stroke="#ff4545" stroke-width="1.5"/>
<path d="M945.9,837.4C945.8,838.2 943.9,838.9 942.5,838.9C941.1,838.9 939.1,838.1 937.6,837.4C936.1,836.7 934.1,835.6 933.5,834.8C932.8,833.9 933.6,832.9 934,832.1C934.3,831.3 934.6,830.2 935.7,830.1C936.7,829.9 939.1,830.6 940.3,831.3C941.6,831.9 942.5,833 943.4,834C944.3,835 946.1,836.6 945.9,837.4Z" fill="#a00000" stroke="#ff4545" stroke-width="1.5"/>
<path d="M890.9,808.2C890.5,808.8 890.3,809.6 889.1,809.7C887.9,809.8 885.7,809.3 883.6,808.9C881.5,808.4 878.1,807.9 876.5,807C874.9,806.1 874.7,804.6 874,803.6C873.2,802.6 872,801.6 872.1,800.9C872.2,800.3 873.2,799.8 874.5,799.6C875.7,799.5 877.8,799.4 879.7,799.9C881.6,800.4 884.2,801.7 886.1,802.7C888,803.7 890.4,805 891.1,805.9C891.9,806.8 891.2,807.5 890.9,808.2Z" fill="#a00000" stroke="#ff4545" stroke-width="1.5"/>
<path d="M904,805.6C904,806.5 900.1,806.3 897.8,806.3C895.6,806.3 892.9,806.3 890.3,805.6C887.7,804.9 884.6,803.5 882.2,802.2C879.9,801 876.6,799.2 876.3,798.4C876,797.5 879.2,797.5 880.4,797C881.7,796.5 881.5,795.1 883.6,795.2C885.8,795.2 891.1,796.1 893.4,797.1C895.8,798.2 895.9,800 897.7,801.4C899.5,802.8 904,804.8 904,805.6Z" fill="#a00000" stroke="#ff4545" stroke-width="1.5"/>
<path d="M912.2,818.7C912.6,819.5 906.8,819.8 902.9,819.2C899,818.7 892.7,816.6 888.7,815.5C884.6,814.3 880.7,813.3 878.8,812.3C876.9,811.4 875.5,809.8 877.2,809.7C879,809.5 885.3,810.5 889.2,811.3C893.1,812 896.8,813 900.6,814.2C904.4,815.5 911.9,817.9 912.2,818.7Z" fill="none" stroke="#ff4545" stroke-width="1.5"/>
<path d="M863.5,844.9C863.7,845.6 862.8,846.1 860.4,844.9C857.9,843.7 852.2,839.9 848.8,837.6C845.4,835.4 842.7,833.5 840,831.4C837.3,829.3 832.5,825.5 832.6,825C832.7,824.6 837.6,827 840.7,828.5C843.7,830 848,832.1 851,834.1C854.1,836.1 857,838.7 859.1,840.5C861.2,842.3 863.3,844.1 863.5,844.9Z" fill="none" stroke="#ff4545" stroke-width="1.5"/>
<path d="M915,817.5C915,818 908.4,816.9 905.5,816.5C902.6,816.1 901,815.7 897.6,815.1C894.2,814.5 887.6,813.8 885.2,812.9C882.8,812 883.8,810.7 883.2,809.8C882.5,808.8 880.1,807.5 881.3,807.3C882.5,807.1 887.1,808.2 890.3,808.6C893.5,809 897.9,808.9 900.5,809.7C903.1,810.5 903.3,812.1 905.7,813.4C908.1,814.7 915.1,817 915,817.5Z" fill="#a00000" stroke="#ff4545" stroke-width="1.5"/>
<path d="M891.7,825C891.4,825.5 892,826.8 890.6,826.4C889.2,826 885.8,823.9 883.4,822.5C881.1,821.2 878,819.6 876.5,818.5C875,817.3 873.9,815.7 874.3,815.3C874.8,815 877.2,815.8 879,816.4C880.9,816.9 883.4,817.4 885.6,818.6C887.8,819.8 891.2,822.4 892.2,823.4C893.2,824.5 891.9,824.6 891.7,825Z" fill="none" stroke="#ff4545" stroke-width="1.5"/>
<path d="M807.8,823.7C807.3,824.3 808.2,825.8 807.3,826C806.3,826.1 803.7,825.4 802.1,824.5C800.5,823.5 798.4,821.5 797.6,820.3C796.8,819.2 797.5,818.8 797.2,817.8C796.8,816.7 794.9,814.4 795.5,814.2C796.1,813.9 798.9,815.4 800.7,816C802.5,816.7 804.7,817 806.3,818.1C807.9,819.1 810.1,821.5 810.4,822.5C810.6,823.4 808.4,823.1 807.8,823.7Z" fill="none" stroke="#ff4545" stroke-width="1.5"/>
<path d="M933.4,818.3C933.2,819 930.6,819 928.8,818.9C927.1,818.7 924.6,818.5 923,817.7C921.4,816.9 919.4,814.8 919.3,814C919.2,813.2 921.2,812.9 922.3,812.8C923.4,812.6 924.5,812.5 925.8,812.9C927,813.2 928.8,813.9 930,814.8C931.3,815.7 933.6,817.7 933.4,818.3Z" fill="#a00000" stroke="#ff4545" stroke-width="1.5"/>
<path d="M901.7,844.4C901.8,844.9 896.3,844.1 893,843.5C889.8,842.9 885.2,841.8 882.1,840.8C878.9,839.8 876.1,838.5 874.1,837.4C872.2,836.4 869,834.4 870.6,834.5C872.2,834.6 880,836.8 883.7,837.8C887.3,838.8 889.5,839.4 892.5,840.5C895.5,841.6 901.6,843.9 901.7,844.4Z" fill="none" stroke="#ff4545" stroke-width="1.5"/>
<path d="M938.9,841.6C938.2,842 941.2,844.5 940,844.6C938.9,844.7 934.9,843.7 932,842.1C929,840.6 925.2,837.3 922.5,835.3C919.8,833.3 917.6,831.9 916,830.3C914.3,828.8 911.9,826.6 912.4,826.2C912.8,825.8 916.5,827.4 918.6,827.9C920.6,828.4 921.7,828 924.6,829.2C927.4,830.4 932.5,833.2 935.8,835.3C939.1,837.4 943.9,841 944.5,842C945,843.1 939.7,841.2 938.9,841.6Z" fill="none" stroke="#ff4545" stroke-width="1.5"/>
<path d="M865,841.1C864.6,841.7 861.4,840.5 859.7,840.3C858,840.1 855.7,840.5 854.5,839.7C853.3,838.8 853.2,836.6 852.4,835.1C851.6,833.6 849.2,831.3 849.5,830.6C849.7,829.8 852.4,830.2 854.1,830.4C855.8,830.7 858.3,831.2 859.6,832.2C860.8,833.2 860.9,834.9 861.8,836.4C862.7,837.9 865.3,840.4 865,841.1Z" fill="#a00000" stroke="#ff4545" stroke-width="1.5"/>
<path d="M930.7,824.7C930.5,825.5 928.2,825.8 926.6,825.7C925.1,825.6 923,824.8 921.5,824.1C920.1,823.3 919,822.3 918.1,821.4C917.2,820.4 916,819 916.3,818.3C916.5,817.6 918.1,817.5 919.5,817.3C920.9,817.1 923,816.8 924.5,817.4C925.9,818 927.3,819.8 928.3,821C929.4,822.2 931,823.9 930.7,824.7Z" fill="none" stroke="#ff4545" stroke-width="1.5"/>
<path d="M911.3,828.5C911,829.2 906.8,828.4 904.4,828.3C902,828.2 900.1,828.5 897,827.7C893.9,826.9 888.6,825 885.9,823.6C883.2,822.2 881.7,820.5 880.8,819.3C879.9,818.1 879.1,816.5 880.5,816.2C882,815.9 886.2,817 889.5,817.6C892.9,818.1 897.9,818.5 900.6,819.6C903.3,820.7 904.1,823 905.9,824.5C907.7,825.9 911.5,827.9 911.3,828.5Z" fill="none" stroke="#ff4545" stroke-width="1.5"/>
<path d="M805.2,828C805.1,828.5 803.6,828.5 802.6,828.5C801.5,828.6 800.3,828.6 799,828.3C797.7,827.9 795.6,826.9 794.9,826.2C794.2,825.5 794.6,824.8 794.6,824.3C794.6,823.7 794.6,823.4 794.9,823C795.3,822.6 795.7,821.7 796.7,821.8C797.6,821.9 799.8,822.9 800.8,823.5C801.9,824.2 802.4,824.9 803.1,825.7C803.8,826.4 805.3,827.5 805.2,828Z" fill="none" stroke="#ff4545" stroke-width="1.5"/>
<path d="M857.6,821.6C856.9,821.9 851.3,820.4 848.2,819.7C845.1,819 842.1,818.3 839.1,817.2C836.1,816.1 831.7,814.1 830,813.1C828.3,812 829.2,811.7 828.9,810.9C828.5,810.1 825.9,807.9 827.9,808.2C829.9,808.5 836.8,811.1 840.8,812.6C844.9,814.2 849.6,816 852.4,817.5C855.2,819 858.3,821.2 857.6,821.6Z" fill="none" stroke="#ff4545" stroke-width="1.5"/>
<path d="M889.3,848.4C888.9,848.9 888.3,849.1 887.7,849.4C887,849.6 886.5,849.9 885.4,850C884.4,850 882.4,850.1 881.5,849.6C880.6,849.1 880.2,847.6 880.1,846.9C880,846.1 880.7,845.8 880.9,845.1C881,844.4 880.3,843.2 880.9,842.8C881.5,842.3 883.1,842.1 884.4,842.3C885.6,842.5 887.3,843.3 888.3,844C889.3,844.7 890,845.8 890.1,846.6C890.3,847.3 889.7,848 889.3,848.4Z" fill="#a00000" stroke="#ff4545" stroke-width="1.5"/>
<path d="M823.4,830.6C823.1,831.3 823.5,832.2 822.4,832.5C821.4,832.7 818.8,832.6 817.2,832C815.6,831.3 814.2,829.4 812.8,828.3C811.5,827.2 809.7,826.3 809,825.3C808.4,824.4 808,822.9 809,822.8C809.9,822.6 813,823.9 814.8,824.4C816.5,824.9 817.9,825 819.5,825.7C821.1,826.4 823.6,827.9 824.2,828.7C824.9,829.5 823.7,830 823.4,830.6Z" fill="#a00000" stroke="#ff4545" stroke-width="1.5"/>
<path d="M896.3,816.5C895.9,817.1 891.9,816.1 889.6,815.3C887.2,814.6 885.1,813.5 882.3,812.2C879.5,811 874.3,809 872.8,807.8C871.3,806.6 872.5,805.6 873.2,805.2C874,804.8 875.4,804.9 877.3,805.2C879.2,805.5 882.3,806 884.7,807.2C887.2,808.3 889.9,810.5 891.9,812.1C893.8,813.6 896.7,816 896.3,816.5Z" fill="none" stroke="#ff4545" stroke-width="1.5"/>
<path d="M916.3,849.5C916.1,850.2 915.2,850.7 914.3,851C913.5,851.3 912.2,851.5 911.1,851.3C910.1,851.1 909.2,850.3 907.9,849.7C906.6,849.1 903.4,848.4 903.1,847.7C902.7,847 905,846 905.7,845.4C906.4,844.7 906.3,844.1 907.1,843.6C907.8,843.1 909.1,842.2 910.2,842.4C911.2,842.6 912.6,844 913.6,844.8C914.5,845.6 915.3,846.2 915.8,847C916.2,847.8 916.6,848.8 916.3,849.5Z" fill="#a00000" stroke="#ff4545" stroke-width="1.5"/>
<path d="M842.9,906.2C842.9,907.4 841.6,909.1 839.9,909.4C838.1,909.7 834.4,908.9 832.7,908.1C831.1,907.2 830.6,905.6 830,904.3C829.3,903 827.9,900.8 828.7,900.3C829.6,899.8 833.3,900.9 835.2,901.3C837.2,901.6 839.1,901.6 840.4,902.4C841.7,903.2 843,905 842.9,906.2Z" fill="none" stroke="#ff4545" stroke-width="1.5"/>
<path d="M835.8,878.5C835.6,879.2 835.5,880.5 834.5,880.4C833.4,880.4 830.9,879.2 829.6,878.4C828.2,877.5 827.5,876.4 826.5,875.4C825.6,874.4 824.1,873.3 823.8,872.5C823.5,871.7 824,870.9 824.7,870.5C825.5,870.1 826.9,869.6 828.1,870.1C829.3,870.6 830.7,872.6 832,873.6C833.3,874.6 835.3,875.3 835.9,876.1C836.5,877 836.1,877.8 835.8,878.5Z" fill="none" stroke="#ff4545" stroke-width="1.5"/>
<path d="M796.2,884.5C795.9,885.4 794.9,886.4 793.2,886.5C791.5,886.7 788.5,886.2 786.1,885.5C783.8,884.8 780.5,883.4 779.1,882.3C777.7,881.1 777,879.3 777.6,878.6C778.3,877.9 781.2,878.2 783,878.1C784.8,878 786.5,877.5 788.5,878C790.6,878.5 794.1,880 795.4,881.1C796.7,882.2 796.6,883.6 796.2,884.5Z" fill="#a00000" stroke="#ff4545" stroke-width="1.5"/>
<path d="M848.2,901C847.9,901.4 846.1,901.2 844.7,901C843.3,900.7 841.2,900.3 839.7,899.6C838.2,898.9 836.9,897.7 835.6,896.6C834.3,895.6 831.6,893.7 831.9,893.4C832.1,893 835.6,894 837.2,894.4C838.8,894.8 840,895.2 841.5,895.8C843,896.5 845,897.5 846.1,898.4C847.2,899.3 848.4,900.6 848.2,901Z" fill="#a00000" stroke="#ff4545" stroke-width="1.5"/>
<path d="M821.9,908.1C821.6,908.7 820.1,908.8 818.6,908.5C817.1,908.2 814.5,907.5 812.7,906.4C810.9,905.4 809.6,903.8 808,902.4C806.4,901 803.7,899.3 803.1,898.2C802.5,897.2 803,896 804.3,896.1C805.5,896.3 808.8,898.6 810.8,899.3C812.8,900.1 814.6,899.7 816.2,900.7C817.8,901.6 819.6,903.6 820.6,904.9C821.5,906.1 822.2,907.4 821.9,908.1Z" fill="#a00000" stroke="#ff4545" stroke-width="1.5"/>
<path d="M847.4,907.6C846.7,908 843.7,907.4 842.1,907.3C840.4,907.2 839.1,907.3 837.4,906.8C835.8,906.3 834.2,905.3 832.2,904.5C830.3,903.6 826.3,902.4 825.6,901.7C824.9,901.1 827.6,901 828,900.4C828.3,899.9 826.9,898.6 827.7,898.3C828.6,898 830.9,898.2 833.1,898.7C835.2,899.1 838.4,900.2 840.6,901.2C842.8,902.3 845.2,903.7 846.3,904.8C847.5,905.9 848.1,907.2 847.4,907.6Z" fill="#a00000" stroke="#ff4545" stroke-width="1.5"/>
<path d="M819.8,891.4C819.6,892 819.7,893.1 818.6,893.1C817.6,893 814.8,891.9 813.4,891.1C812,890.3 811.2,889.3 810,888.4C808.8,887.5 806.6,886.2 806.4,885.7C806.2,885.1 808,885.3 808.7,884.9C809.4,884.6 809.3,883.3 810.6,883.5C811.9,883.7 814.9,885 816.4,885.9C817.9,886.9 819.2,888.4 819.8,889.3C820.4,890.2 820,890.8 819.8,891.4Z" fill="none" stroke="#ff4545" stroke-width="1.5"/>
<path d="M805.1,893C804.8,893.3 803.5,892.9 802.2,892.6C800.9,892.3 798.5,892.1 797.2,891.2C795.9,890.4 794.6,888.5 794.5,887.7C794.3,887 795.3,886.9 796.2,886.9C797.1,886.9 798.6,887.2 799.9,887.8C801.2,888.4 803.2,889.9 804.1,890.7C805,891.6 805.4,892.7 805.1,893Z" fill="none" stroke="#ff4545" stroke-width="1.5"/>
<path d="M803.3,906.5C803.3,907.2 803.6,908.5 802,908.3C800.5,908.2 796.6,906.7 793.7,905.7C790.9,904.6 787.2,903.2 785.2,902C783.2,900.8 782.8,899.6 781.7,898.4C780.7,897.2 778.1,895.1 779,894.7C779.9,894.3 784,895.2 787,896C789.9,896.9 794.3,898.4 796.8,899.8C799.3,901.1 800.9,902.8 802,903.9C803.1,905.1 803.2,905.7 803.3,906.5Z" fill="#a00000" stroke="#ff4545" stroke-width="1.5"/>
<path d="M1049.7,504.4C1049.5,505.5 1047.3,503.6 1045.7,500.5C1044.1,497.4 1041.6,490 1040,485.8C1038.5,481.6 1037.2,478.4 1036.4,475.2C1035.5,472.1 1034.3,467.1 1034.8,467C1035.3,466.8 1037.9,471.6 1039.5,474.4C1041,477.3 1042.7,480.9 1044,484.2C1045.3,487.5 1046.3,490.8 1047.2,494.1C1048.2,497.5 1050,503.4 1049.7,504.4Z" fill="none" stroke="#ff4545" stroke-width="1.5"/>
<path d="M1016.4,489C1017.3,489.6 1017.7,491 1018.1,492.5C1018.5,494 1019.3,496.1 1019,498.1C1018.6,500.2 1017.2,502.8 1016.1,504.9C1015.1,506.9 1013.9,509.7 1012.7,510.6C1011.6,511.4 1009.8,511.3 1009.4,509.9C1009,508.5 1010.2,504.6 1010.2,502.2C1010.2,499.8 1008.9,497.6 1009.3,495.4C1009.8,493.2 1011.9,489.8 1013.1,488.7C1014.3,487.7 1015.6,488.4 1016.4,489Z" fill="#ff3300" stroke="#ff4545" stroke-width="1.5"/>
<path d="M1045.6,605.9C1045.3,606.4 1038.3,606.3 1035.1,606.3C1031.9,606.3 1029.3,606.4 1026.6,606.1C1023.8,605.8 1021,605.3 1018.5,604.7C1016,604.1 1012.3,603.4 1011.5,602.7C1010.8,602.1 1011.3,601 1013.9,600.8C1016.5,600.6 1023.1,601.1 1027,601.6C1030.9,602 1034.2,602.7 1037.3,603.5C1040.4,604.2 1046,605.5 1045.6,605.9Z" fill="none" stroke="#ff4545" stroke-width="1.5"/>
<path d="M1001,495.4C1001.4,496.6 1002.3,497.7 1001.9,498.9C1001.5,500 999.4,500.8 998.3,502.3C997.2,503.7 996.7,506.6 995.2,507.5C993.8,508.4 990.9,508.2 989.5,507.7C988.1,507.2 987.2,505.6 986.9,504.4C986.7,503.2 987.7,501.7 988,500.4C988.3,499 987.9,497.4 988.8,496.3C989.7,495.2 991.8,494.6 993.5,493.8C995.2,493 997.8,491.3 999.1,491.5C1000.3,491.8 1000.5,494.2 1001,495.4Z" fill="none" stroke="#ff4545" stroke-width="1.5"/>
<path d="M1043.7,515.9C1042,516 1040.2,515.1 1038.7,514.3C1037.3,513.5 1035.3,512.2 1035.1,510.9C1034.9,509.6 1036.4,507.7 1037.6,506.6C1038.7,505.5 1040.2,504.5 1041.7,504.3C1043.2,504 1045.4,504.3 1046.4,505.1C1047.3,505.8 1047,507.4 1047.4,508.7C1047.9,510.1 1049.7,512.1 1049.1,513.3C1048.4,514.5 1045.5,515.7 1043.7,515.9Z" fill="#ff3300" stroke="#ff4545" stroke-width="1.5"/>
<path d="M1041.5,500.7C1041.6,501.1 1040.5,502 1040.2,502.7C1040,503.4 1040.7,504.4 1040,505C1039.3,505.5 1037.3,505.8 1036.2,506.2C1035.1,506.6 1034,507.1 1033.2,507.1C1032.4,507.2 1031.3,507.1 1031.3,506.6C1031.2,506.2 1032.5,505.1 1033,504.4C1033.4,503.7 1033.2,503.2 1033.9,502.5C1034.6,501.8 1036.1,500.4 1037.1,500C1038,499.6 1039,500 1039.8,500.1C1040.5,500.3 1041.4,500.3 1041.5,500.7Z" fill="none" stroke="#ff4545" stroke-width="1.5"/>
<path d="M1079.1,557.4C1079.7,557.4 1075.2,562.5 1073.8,564.6C1072.4,566.7 1072.7,567.5 1070.8,569.8C1068.9,572 1064.5,576 1062.2,577.9C1059.8,579.8 1058.2,580.6 1056.8,581.4C1055.4,582.2 1054.5,582.6 1053.9,582.5C1053.3,582.4 1052.5,582.3 1053.3,580.9C1054.1,579.6 1056.4,576.5 1058.5,574.3C1060.6,572 1064.1,569 1066.1,567.4C1068.1,565.7 1068.5,566 1070.6,564.3C1072.8,562.7 1078.6,557.4 1079.1,557.4Z" fill="#ff3300" stroke="#ff4545" stroke-width="1.5"/>
<path d="M1014.8,611.4C1015.2,612.1 1013.6,614.3 1012.1,616C1010.6,617.7 1008.4,619.5 1005.9,621.6C1003.5,623.7 999.9,626.9 997.4,628.3C994.9,629.6 993.2,629.1 991.1,629.5C988.9,630 984.5,632 984.6,631.2C984.6,630.4 989.9,626.6 991.3,624.8C992.7,623.1 991.1,622 992.8,620.7C994.5,619.3 998.6,618 1001.5,616.5C1004.4,615 1007.9,612.3 1010.1,611.5C1012.3,610.6 1014.5,610.6 1014.8,611.4Z" fill="none" stroke="#ff4545" stroke-width="1.5"/>
<path d="M1045.8,558.9C1046.3,560.3 1043.9,563.4 1042,565.4C1040.1,567.3 1037.4,569.2 1034.4,570.6C1031.5,572.1 1026.7,574.1 1024.2,574C1021.8,574 1020.1,571.9 1019.7,570.3C1019.4,568.8 1020.6,566.5 1022.2,564.6C1023.8,562.7 1026.5,560 1029.2,558.7C1032,557.5 1035.9,557.1 1038.7,557.2C1041.4,557.2 1045.2,557.6 1045.8,558.9Z" fill="none" stroke="#ff4545" stroke-width="1.5"/>
<path d="M1008.3,560.4C1009.7,560.8 1010.6,560.9 1011.9,562.2C1013.2,563.4 1016.1,565.8 1016.1,567.9C1016,570 1012.5,572.1 1011.4,574.8C1010.2,577.4 1010.2,582.8 1009,584C1007.7,585.3 1005.3,583.5 1003.8,582.2C1002.3,580.9 1000.4,578.6 1000.2,576.2C999.9,573.8 1001.9,570.6 1002.5,567.8C1003.1,565 1002.8,560.7 1003.7,559.5C1004.7,558.2 1006.9,559.9 1008.3,560.4Z" fill="#ff3300" stroke="#ff4545" stroke-width="1.5"/>
<path d="M1057.5,582.8C1059,583.3 1060.6,585.9 1060,588.1C1059.3,590.3 1055.7,594 1053.7,595.9C1051.6,597.9 1049.7,598.8 1047.5,599.8C1045.3,600.8 1041.4,602.9 1040.5,602C1039.6,601.2 1041.6,597.2 1042.1,594.7C1042.7,592.3 1042.4,589 1043.9,587.3C1045.3,585.7 1048.7,585.5 1050.9,584.8C1053.2,584 1056,582.2 1057.5,582.8Z" fill="#ff3300" stroke="#ff4545" stroke-width="1.5"/>
<path d="M1071.7,538C1071.9,538.6 1070,540.6 1069.5,541.7C1069.1,542.8 1069.9,543.8 1069.1,544.6C1068.4,545.3 1066.2,545.7 1065,546.4C1063.8,547 1063.1,547.8 1062,548.3C1060.9,548.9 1058.6,549.9 1058.4,549.5C1058.2,549.1 1060.1,546.9 1060.6,545.9C1061.1,544.9 1060.6,544.3 1061.3,543.3C1062,542.2 1063.7,540.3 1064.9,539.5C1066.1,538.8 1067.3,538.9 1068.4,538.6C1069.6,538.4 1071.5,537.5 1071.7,538Z" fill="none" stroke="#ff4545" stroke-width="1.5"/>
<path d="M963.4,537.3C963.9,538.4 964.5,539.7 963.9,541C963.2,542.4 961.4,544.7 959.6,545.5C957.7,546.3 955.2,545.4 952.8,545.9C950.4,546.4 946.5,548.8 945,548.5C943.5,548.2 944,545.6 944,544.2C943.9,542.9 944,541.8 944.6,540.4C945.1,538.9 945.7,536.5 947.5,535.4C949.2,534.4 952.9,534.2 955.1,534C957.3,533.9 959.5,533.9 960.9,534.4C962.3,535 962.9,536.2 963.4,537.3Z" fill="#ff3300" stroke="#ff4545" stroke-width="1.5"/>
<path d="M979.7,557C980.1,557.6 981.7,558.3 980.7,559.1C979.7,559.9 975.8,561.3 973.7,561.9C971.6,562.6 970.2,562.6 968,563C965.9,563.4 962.3,564.6 960.9,564.5C959.6,564.3 959,563.1 960,562.2C961,561.3 964.9,560.2 966.9,559.1C968.9,558.1 970.2,556.5 972.1,555.8C974.1,555.2 977.3,555 978.6,555.2C979.9,555.4 979.4,556.4 979.7,557Z" fill="none" stroke="#ff4545" stroke-width="1.5"/>
<path d="M970.3,588.9C969.4,589.1 967.8,588.1 967.1,586.5C966.4,584.9 966,581.3 965.9,579.2C965.8,577.1 966.1,574.9 966.6,573.8C967.2,572.8 968.3,572 969.2,572.7C970.1,573.3 971.6,575.7 972.2,577.8C972.7,579.9 972.8,583.6 972.5,585.4C972.2,587.3 971.2,588.7 970.3,588.9Z" fill="none" stroke="#ff4545" stroke-width="1.5"/>
<path d="M1040,545C1038.7,545.5 1035,543.3 1032.6,542C1030.2,540.6 1027.8,539.1 1025.8,537C1023.7,534.9 1021.5,531.8 1020.3,529.5C1019.1,527.2 1018.7,525 1018.6,523C1018.5,521 1018.1,517.6 1019.6,517.4C1021.1,517.3 1024.8,520.3 1027.6,522.3C1030.4,524.2 1034.3,526.3 1036.5,529C1038.6,531.7 1039.9,535.8 1040.5,538.5C1041.1,541.2 1041.3,544.4 1040,545Z" fill="none" stroke="#ff4545" stroke-width="1.5"/>
<path d="M1059.6,481.2C1060,482.1 1061.3,481.9 1061,483.1C1060.6,484.3 1058.7,486.8 1057.6,488.5C1056.4,490.2 1055.4,491.5 1053.9,493.3C1052.4,495.1 1050.1,498 1048.6,499.2C1047,500.3 1044.6,501.2 1044.4,500.3C1044.2,499.3 1046.6,495.6 1047.3,493.8C1047.9,492 1047.4,491.3 1048.3,489.5C1049.2,487.8 1051.1,485.4 1052.8,483.5C1054.5,481.6 1057.4,478.5 1058.6,478.1C1059.7,477.7 1059.2,480.4 1059.6,481.2Z" fill="none" stroke="#ff4545" stroke-width="1.5"/>
<path d="M1028.3,606.4C1027.4,607.5 1024.3,607.6 1021.6,607.3C1019,606.9 1016.2,605.9 1012.6,604.4C1009.1,602.9 1001.6,599.8 1000.5,598.3C999.4,596.7 1003.5,595.4 1006,595C1008.5,594.7 1011.9,595.1 1015.5,596.1C1019.1,597.1 1025.3,599.3 1027.4,601C1029.6,602.7 1029.3,605.4 1028.3,606.4Z" fill="none" stroke="#ff4545" stroke-width="1.5"/>
<path d="M1000.5,545.4C1000.3,546.6 997.7,546.5 995.8,545.8C994,545.2 991.2,543.3 989.3,541.7C987.4,540.1 985.4,537.7 984.5,536C983.5,534.3 984.3,533.5 983.5,531.6C982.8,529.7 979.5,525.6 979.9,524.7C980.3,523.9 984,525.6 985.8,526.5C987.7,527.4 989.2,529.1 991,530.3C992.8,531.6 995.8,532.8 996.8,534.2C997.8,535.6 996.3,536.7 996.9,538.6C997.6,540.5 1000.7,544.2 1000.5,545.4Z" fill="none" stroke="#ff4545" stroke-width="1.5"/>
<path d="M1035.8,602C1035.9,602.7 1032,605.6 1030.2,607.2C1028.4,608.7 1026.8,610.6 1025.1,611.4C1023.3,612.2 1020.8,612.3 1019.5,612.1C1018.2,611.9 1016.7,611.4 1017.2,610.3C1017.6,609.2 1020,606.9 1022,605.7C1024,604.4 1026.9,603.3 1029.2,602.7C1031.5,602 1035.6,601.2 1035.8,602Z" fill="#ff3300" stroke="#ff4545" stroke-width="1.5"/>
<path d="M1035,613.2C1034.4,614.3 1031.8,614.8 1029.9,614.4C1027.9,614 1025.4,611.9 1023.2,610.9C1021.1,609.9 1018.8,609.8 1016.8,608.5C1014.9,607.2 1012,604.5 1011.6,603.1C1011.2,601.6 1013.3,600.7 1014.3,600C1015.4,599.3 1016.5,599.2 1018,598.9C1019.4,598.6 1021.5,597.6 1023.1,598.4C1024.7,599.2 1025.6,602.2 1027.4,603.8C1029.2,605.4 1032.5,606.5 1033.8,608.1C1035.1,609.6 1035.7,612.2 1035,613.2Z" fill="none" stroke="#ff4545" stroke-width="1.5"/>
<path d="M1012,624.5C1013.2,626.3 1013.1,630.3 1011.3,632.8C1009.5,635.3 1003.8,638.5 1001,639.5C998.1,640.5 996,639.3 994.2,638.6C992.4,638 990.3,637.2 990.4,635.6C990.6,634.1 992.8,631.7 995.1,629.4C997.3,627.1 1001.3,622.7 1004.1,621.8C1006.9,621 1010.8,622.7 1012,624.5Z" fill="none" stroke="#ff4545" stroke-width="1.5"/>
<path d="M649.6,821.6C649.7,822.3 649,823.4 647.9,824.2C646.8,825 645.2,825.7 643.2,826.4C641.1,827.1 637.8,828.2 635.8,828.2C633.8,828.1 632.1,826.9 631,826C629.8,825.1 628.2,823.8 628.9,822.8C629.6,821.7 633,820.2 635.1,819.7C637.3,819.1 639.8,819.6 641.8,819.5C643.8,819.5 645.9,819.2 647.2,819.5C648.5,819.9 649.5,820.8 649.6,821.6Z" fill="none" stroke="#ff4545" stroke-width="1.5"/>
<path d="M691.4,840.1C691.2,841.2 687.9,842.4 685.8,843.1C683.6,843.8 680.8,844.4 678.7,844.2C676.5,844 674.7,842.7 673,841.8C671.2,840.9 668.5,839.9 668.2,838.8C668,837.7 669.6,836 671.5,835.4C673.3,834.8 676.6,835.2 679.2,835.3C681.8,835.4 685,835.3 687,836.1C689,836.9 691.6,838.9 691.4,840.1Z" fill="none" stroke="#ff4545" stroke-width="1.5"/>
<path d="M652.5,822.7C652.6,823.8 651.7,825.4 650.2,826.1C648.6,826.7 645.5,826.3 643.2,826.6C640.8,827 637.4,828.3 635.8,828C634.3,827.7 634.3,826 634.1,824.9C634,823.8 633.4,822.3 634.8,821.5C636.2,820.7 639.9,820.4 642.4,820.1C644.9,819.9 648,819.5 649.6,819.9C651.3,820.3 652.4,821.7 652.5,822.7Z" fill="none" stroke="#ff4545" stroke-width="1.5"/>
<path d="M686.1,823.2C686,823.8 684.1,824.8 683.3,825.4C682.6,825.9 682.4,826.2 681.7,826.7C681.1,827.2 680.1,828.2 679.2,828.4C678.3,828.6 677,828.3 676.3,828C675.6,827.6 675.3,826.9 675.1,826.3C674.9,825.7 674.7,824.9 675.1,824.3C675.4,823.6 676.3,822.6 677.3,822.1C678.2,821.6 679.7,821.4 680.8,821.3C682,821.2 683.3,821.2 684.2,821.5C685.1,821.8 686.2,822.6 686.1,823.2Z" fill="#c00000" stroke="#ff4545" stroke-width="1.5"/>
<path d="M686.9,872.2C686.8,873.2 687.3,875 686.6,875.6C685.9,876.2 683.8,875.9 682.6,875.8C681.4,875.7 680.3,875.4 679.5,874.9C678.7,874.3 678.5,873.4 677.8,872.5C677.2,871.7 675.9,870.8 675.7,869.7C675.5,868.5 675.7,866.3 676.7,865.8C677.6,865.3 680.1,866.5 681.4,866.8C682.7,867.1 683.4,867 684.4,867.4C685.4,867.7 686.9,868.4 687.3,869.2C687.7,870 687,871.1 686.9,872.2Z" fill="#c00000" stroke="#ff4545" stroke-width="1.5"/>
<path d="M730.9,821.8C730.9,822.5 731.1,823.4 730,823.7C728.9,824.1 726,824.1 724.3,824C722.6,823.9 721.2,823.5 719.9,823.2C718.6,822.9 717.3,822.7 716.3,822.3C715.4,821.9 714.1,821.3 714.2,820.9C714.3,820.4 715.9,820.1 716.9,819.8C717.9,819.5 718.8,819.3 720.1,819.2C721.4,819.1 722.9,818.9 724.5,819C726.2,819.1 728.9,819.4 729.9,819.9C731,820.3 730.9,821.2 730.9,821.8Z" fill="#c00000" stroke="#ff4545" stroke-width="1.5"/>
<path d="M730.1,817.9C730.1,818.5 726.9,819.2 725.3,819.7C723.7,820.1 722.1,820.8 720.7,820.7C719.3,820.6 717.9,819.7 716.8,819.2C715.6,818.6 714,818 713.9,817.4C713.8,816.8 714.9,815.8 716,815.4C717.2,815 719.4,815 720.9,815.1C722.4,815.1 723.5,815.5 725,816C726.5,816.5 730,817.3 730.1,817.9Z" fill="none" stroke="#ff4545" stroke-width="1.5"/>
<path d="M643.9,824.6C643.3,825.6 640.5,826.3 638.6,827.2C636.7,828 634.9,829.5 632.4,829.7C629.8,830 625.5,829.4 623.3,828.6C621.1,827.8 618.9,826.3 619.2,825.2C619.4,824.1 622.7,823 624.8,822.2C627,821.4 629.3,820.7 632.2,820.5C635,820.3 639.9,820.2 641.8,820.9C643.8,821.6 644.4,823.6 643.9,824.6Z" fill="none" stroke="#ff4545" stroke-width="1.5"/>
<path d="M619.6,845.9C619.7,846.5 618.5,847.5 617.7,848.3C616.8,849 615.8,849.6 614.5,850.3C613.2,851 611.6,852 609.9,852.4C608.1,852.9 605.1,853.4 604.1,853.1C603,852.7 603.6,851.3 603.6,850.5C603.6,849.7 603.6,849 604.2,848.1C604.8,847.2 605.7,845.7 607.2,845C608.7,844.3 611.7,843.9 613.3,843.9C614.9,843.8 615.8,844.4 616.9,844.8C617.9,845.1 619.5,845.3 619.6,845.9Z" fill="none" stroke="#ff4545" stroke-width="1.5"/>
<path d="M675.6,874.7C675.5,876.1 675.1,877.6 674.1,878.8C673.1,879.9 671.2,881.3 669.5,881.5C667.9,881.7 665.5,880.7 664.2,879.8C663,879 662.7,877.6 662.1,876.4C661.5,875.2 660.2,873.6 660.6,872.6C661.1,871.5 663.1,870.8 664.6,870C666.1,869.3 667.8,868.1 669.5,868.2C671.1,868.3 673.5,869.3 674.6,870.4C675.6,871.5 675.6,873.3 675.6,874.7Z" fill="none" stroke="#ff4545" stroke-width="1.5"/>
<path d="M626.7,840.4C626.9,841.1 625.9,842 623.7,841.9C621.4,841.8 617.1,840.4 613.3,839.6C609.5,838.8 603,838 600.8,837.1C598.6,836.2 599.8,835.1 600,834.3C600.2,833.4 599.8,832.1 602.2,832.2C604.7,832.2 611.2,833.5 614.5,834.4C617.8,835.3 620.2,836.6 622.2,837.6C624.2,838.6 626.4,839.7 626.7,840.4Z" fill="none" stroke="#ff4545" stroke-width="1.5"/>
<path d="M614.6,792.8C614.2,793.6 613.5,794 612.8,794.5C612.2,795.1 611.7,796 610.9,796.2C610.1,796.4 609,795.8 608,795.6C606.9,795.5 605,795.6 604.4,795C603.8,794.5 604.1,793.1 604.4,792.4C604.8,791.6 605.7,791.2 606.3,790.7C607,790.2 607.5,789.5 608.2,789.4C609,789.2 609.7,789.6 610.9,789.7C612,789.8 614.4,789.3 615.1,789.8C615.7,790.4 615,792 614.6,792.8Z" fill="none" stroke="#ff4545" stroke-width="1.5"/>
<path d="M716.6,834.8C716.7,836.2 714.5,838.4 712.6,839.2C710.7,839.9 707.2,839.6 705,839.4C702.8,839.1 700.3,838.6 699.3,837.6C698.2,836.7 697.8,834.8 698.6,833.6C699.4,832.4 701.9,830.9 704.2,830.4C706.4,830 710.1,830.1 712.2,830.8C714.3,831.5 716.5,833.4 716.6,834.8Z" fill="none" stroke="#ff4545" stroke-width="1.5"/>
<path d="M730.3,835.5C731.2,836.7 733.5,838.8 731.6,840.4C729.7,842 722.7,843.9 718.8,845.1C714.9,846.4 710.2,848.1 708.1,847.8C705.9,847.5 705.1,845.4 705.9,843.4C706.8,841.4 709.9,837.5 713.2,835.8C716.5,834.1 723,833.2 725.8,833.2C728.6,833.1 729.3,834.3 730.3,835.5Z" fill="none" stroke="#ff4545" stroke-width="1.5"/>
<path d="M682,829C682.6,829.7 681.4,830.8 679.3,831.6C677.1,832.4 672.9,833.6 669.1,833.8C665.3,833.9 660.3,833.1 656.5,832.6C652.7,832.1 647.7,831.5 646.5,830.8C645.2,830 647.5,828.8 648.9,827.9C650.3,826.9 651.5,825.6 654.8,825.1C658.1,824.6 665.3,824.4 668.8,824.7C672.3,825.1 673.7,826.3 675.9,827.1C678.1,827.8 681.5,828.2 682,829Z" fill="#c00000" stroke="#ff4545" stroke-width="1.5"/>
<path d="M641,871.7C641.9,872.7 643.3,874.2 642.6,875.7C641.9,877.3 639.1,880 636.8,881C634.5,882.1 631,882.1 628.8,882.1C626.6,882 624.4,881.6 623.7,880.8C622.9,879.9 623.8,878.1 624.2,876.9C624.6,875.6 624.7,874.5 625.9,873C627.1,871.5 629.6,868.4 631.5,867.9C633.4,867.4 635.7,869.2 637.3,869.8C638.9,870.4 640.2,870.7 641,871.7Z" fill="none" stroke="#ff4545" stroke-width="1.5"/>
<path d="M640,856.7C640.3,857.3 638.4,858.4 636.7,858.6C635,858.9 632,858.3 629.8,858.2C627.6,858.1 624.8,858.1 623.6,857.7C622.5,857.3 622.7,856.4 622.9,855.8C623.1,855.3 623.5,854.7 624.6,854.3C625.8,853.9 628.4,853.5 630,853.6C631.7,853.7 632.9,854.5 634.5,855.1C636.2,855.6 639.6,856.1 640,856.7Z" fill="none" stroke="#ff4545" stroke-width="1.5"/>
<path d="M640.3,871.2C640.5,871.7 637.8,871.5 635.9,871.5C634,871.5 631.3,871.8 628.6,871.2C626,870.6 622.4,868.9 620.1,868C617.9,867 616.4,866.4 614.9,865.6C613.4,864.8 610.1,863.1 611.2,863C612.3,862.9 618.5,864.3 621.4,864.9C624.4,865.4 626.6,865.8 628.8,866.4C631,867 632.8,867.8 634.7,868.6C636.6,869.4 640.1,870.7 640.3,871.2Z" fill="#c00000" stroke="#ff4545" stroke-width="1.5"/>
<path d="M701,864.1C701.3,865.1 699.2,867 697.7,867.9C696.3,868.9 694.1,869.7 692.3,870C690.5,870.3 688.4,870 686.9,869.6C685.4,869.1 683.9,868.4 683.2,867.3C682.6,866.1 681.7,864.1 682.9,862.8C684.1,861.5 688.2,859.6 690.4,859.5C692.7,859.4 694.3,861.3 696.1,862.1C697.9,862.9 700.7,863.2 701,864.1Z" fill="none" stroke="#ff4545" stroke-width="1.5"/>
<path d="M720.2,865.2C721.2,866.1 719.2,869.1 717.1,870.7C714.9,872.4 710.2,873.9 707.1,875.2C704,876.5 701.3,877.7 698.5,878.4C695.7,879 691.2,879.8 690,879.2C688.8,878.6 690.9,876.3 691.4,874.8C691.8,873.2 690.8,871.1 692.9,869.8C694.9,868.6 700.7,867.8 703.8,867.1C706.8,866.4 708.5,866 711.2,865.7C714,865.3 719.2,864.4 720.2,865.2Z" fill="#c00000" stroke="#ff4545" stroke-width="1.5"/>
<path d="M650.9,820.7C650.9,821.9 648.9,823.6 646.4,823.9C643.9,824.2 638.2,823.2 635.7,822.3C633.2,821.3 632.1,819.3 631.4,818.2C630.8,817 630.8,815.9 631.9,815.2C633,814.5 635.4,813.8 637.8,813.9C640.3,814.1 644.4,815.2 646.5,816.3C648.7,817.4 650.9,819.4 650.9,820.7Z" fill="none" stroke="#ff4545" stroke-width="1.5"/>
<path d="M679.3,781.9C678.9,782.8 674.7,784.1 672.4,785C670,786 667.7,787.1 665.1,787.6C662.5,788 660.3,787.4 656.8,787.5C653.4,787.7 646.4,788.9 644.4,788.6C642.3,788.2 643,786.4 644.4,785.3C645.7,784.2 649.2,782.5 652.5,781.8C655.7,781.1 660.2,781.3 663.8,781C667.5,780.7 671.7,779.8 674.2,780C676.8,780.1 679.6,781.1 679.3,781.9Z" fill="none" stroke="#ff4545" stroke-width="1.5"/>
<path d="M1076.8,462.5C1075.4,462.2 1074.6,461.8 1073,460.9C1071.4,460 1069.6,459.1 1067.2,456.9C1064.8,454.8 1060.2,450.2 1058.6,447.9C1057.1,445.5 1057.9,444.4 1057.8,443.1C1057.7,441.8 1056.9,439.5 1058,439.9C1059.2,440.2 1062.3,442.9 1064.9,445C1067.4,447.1 1070.8,449.3 1073.5,452.3C1076.2,455.3 1080.5,461 1081,462.7C1081.6,464.4 1078.1,462.8 1076.8,462.5Z" fill="none" stroke="#ff4545" stroke-width="1.5"/>
<path d="M1111.7,459.9C1111.2,461.1 1110,461.7 1108.8,462.5C1107.6,463.3 1105.7,465.1 1104.5,464.9C1103.3,464.6 1102.4,462.2 1101.5,461C1100.7,459.8 1099.3,458.8 1099.3,457.6C1099.3,456.4 1100.4,454.9 1101.6,454C1102.9,453.1 1105.2,452 1106.9,452.2C1108.5,452.5 1110.7,454.3 1111.5,455.6C1112.3,456.9 1112.1,458.8 1111.7,459.9Z" fill="none" stroke="#ff4545" stroke-width="1.5"/>
<path d="M1102.2,413.9C1102.7,414.9 1099.7,417.5 1097.3,418.5C1094.8,419.5 1090.5,419.6 1087.5,420C1084.5,420.3 1080.9,421 1079.3,420.5C1077.7,420.1 1076.8,418.3 1078,417.3C1079.2,416.3 1083.6,415.3 1086.4,414.5C1089.2,413.7 1092,412.6 1094.6,412.6C1097.3,412.5 1101.8,412.9 1102.2,413.9Z" fill="#ff3300" stroke="#ff4545" stroke-width="1.5"/>
<path d="M1058.8,408.1C1058.6,408.8 1057.1,409.2 1055,409C1052.8,408.8 1048.6,407.9 1045.8,406.9C1043,405.9 1039.7,404.2 1038.1,403.1C1036.4,402 1036.1,401.2 1035.9,400.4C1035.8,399.6 1035.2,398.2 1037.2,398.2C1039.2,398.3 1044.8,399.3 1048,400.4C1051.2,401.6 1054.6,403.8 1056.5,405.1C1058.3,406.4 1059.1,407.5 1058.8,408.1Z" fill="#ff3300" stroke="#ff4545" stroke-width="1.5"/>
<path d="M1039.3,402.6C1039.9,403.8 1039.7,405.9 1037.5,407.1C1035.3,408.4 1029.8,410.1 1026.1,410.2C1022.4,410.4 1017.6,408.9 1015.3,407.9C1013,406.8 1012,405.1 1012.3,403.9C1012.6,402.6 1015,401.3 1017.2,400.4C1019.4,399.5 1022.8,398.6 1025.6,398.4C1028.3,398.3 1031.5,399 1033.8,399.7C1036.1,400.4 1038.7,401.3 1039.3,402.6Z" fill="#ff3300" stroke="#ff4545" stroke-width="1.5"/>
<path d="M1047.8,413.1C1047.5,414 1045.4,414.3 1044.1,414.2C1042.7,414.1 1040.8,413.2 1039.7,412.4C1038.6,411.6 1037.8,410.3 1037.3,409.3C1036.7,408.3 1036.5,407.6 1036.3,406.6C1036.1,405.5 1035.4,403.6 1036.1,403.2C1036.8,402.8 1039,403.8 1040.4,404.2C1041.8,404.6 1043.5,404.8 1044.5,405.6C1045.4,406.4 1045.6,407.8 1046.2,409.1C1046.7,410.3 1048.2,412.3 1047.8,413.1Z" fill="#ff3300" stroke="#ff4545" stroke-width="1.5"/>
<path d="M1085.2,458C1085.1,459.1 1081.8,460 1079.8,459.8C1077.9,459.6 1075.2,457.9 1073.5,456.9C1071.9,455.8 1070.2,454.3 1069.9,453.3C1069.5,452.3 1070.5,451.1 1071.6,450.6C1072.6,450.1 1074.8,449.6 1076.3,450.1C1077.7,450.5 1078.9,452 1080.4,453.3C1081.9,454.6 1085.3,456.9 1085.2,458Z" fill="none" stroke="#ff4545" stroke-width="1.5"/>
<path d="M1090.5,422.3C1090.2,423.1 1086.5,423 1083.5,423.1C1080.5,423.2 1076.5,423.7 1072.6,422.9C1068.8,422 1062.5,419.3 1060.4,417.9C1058.2,416.5 1059.2,415.3 1059.9,414.5C1060.5,413.7 1061.7,413.1 1064.2,413C1066.7,413 1071.2,413.2 1074.8,414.1C1078.4,414.9 1083.1,416.8 1085.7,418.2C1088.3,419.5 1090.9,421.4 1090.5,422.3Z" fill="none" stroke="#ff4545" stroke-width="1.5"/>
<g fill="none" stroke="#ff4a42" stroke-width="1">
<path d="M935,255C935.8,257.5 936.7,264.6 940,270C943.3,275.4 949.2,282.5 955,287.5C960.8,292.5 967.5,297.1 975,300C982.5,302.9 995.8,304.2 1000,305"/>
<path d="M875,292.5C876.7,294.6 881.7,300.8 885,305C888.3,309.2 891.7,313.3 895,317.5C898.3,321.7 903.3,327.9 905,330"/>
<path d="M1020,230C1021.7,233.3 1025,244.2 1030,250C1035,255.8 1043.3,262.9 1050,265C1056.7,267.1 1064.2,264.2 1070,262.5C1075.8,260.8 1080,255.4 1085,255C1090,254.6 1098.3,256.7 1100,260C1101.7,263.3 1097.5,271.7 1095,275C1092.5,278.3 1086.7,279.2 1085,280"/>
<path d="M932.5,255C934.6,257.5 938.8,265.8 945,270C951.2,274.2 961.7,275.8 970,280C978.3,284.2 986.7,290.8 995,295C1003.3,299.2 1012.5,300.8 1020,305C1027.5,309.2 1036.7,317.5 1040,320"/>
<path d="M960,112.5C961.7,111.7 965,106.7 970,107.5C975,108.3 984.6,113.8 990,117.5C995.4,121.2 997.5,125.4 1002.5,130C1007.5,134.6 1013.8,141.2 1020,145C1026.2,148.8 1031.7,151.2 1040,152.5C1048.3,153.8 1060.8,152.5 1070,152.5C1079.2,152.5 1090,150.4 1095,152.5C1100,154.6 1100,161.2 1100,165C1100,168.8 1093.8,173.3 1095,175C1096.2,176.7 1102.1,177.1 1107.5,175C1112.9,172.9 1123.3,167.9 1127.5,162.5C1131.7,157.1 1131.2,148.8 1132.5,142.5C1133.8,136.2 1135.4,130 1135,125C1134.6,120 1130.8,114.6 1130,112.5"/>
<path d="M920,125C922.5,125.8 929.2,126.7 935,130C940.8,133.3 949.2,140.8 955,145C960.8,149.2 965.4,152.1 970,155C974.6,157.9 980.4,161.2 982.5,162.5"/>
<path d="M125,662C127.5,662.4 134.2,662.8 140,664.5C145.8,666.2 156.7,672.8 160,672C163.3,671.2 157.5,661.2 160,659.5C162.5,657.8 170,660.8 175,662C180,663.2 185,664.5 190,667C195,669.5 200,673.7 205,677C210,680.3 215.8,686.6 220,687C224.2,687.4 226.7,682.4 230,679.5C233.3,676.6 236.2,673.2 240,669.5C243.8,665.8 249.2,658.2 252.5,657C255.8,655.8 255.4,659.9 260,662C264.6,664.1 273.3,667.8 280,669.5C286.7,671.2 293.3,671.2 300,672C306.7,672.8 313.3,672.8 320,674.5C326.7,676.2 333.3,679.9 340,682C346.7,684.1 356.7,686.2 360,687"/>
<path d="M130,752C132.5,750.3 140,742 145,742C150,742 155,747.8 160,752C165,756.2 170,763.7 175,767C180,770.3 183.3,771.6 190,772C196.7,772.4 206.7,769.1 215,769.5C223.3,769.9 233.3,773.2 240,774.5C246.7,775.8 250,777.4 255,777C260,776.6 266.7,771.2 270,772C273.3,772.8 272.5,781.2 275,782C277.5,782.8 284.6,782 285,777C285.4,772 279.6,759.5 277.5,752C275.4,744.5 272.1,738.2 272.5,732C272.9,725.8 277.5,716.2 280,714.5C282.5,712.8 285,718.2 287.5,722C290,725.8 292.1,732.8 295,737C297.9,741.2 304.2,747.8 305,747C305.8,746.2 299.2,735.3 300,732C300.8,728.7 305.8,726.2 310,727C314.2,727.8 321.2,732.8 325,737C328.8,741.2 330.8,747 332.5,752C334.2,757 335.8,762.8 335,767C334.2,771.2 327.5,772.8 327.5,777C327.5,781.2 332.1,788.2 335,792C337.9,795.8 343.3,798.2 345,799.5"/>
<path d="M135,833C137.5,832.6 144.2,829.7 150,830.5C155.8,831.3 164.6,836.3 170,838C175.4,839.7 179.6,838.4 182.5,840.5C185.4,842.6 184.2,847.2 187.5,850.5C190.8,853.8 197.1,858 202.5,860.5C207.9,863 213.8,864.2 220,865.5C226.2,866.8 234.6,865.9 240,868C245.4,870.1 248.3,874.2 252.5,878C256.7,881.8 262.9,885.9 265,890.5C267.1,895.1 267.1,901.8 265,905.5C262.9,909.2 257.1,910.5 252.5,913C247.9,915.5 241.7,918.4 237.5,920.5C233.3,922.6 227.5,923.8 227.5,925.5C227.5,927.2 235.8,929.7 237.5,930.5"/>
<path d="M290,918C294.2,917.6 308.3,918 315,915.5C321.7,913 325,905.9 330,903C335,900.1 340,899.7 345,898C350,896.3 357.5,893.8 360,893"/>
<path d="M360,634.5C363.3,634.9 373.3,635.3 380,637C386.7,638.7 392.5,644.1 400,644.5C407.5,644.9 419.2,641.2 425,639.5C430.8,637.8 432.5,633.2 435,634.5C437.5,635.8 435.8,644.1 440,647C444.2,649.9 453.3,649.9 460,652C466.7,654.1 475.8,656.2 480,659.5C484.2,662.8 481.7,668.7 485,672C488.3,675.3 494.2,679.1 500,679.5C505.8,679.9 514.2,677 520,674.5C525.8,672 532.5,666.2 535,664.5"/>
<path d="M360,699.5C364.2,699.9 376.7,700.3 385,702C393.3,703.7 401.7,707.4 410,709.5C418.3,711.6 426.7,712.4 435,714.5C443.3,716.6 451.7,721.2 460,722C468.3,722.8 476.7,720.3 485,719.5C493.3,718.7 501.7,717 510,717C518.3,717 527.5,717 535,719.5C542.5,722 548.3,728.2 555,732C561.7,735.8 568.3,739.9 575,742C581.7,744.1 589.2,745.3 595,744.5C600.8,743.7 604.2,737.8 610,737C615.8,736.2 626.7,739.1 630,739.5"/>
<path d="M360,787C362.5,786.6 370,782 375,784.5C380,787 385,797.4 390,802C395,806.6 400.4,810.8 405,812C409.6,813.2 415,812 417.5,809.5C420,807 417.1,800.8 420,797C422.9,793.2 428.3,789.5 435,787C441.7,784.5 451.7,783.7 460,782C468.3,780.3 476.7,778.7 485,777C493.3,775.3 501.7,773.2 510,772C518.3,770.8 527.5,769.1 535,769.5C542.5,769.9 549.2,771.6 555,774.5C560.8,777.4 567.5,784.9 570,787"/>
<path d="M410,162.5C412.5,160.4 419.2,153.3 425,150C430.8,146.7 440,144.2 445,142.5C450,140.8 453.3,140.4 455,140"/>
<path d="M395,192.5C398.3,191.2 408.3,187.1 415,185C421.7,182.9 427.5,181.7 435,180C442.5,178.3 454.2,177.5 460,175C465.8,172.5 465.8,168.3 470,165C474.2,161.7 481.7,159.6 485,155C488.3,150.4 489.2,140.4 490,137.5"/>
<path d="M462.5,175C463.8,172.9 467.5,167.9 470,167.5C472.5,167.1 476.7,169.6 477.5,172.5C478.3,175.4 476.7,182.1 475,185C473.3,187.9 469.6,190.8 467.5,190C465.4,189.2 463.3,182.5 462.5,180C461.7,177.5 461.2,177.1 462.5,175Z"/>
<path d="M470,197.5C471.7,195.8 475.8,194.6 480,192.5C484.2,190.4 491.2,187.1 495,185C498.8,182.9 501.7,178.8 502.5,180C503.3,181.2 501.2,188.8 500,192.5C498.8,196.2 498.3,200.4 495,202.5C491.7,204.6 484.2,205 480,205C475.8,205 471.7,203.8 470,202.5C468.3,201.2 468.3,199.2 470,197.5Z"/>
<path d="M565,152.5C568.3,152.1 579.2,153.8 585,150C590.8,146.2 595.8,133.8 600,130C604.2,126.2 608.3,127.9 610,127.5"/>
<path d="M360,255C362.5,255.8 370,260.4 375,260C380,259.6 384.2,253.3 390,252.5C395.8,251.7 402.5,252.9 410,255C417.5,257.1 430.8,263.3 435,265"/>
<path d="M284,316C284.6,319.8 286.9,331.2 287.5,339C288.1,346.8 288.1,356 287.5,362.5C286.9,369 284,372.8 284,378C284,383.2 285.3,390.3 287.5,394C289.7,397.7 294.4,398 297,400C299.6,402 303,403.9 303,406C303,408.1 297.5,410.3 297,412.5C296.5,414.7 298,417.2 300,419C302,420.8 305.8,421.2 309,423.5C312.2,425.8 316.3,430.4 319,433C321.7,435.6 321.4,437.5 325,439C328.6,440.5 337.3,442.5 340.6,442C343.9,441.5 342.4,437.8 345,436C347.6,434.2 352.6,432.8 356,431C359.4,429.2 362.2,426.2 365.6,425C369,423.8 373,423.5 376.6,423.5C380.2,423.5 383.6,424.5 387.5,425C391.4,425.5 397.9,426.2 400,426.5"/>
<path d="M300,365.6C301.2,363.8 305.8,360.9 309,362.5C312.2,364.1 317.2,371.4 319,375C320.8,378.6 320.6,381.9 320,384C319.4,386.1 317.6,388 315.6,387.5C313.6,387 310.4,383.3 308,381C305.6,378.7 302.8,376.1 301.5,373.5C300.2,370.9 298.8,367.4 300,365.6Z"/>
<path d="M315.6,409C315.3,406.4 318.4,399.5 320,397C321.6,394.5 324.2,392.5 325,394C325.8,395.5 325.5,402.9 325,406C324.5,409.1 323.6,412 322,412.5C320.4,413 315.9,411.6 315.6,409Z"/>
<path d="M300,300C301,302.6 304.5,311.2 306,315.6C307.5,320 307.9,326.5 309,326.5C310.1,326.5 311.4,320 312.5,315.6C313.6,311.2 315.1,302.6 315.6,300"/>
<path d="M248.4,300C249.2,303.2 251.4,312.5 253,319C254.6,325.5 256.4,332.3 258,339C259.6,345.7 261.5,352.5 262.5,359C263.5,365.5 263.5,372.2 264,378C264.5,383.8 264.8,389.3 265.6,394C266.4,398.7 268.4,404 269,406"/>
<path d="M200,336C201.5,338.6 205.7,346.6 209,351.5C212.3,356.4 216.3,360.7 220,365.6C223.7,370.5 227.6,375.8 231,381C234.4,386.2 237.7,391.8 240.6,397C243.5,402.2 245.8,407.8 248.4,412.5C251,417.2 253.1,420.8 256,425C258.9,429.2 261.9,433.3 265.6,437.5C269.3,441.7 275.9,447.9 278,450"/>
<path d="M210,230C211,232.6 215.2,240.4 216,245.6C216.8,250.8 216,255.8 214.7,261C213.4,266.2 209.7,273.6 208.4,277C207.1,280.4 206.2,278.9 207,281.5C207.8,284.1 212,290.7 213,292.5"/>
<path d="M189.7,286C190.8,287.2 192.6,294.8 194.4,300C196.2,305.2 198.8,312.2 200.6,317.5C202.4,322.8 204,326.8 205.3,331.5C206.6,336.2 208.1,342 208.4,345.6C208.7,349.2 207.5,354.5 207,353.4C206.5,352.3 206.6,343.9 205.3,339C204,334.1 201.1,328.9 199,323.8C196.9,318.6 194.6,313.2 192.8,308C191,302.8 188.5,296.2 188,292.5C187.5,288.8 188.6,284.8 189.7,286Z"/>
<path d="M255,245.6C253.8,249.5 249.8,262.5 247.5,269C245.2,275.5 241,279.5 241,284.7C241,289.9 245.7,294.5 247.5,300C249.3,305.5 250.8,312.5 252,317.5C253.2,322.5 254.5,327.9 255,330"/>
<path d="M127,230C126.8,233.9 125.6,245.6 125.6,253.4C125.6,261.2 126.5,270.5 127,277C127.5,283.5 128.8,286 128.8,292.5C128.8,299 127,308.2 127,316C127,323.8 127.9,332.5 128.8,339C129.6,345.5 131,349.7 132,355C133,360.3 134.5,368 135,370.6"/>
<path d="M742.5,336C745.8,339.3 756.2,348.5 762.5,356C768.8,363.5 775,373.1 780,381C785,388.9 789.2,396.4 792.5,403.5C795.8,410.6 797.1,416.8 800,423.5C802.9,430.2 807.5,437.2 810,443.5C812.5,449.8 814.2,458.1 815,461"/>
<path d="M717.5,406C719.6,403.5 731.2,406.8 735,411C738.8,415.2 738.3,423.9 740,431C741.7,438.1 745,448.5 745,453.5C745,458.5 742.5,462.2 740,461C737.5,459.8 732.9,451.8 730,446C727.1,440.2 724.6,432.7 722.5,426C720.4,419.3 715.4,408.5 717.5,406Z"/>
<path d="M717.5,466C719.6,464.8 728.8,466.4 732.5,468.5C736.2,470.6 739.6,475.2 740,478.5C740.4,481.8 737.1,485.2 735,488.5C732.9,491.8 727.9,494.8 727.5,498.5C727.1,502.2 732.9,508.5 732.5,511C732.1,513.5 727.9,514.3 725,513.5C722.1,512.7 715.4,510.6 715,506C714.6,501.4 721.7,491 722.5,486C723.3,481 720.8,479.3 720,476C719.2,472.7 715.4,467.2 717.5,466Z"/>
<path d="M912.5,441C913.8,444.3 917.1,454.3 920,461C922.9,467.7 927.1,475.2 930,481C932.9,486.8 935.8,490.2 937.5,496C939.2,501.8 940.4,509.3 940,516C939.6,522.7 938.3,531.4 935,536C931.7,540.6 923.8,540.6 920,543.5C916.2,546.4 913.8,551.8 912.5,553.5"/>
<path d="M410,336C410.4,339.3 410.4,348.5 412.5,356C414.6,363.5 419.2,373.9 422.5,381C425.8,388.1 430.4,393.9 432.5,398.5C434.6,403.1 436.7,407.7 435,408.5C433.3,409.3 425.8,401.8 422.5,403.5C419.2,405.2 414.6,415.2 415,418.5C415.4,421.8 423.3,422.7 425,423.5"/>
<path d="M457.5,443.5C458.8,441.4 462.5,435.6 465,431C467.5,426.4 469.2,421 472.5,416C475.8,411 480.4,403.1 485,401C489.6,398.9 495,400.6 500,403.5C505,406.4 510.4,413.1 515,418.5C519.6,423.9 525,430.6 527.5,436C530,441.4 531.2,446 530,451C528.8,456 522.9,460.2 520,466C517.1,471.8 512.5,480.6 512.5,486C512.5,491.4 518.8,496.4 520,498.5"/>
<path d="M515,343.5C517.5,345.2 525,349.8 530,353.5C535,357.2 541.7,360.6 545,366C548.3,371.4 547.5,380.2 550,386C552.5,391.8 558.3,395.6 560,401C561.7,406.4 558.8,412.2 560,418.5C561.2,424.8 564.2,433.5 567.5,438.5C570.8,443.5 575.4,446.4 580,448.5C584.6,450.6 590.4,453.1 595,451C599.6,448.9 602.5,440.6 607.5,436C612.5,431.4 619.2,425.6 625,423.5C630.8,421.4 639.6,423.5 642.5,423.5"/>
<path d="M532.5,511C535.4,512.7 544.6,517.2 550,521C555.4,524.8 560.8,530.2 565,533.5C569.2,536.8 571.7,541 575,541C578.3,541 580.8,532.2 585,533.5C589.2,534.8 599.2,543.9 600,548.5C600.8,553.1 591.7,558.9 590,561"/>
<path d="M652.5,491C654.2,492.7 660,496 662.5,501C665,506 665.4,515.6 667.5,521C669.6,526.4 673.8,531.4 675,533.5"/>
</g>
<g fill="none" stroke="#b9c6cc" stroke-width="0.9" stroke-dasharray="2 11" opacity="0.55">
<path d="M130,600 Q400,690 640,700 T1217,640"/>
<path d="M135,800 Q400,905 640,933"/>
<path d="M118,380 Q400,470 640,470 T1200,400"/>
<path d="M118,200 Q400,270 640,260 T1170,190"/>
<path d="M640,125 L640,933"/>
<path d="M300,142 Q390,500 270,933"/>
<path d="M930,91 Q900,500 1010,900"/>
<path d="M480,138 Q520,500 470,933"/>
<path d="M790,105 Q770,500 830,915"/>
</g>
</g>
<g>
<path d="M1201,178.3 L1209,157 L1217,178.3 Z" fill="#f0008c"/>
<rect x="1201" y="178.3" width="16" height="22.2" fill="#a00000" stroke="#000" stroke-width="1"/>
<rect x="1201" y="200.5" width="16" height="22.2" fill="#c00000" stroke="#000" stroke-width="1"/>
<rect x="1201" y="222.6" width="16" height="22.2" fill="#e01400" stroke="#000" stroke-width="1"/>
<rect x="1201" y="244.8" width="16" height="22.2" fill="#ff3300" stroke="#000" stroke-width="1"/>
<rect x="1201" y="267" width="16" height="22.2" fill="#ff6600" stroke="#000" stroke-width="1"/>
<rect x="1201" y="289.2" width="16" height="22.2" fill="#ffc03c" stroke="#000" stroke-width="1"/>
<rect x="1201" y="311.3" width="16" height="22.2" fill="#ffe87a" stroke="#000" stroke-width="1"/>
<rect x="1201" y="333.5" width="16" height="22.2" fill="#fffaaa" stroke="#000" stroke-width="1"/>
<rect x="1201" y="355.7" width="16" height="22.2" fill="#c8ffc8" stroke="#000" stroke-width="1"/>
<rect x="1201" y="377.8" width="16" height="22.2" fill="#78f078" stroke="#000" stroke-width="1"/>
<rect x="1201" y="400" width="16" height="22.2" fill="#3cd23c" stroke="#000" stroke-width="1"/>
<rect x="1201" y="422.2" width="16" height="22.2" fill="#14a014" stroke="#000" stroke-width="1"/>
<rect x="1201" y="444.3" width="16" height="22.2" fill="#b4f0fa" stroke="#000" stroke-width="1"/>
<rect x="1201" y="466.5" width="16" height="22.2" fill="#96d2fa" stroke="#000" stroke-width="1"/>
<rect x="1201" y="488.7" width="16" height="22.2" fill="#50a5f5" stroke="#000" stroke-width="1"/>
<rect x="1201" y="510.9" width="16" height="22.2" fill="#2882f0" stroke="#000" stroke-width="1"/>
<rect x="1201" y="533" width="16" height="22.2" fill="#1464d2" stroke="#000" stroke-width="1"/>
<rect x="1201" y="555.2" width="16" height="22.2" fill="#8070f0" stroke="#000" stroke-width="1"/>
<rect x="1201" y="577.4" width="16" height="22.2" fill="#6450dc" stroke="#000" stroke-width="1"/>
<rect x="1201" y="599.5" width="16" height="22.2" fill="#4632c8" stroke="#000" stroke-width="1"/>
<rect x="1201" y="621.7" width="16" height="22.2" fill="#3020b0" stroke="#000" stroke-width="1"/>
<rect x="1201" y="643.9" width="16" height="22.2" fill="#2810a0" stroke="#000" stroke-width="1"/>
<path d="M1201,666 L1209,686 L1217,666 Z" fill="#a000d2"/>
</g>
<rect x="119" y="192.5" width="24" height="21" fill="#fff"/>
<text class="lab" x="131" y="210" textLength="20.5" lengthAdjust="spacingAndGlyphs">12</text>
<rect x="324.5" y="213.5" width="13" height="21" fill="#fff"/>
<text class="lab" x="331" y="231" textLength="9.5" lengthAdjust="spacingAndGlyphs">4</text>
<rect x="407.5" y="261.5" width="13" height="21" fill="#fff"/>
<text class="lab" x="414" y="279" textLength="9.5" lengthAdjust="spacingAndGlyphs">0</text>
<rect x="491.5" y="251.5" width="13" height="21" fill="#fff"/>
<text class="lab" x="498" y="269" textLength="9.5" lengthAdjust="spacingAndGlyphs">4</text>
<rect x="682.5" y="215.5" width="13" height="21" fill="#fff"/>
<text class="lab" x="689" y="233" textLength="9.5" lengthAdjust="spacingAndGlyphs">8</text>
<rect x="782" y="214.5" width="24" height="21" fill="#fff"/>
<text class="lab" x="794" y="232" textLength="20.5" lengthAdjust="spacingAndGlyphs">12</text>
<rect x="902" y="151.5" width="24" height="21" fill="#fff"/>
<text class="lab" x="914" y="169" textLength="20.5" lengthAdjust="spacingAndGlyphs">12</text>
<rect x="1048.5" y="124.5" width="13" height="21" fill="#fff"/>
<text class="lab" x="1055" y="142" textLength="9.5" lengthAdjust="spacingAndGlyphs">4</text>
<rect x="1010.5" y="171.5" width="13" height="21" fill="#fff"/>
<text class="lab" x="1017" y="189" textLength="9.5" lengthAdjust="spacingAndGlyphs">8</text>
<rect x="1097.5" y="230.5" width="13" height="21" fill="#fff"/>
<text class="lab" x="1104" y="248" textLength="9.5" lengthAdjust="spacingAndGlyphs">8</text>
<rect x="1059" y="290.5" width="24" height="21" fill="#fff"/>
<text class="lab" x="1071" y="308" textLength="20.5" lengthAdjust="spacingAndGlyphs">12</text>
<rect x="478.5" y="314.5" width="13" height="21" fill="#fff"/>
<text class="lab" x="485" y="332" textLength="9.5" lengthAdjust="spacingAndGlyphs">4</text>
<rect x="560.5" y="316.5" width="13" height="21" fill="#fff"/>
<text class="lab" x="567" y="334" textLength="9.5" lengthAdjust="spacingAndGlyphs">8</text>
<rect x="1065" y="382.5" width="24" height="21" fill="#fff"/>
<text class="lab" x="1077" y="400" textLength="20.5" lengthAdjust="spacingAndGlyphs">16</text>
<rect x="378.5" y="441.5" width="13" height="21" fill="#fff"/>
<text class="lab" x="385" y="459" textLength="9.5" lengthAdjust="spacingAndGlyphs">4</text>
<rect x="623.5" y="427.5" width="13" height="21" fill="#fff"/>
<text class="lab" x="630" y="445" textLength="9.5" lengthAdjust="spacingAndGlyphs">4</text>
<rect x="867" y="408.5" width="24" height="21" fill="#fff"/>
<text class="lab" x="879" y="426" textLength="20.5" lengthAdjust="spacingAndGlyphs">12</text>
<rect x="838" y="462.5" width="24" height="21" fill="#fff"/>
<text class="lab" x="850" y="480" textLength="20.5" lengthAdjust="spacingAndGlyphs">12</text>
<rect x="1092" y="450.5" width="24" height="21" fill="#fff"/>
<text class="lab" x="1104" y="468" textLength="20.5" lengthAdjust="spacingAndGlyphs">16</text>
<rect x="1178" y="482.5" width="24" height="21" fill="#fff"/>
<text class="lab" x="1190" y="500" textLength="20.5" lengthAdjust="spacingAndGlyphs">20</text>
<rect x="998" y="485.5" width="24" height="21" fill="#fff"/>
<text class="lab" x="1010" y="503" textLength="20.5" lengthAdjust="spacingAndGlyphs">16</text>
<rect x="1019" y="498.5" width="24" height="21" fill="#fff"/>
<text class="lab" x="1031" y="516" textLength="20.5" lengthAdjust="spacingAndGlyphs">16</text>
<rect x="944" y="505.5" width="24" height="21" fill="#fff"/>
<text class="lab" x="956" y="523" textLength="20.5" lengthAdjust="spacingAndGlyphs">16</text>
<rect x="774.5" y="524.5" width="13" height="21" fill="#fff"/>
<text class="lab" x="781" y="542" textLength="9.5" lengthAdjust="spacingAndGlyphs">8</text>
<rect x="380.5" y="535.5" width="13" height="21" fill="#fff"/>
<text class="lab" x="387" y="553" textLength="9.5" lengthAdjust="spacingAndGlyphs">8</text>
<rect x="151" y="554.5" width="24" height="21" fill="#fff"/>
<text class="lab" x="163" y="572" textLength="20.5" lengthAdjust="spacingAndGlyphs">12</text>
<rect x="1147" y="553.5" width="24" height="21" fill="#fff"/>
<text class="lab" x="1159" y="571" textLength="20.5" lengthAdjust="spacingAndGlyphs">16</text>
<rect x="1142" y="581.5" width="24" height="21" fill="#fff"/>
<text class="lab" x="1154" y="599" textLength="20.5" lengthAdjust="spacingAndGlyphs">16</text>
<rect x="263" y="607.5" width="24" height="21" fill="#fff"/>
<text class="lab" x="275" y="625" textLength="20.5" lengthAdjust="spacingAndGlyphs">12</text>
<rect x="483.5" y="620.5" width="13" height="21" fill="#fff"/>
<text class="lab" x="490" y="638" textLength="9.5" lengthAdjust="spacingAndGlyphs">8</text>
<rect x="644.5" y="610.5" width="13" height="21" fill="#fff"/>
<text class="lab" x="651" y="628" textLength="9.5" lengthAdjust="spacingAndGlyphs">8</text>
<rect x="783" y="630.5" width="24" height="21" fill="#fff"/>
<text class="lab" x="795" y="648" textLength="20.5" lengthAdjust="spacingAndGlyphs">12</text>
<rect x="879" y="626.5" width="24" height="21" fill="#fff"/>
<text class="lab" x="891" y="644" textLength="20.5" lengthAdjust="spacingAndGlyphs">16</text>
<rect x="832" y="656.5" width="24" height="21" fill="#fff"/>
<text class="lab" x="844" y="674" textLength="20.5" lengthAdjust="spacingAndGlyphs">16</text>
<rect x="1084" y="628.5" width="24" height="21" fill="#fff"/>
<text class="lab" x="1096" y="646" textLength="20.5" lengthAdjust="spacingAndGlyphs">20</text>
<rect x="539" y="678.5" width="24" height="21" fill="#fff"/>
<text class="lab" x="551" y="696" textLength="20.5" lengthAdjust="spacingAndGlyphs">12</text>
<rect x="685" y="687.5" width="24" height="21" fill="#fff"/>
<text class="lab" x="697" y="705" textLength="20.5" lengthAdjust="spacingAndGlyphs">16</text>
<rect x="877" y="684.5" width="24" height="21" fill="#fff"/>
<text class="lab" x="889" y="702" textLength="20.5" lengthAdjust="spacingAndGlyphs">20</text>
<rect x="738" y="705.5" width="24" height="21" fill="#fff"/>
<text class="lab" x="750" y="723" textLength="20.5" lengthAdjust="spacingAndGlyphs">20</text>
<rect x="729" y="718.5" width="24" height="21" fill="#fff"/>
<text class="lab" x="741" y="736" textLength="20.5" lengthAdjust="spacingAndGlyphs">24</text>
<rect x="848" y="710.5" width="24" height="21" fill="#fff"/>
<text class="lab" x="860" y="728" textLength="20.5" lengthAdjust="spacingAndGlyphs">24</text>
<rect x="988" y="703.5" width="24" height="21" fill="#fff"/>
<text class="lab" x="1000" y="721" textLength="20.5" lengthAdjust="spacingAndGlyphs">24</text>
<rect x="839" y="730.5" width="24" height="21" fill="#fff"/>
<text class="lab" x="851" y="748" textLength="20.5" lengthAdjust="spacingAndGlyphs">24</text>
<rect x="220" y="744.5" width="24" height="21" fill="#fff"/>
<text class="lab" x="232" y="762" textLength="20.5" lengthAdjust="spacingAndGlyphs">16</text>
<rect x="457" y="741.5" width="24" height="21" fill="#fff"/>
<text class="lab" x="469" y="759" textLength="20.5" lengthAdjust="spacingAndGlyphs">16</text>
<rect x="648" y="752.5" width="24" height="21" fill="#fff"/>
<text class="lab" x="660" y="770" textLength="20.5" lengthAdjust="spacingAndGlyphs">20</text>
<rect x="725" y="786.5" width="24" height="21" fill="#fff"/>
<text class="lab" x="737" y="804" textLength="20.5" lengthAdjust="spacingAndGlyphs">24</text>
<rect x="1132" y="780.5" width="24" height="21" fill="#fff"/>
<text class="lab" x="1144" y="798" textLength="20.5" lengthAdjust="spacingAndGlyphs">24</text>
<rect x="272" y="809.5" width="24" height="21" fill="#fff"/>
<text class="lab" x="284" y="827" textLength="20.5" lengthAdjust="spacingAndGlyphs">20</text>
<rect x="771" y="812.5" width="24" height="21" fill="#fff"/>
<text class="lab" x="783" y="830" textLength="20.5" lengthAdjust="spacingAndGlyphs">28</text>
<rect x="820" y="814.5" width="24" height="21" fill="#fff"/>
<text class="lab" x="832" y="832" textLength="20.5" lengthAdjust="spacingAndGlyphs">28</text>
<rect x="869" y="811.5" width="24" height="21" fill="#fff"/>
<text class="lab" x="881" y="829" textLength="20.5" lengthAdjust="spacingAndGlyphs">28</text>
<rect x="924" y="817.5" width="24" height="21" fill="#fff"/>
<text class="lab" x="936" y="835" textLength="20.5" lengthAdjust="spacingAndGlyphs">28</text>
<rect x="491" y="822.5" width="24" height="21" fill="#fff"/>
<text class="lab" x="503" y="840" textLength="20.5" lengthAdjust="spacingAndGlyphs">20</text>
<rect x="569" y="838.5" width="24" height="21" fill="#fff"/>
<text class="lab" x="581" y="856" textLength="20.5" lengthAdjust="spacingAndGlyphs">24</text>
<rect x="1096" y="845.5" width="24" height="21" fill="#fff"/>
<text class="lab" x="1108" y="863" textLength="20.5" lengthAdjust="spacingAndGlyphs">28</text>
<rect x="525" y="868.5" width="24" height="21" fill="#fff"/>
<text class="lab" x="537" y="886" textLength="20.5" lengthAdjust="spacingAndGlyphs">24</text>
<rect x="736" y="898.5" width="24" height="21" fill="#fff"/>
<text class="lab" x="748" y="916" textLength="20.5" lengthAdjust="spacingAndGlyphs">28</text>
<rect x="608" y="912.5" width="24" height="21" fill="#fff"/>
<text class="lab" x="620" y="930" textLength="20.5" lengthAdjust="spacingAndGlyphs">20</text>
<rect x="325" y="925.5" width="24" height="21" fill="#fff"/>
<text class="lab" x="337" y="943" textLength="20.5" lengthAdjust="spacingAndGlyphs">24</text>
<g fill="none" stroke="#000" stroke-width="1.15" stroke-linejoin="round">
<path d="M83.5,158L88.1,159.4L93.1,158.2L97.8,158.9L102.2,161.2L107,161.5L111.6,162.6L116.2,162.3L120.8,162.4L125.4,162.1L130,163L134.5,163.7L138.7,161.6L143.2,162L147.6,161.5L152,161.5L154.1,156.8L156,152.1L157,147L157.1,142.8L158.4,138.8L160,135L164.3,134.7L168.5,134.1L172.5,132.5L172.7,127.8L175.9,123.8L175.5,119L180,114.5L184,113.5L186.7,109.9L190.5,108.5L194.5,107.5L197.9,105.2L200.5,102L203.3,98.5L207.4,96.2L210,92.5L212.3,96.5L216.3,98.7L219.5,101.8L222.5,105L219.5,111.5L225.5,116L230,111.5"/>
<path d="M121,244L124.7,239.9L129,236.5L131.9,233.7L134.2,230.3L138,228.5L144.5,225.5"/>
<path d="M63,208L67.6,208.7L71.6,210.7L75.5,213L79.4,215.1L84.2,214.9L88,217.5L88.2,222.7L91,227L95.1,229.9L99,233L100,238.6L102,244"/>
<path d="M189.5,197.5L192.9,193.2L194.5,188L199.2,188.8L204,188"/>
<path d="M189.5,197.5L186.5,203.5L186.2,208.4L188,213L185.8,216.9L186.3,221.8L183.5,225.5L179.6,229.3L175.5,233L172.8,236.3L170.8,240L169.5,244"/>
<path d="M154,230L158,229.8L161.9,228.5L166,228.5L168.4,232.6L172.5,235L176.1,232.1L179,228.5L183.5,225.5"/>
<path d="M301,197.5L301.4,202.3L302.5,206.9L304,211.5L306.1,217L310.5,221L314.5,224L316.5,228.5L321,228.4L324.5,225.5L329,230L333.3,229.6L337.6,229.7L341.9,229.4L346.2,229.4L350.4,231.5L354.7,231.2L359,231L363.5,227L369.5,228.5L373.1,231.7L376.5,235.2L380.5,238L384.1,240.5L388.1,242.2L392.1,244L396,246L398.9,249.3L403.1,250.3L406.6,252.5L410,255L413.8,257.6L418.3,258.5L422.8,259.4L427.1,260.7L430.5,264.2L435,265L438.9,263.5L443,264.4L447,265.3L450.9,263L455,264L459.1,261L462.5,256.9L467.5,255L471.3,252.4L476.2,252.5L480,250L481.6,246L483.9,242.5L487.5,240L490.4,236.2L494.2,233.3L497.5,230"/>
<path d="M329,230L326.1,234.8L323,239.5L319.6,243.2L318,248L315,251.8L311.8,255.3L308.1,258.4L305,262L302.8,266.5L300.4,270.9L297.5,275"/>
<path d="M195,187.5L192.7,191.8L189.2,195.3L187.5,200L189.6,204.8L189,210L190,215L187.5,218.8L185.5,222.9L181.4,225.5L180,230L176,232.7L173.7,237L170,240L169.1,245L168.4,250L167.5,255L169,259.2L173.1,261.6L174.1,266.1L177.1,269.3L180,272.5L183.5,275L187.7,275.9L191.6,277.5L195,280L197.9,283.1L201.2,285.7L205.5,286.9L208.1,290.3L212,292L215,295L218.5,297.8L222.7,299.7L226.7,301.9L230,305L231.3,309.9L230.5,315.2L232.5,320L235.4,324.6L240,327.5L244.1,324.9L247.6,321.2L252.5,320L256.3,321.6L258.9,324.8L262.6,326.6L265,330L268.3,326.8L272.5,325L276.2,322L277.1,317.2L279.9,313.7L282.5,310L285.8,307.3L287.6,303.4L290,300L285.3,296.8L280,295L274.9,295.3L270,296.9L265,297.5L265.7,292.2L268.8,287.7L270,282.5L273.6,279.5L276,275.6L277.5,271.2L280,267.5L280.5,263.1L279.2,259.2L276.9,255.5L276.4,251.4L275,247.5L278.1,250.6L282,252.2L286.7,252.2L290,255L293.5,258.2L297.2,261.1L300,265L305,266L309.8,267.8L315,267.5L317.9,262.9L322.5,260L322.1,255.9L320,252.1L320.3,247.8L319.5,243.8L317.5,240L320.9,237.6L323.3,233.8L327.5,232.5"/>
<path d="M455,264L457.9,267.1L460.1,270.7L462,274.5L465,277.5L462.1,280.4L457.9,281.6L455.2,284.8L451.5,286.7L448,288.8L445.2,291.9L442.5,295L438,296.1L435.1,300.1L430.6,301.2L426.8,303.6L422.5,305L418.2,306.5L413.4,306.2L409.2,308L405,310L401.8,313.1L400.7,317.2L399.5,321.3L397.5,325L395.2,328.4L394.6,332.5L392.5,336L390.3,339.7L390,344.2L386.7,347.5L386.8,352.1L385,356L384.2,361.3L382.3,366.2L380,371L383.2,374.7L384.2,379.8L387.5,383.5L391.1,385.7L393.3,389.1L393.9,393.7L397.5,396L399.7,400.8L400.4,406.2L402.5,411L401.6,415L402.9,419.2L401.2,423L400.7,427L400,431L400,435.7L402.8,439.7L402.7,444.4L405,448.5L406.9,452.3L409.9,455.3L412.5,458.5L414.1,462.5L413.8,466.9L415,471L418.6,473.5L419.1,478.4L422.5,481L417.5,486L418.4,491L417.5,496L413.1,496.8L408.8,496.3L404.4,496.6L400,496L397.2,500.8L395,506L393.4,511L390.3,515.5L390,521L389.9,525.4L392.6,529.1L392.5,533.5L396.1,536.6L399.7,539.6L402.5,543.5L406.8,544.2L409.5,548.2L414.4,547.8L417.5,551L422,554L425,558.5L427,563.4L429.5,568.1L430,573.5L434.8,575.7L439.9,577L445,578.5L446.4,583.6L449.6,587.7L452.5,592"/>
<path d="M600,240L601.7,244.3L605.1,247.4L607.8,251.1L610,255L615.4,255.4L619.9,258.5L625,260L626.1,264L627.6,267.9L629.1,271.7L630.4,275.7L630,280L629.3,284.4L625.4,287.1L624.3,291.2L622.5,295L624.2,300L627.2,304.5L627.5,310L630.2,313.5L630.7,317.9L633.2,321.6L632.7,326.3L635,330L637.5,336L639.5,340.4L641.8,344.7L645,348.5L646.5,353.4L646.5,358.5L647.5,363.5L650.4,367.4L651.5,372.4L655,376L655.3,381.1L657.5,385.9L657.5,391L655.2,395.8L655.3,401.4L652.5,406L650.6,410.9L649.2,416L647.5,421"/>
<path d="M97.5,230L102,234.5L100.5,239.5L101.9,244.8L105.5,249L110,252L107,258L107.9,263.7L110,269L111.5,274L118,274L119.5,281.5L118,286"/>
<path d="M63,259.5L69.5,258L74,257L77,253.5L81.5,254.9L85,258L88,264.5L91.6,267.1L96,267.5L99.5,270.3L104,270.5L110,273"/>
<path d="M118,286L122.5,286.8L127,288L132,289.7L136.5,292.5L143,295.5L144.7,300.1L144.5,305L146,311L152,316L155.2,312.3L160,311L164.7,312.8L169.5,314.5L174,309.5L173.8,313.7L175.5,317.5L179.3,321L183.5,324L187.3,327.1L189.5,331.5L192.6,336.4L197.5,339.5L201.7,343.4L207,345.5L212.4,343.5L218,342.5L224,347L226.4,342.4L229,338L225.5,331.5L232,330L234.8,325.9L239.5,324L241,317.5L236.9,313.8L233.5,309.5L232,303.5L225.5,306.5L223,303.3L220.3,300.3L218,297L214,296.2L210,295.5L204.5,293.7L200.5,289.5L197.5,283L193.2,282.4L189.5,280L187.4,276.1L183.5,274L179.5,271.4L175.5,269L172.8,264.1L169.5,259.5L166,253.5L167.6,247.9L169.5,242.5L172.5,236L168,230"/>
<path d="M118,286L113,289.5L107,294L106.4,298.8L105.5,303.5L104.3,307.5L102,311L99,315.7L94.5,319L93,325.5L97.1,328.3L99,333L103,332.3L107,331.5L114.5,331.5L119.1,333.2L124,333L127.8,330.2L130.7,326.2L135,324L139.8,323.1L144,321L147.5,317.5L152,316"/>
<path d="M63,300.5L68,306.5L70.9,309.9L76,309.6L79,313L83.5,314.1L88,313L92.1,315.1L94.5,319"/>
<path d="M93,325.5L91.6,329.5L89.6,333.1L86.5,336L86,340.4L86.7,344.8L88,349L93,355L91.1,359.6L91,364.5L89.5,369L84.8,367.8L80,367.5L75.5,368.2L71,369L67.1,367.8L63,367.5"/>
<path d="M89.5,369L91.8,373.1L94.5,377L96.9,380.6L100.5,383L104,388L107.1,384.8L111.9,383.8L114.5,380L119.3,380.5L124,382.3L129,381.5L131.8,376.4L132,370.5L125.5,366L121.4,362.8L119.5,358L117.6,353.5L116,349L111.5,347.1L107,345.5L108.5,338L112.2,335.4L114.5,331.5"/>
<path d="M124,333L128.6,335.8L133.5,338L138.2,339.2L143,338L146.2,341.2L147.5,345.5L151.1,347.5L154,350.5L150.5,355L154.4,356.1L158.5,356.5L161.3,360.2L163,364.5L167.2,363.4L171.3,364.7L175.5,364.5L180.5,359.5L185,366L189.6,368L194.5,369L199,368.5L202.5,365.1L207,364.5L211.4,363.3L216,363L217.5,359L221,356.5L221,350.5L224,347"/>
<path d="M132,370.5L136.3,370.4L139.5,367.5L144.5,366L147.6,362.3L149.9,357.9L154,355"/>
<path d="M194.5,369L198,372.6L200.5,377L205.5,380L200.5,386L195,384.7L189.5,386L186.5,390"/>
<path d="M241,317.5L247.5,320.5L252,327L256.1,327.3L260,328.5"/>
<path d="M252,327L251.9,331.4L248.8,335.1L249,339.5L245.5,343.7L244.5,349L239.5,355L241.7,359.2L244.5,363L243.9,368.7L246,374L249.9,370.6L252,366L255.8,364.4L260,364.5"/>
<path d="M99,380L100.3,384.1L102,388L104.2,391.9L107,395.5L105.5,400.5L109.8,400.7L113,403.5L115,407.6L118,411L119.6,415.3L120,420L122.5,424L127,430L131.2,428L135,425.5L139.6,424.1L144.5,424L147.5,430L147.2,435.1L144.5,439.5L142.5,443.1L141,447L137,446.5L133,446.6L129,447L122.5,442.5L118.9,439.9L114.5,439.5L110,442.5L105.5,436L105.6,431.6L102.6,428.2L102,424L96,424L91.7,423L88,420.5L83.5,416L80.3,411.8L75.5,409.5L69.5,411L63,406.5"/>
<path d="M105.5,400.5L102.3,404.5L97.5,406.5L95,411.1L91,414.5L83.5,416L79,420.5L78.9,425.2L78.5,429.8L79,434.5L77.2,438.5L78.5,443L77,447L73.3,449.6L69.5,452L63,453.5"/>
<path d="M74,450.5L77.9,454.6L80.5,459.5L84.1,462.9L88,466L91.1,470.1L94.5,474L98.2,475.9L101.6,478.4L105.5,480L109.7,479.6L113.8,478.3L118,478.5L122.5,481.5L125.3,476.4L129,472L130.4,467.3L127.8,462.7L129,458L130.7,453.7L130.5,449"/>
<path d="M147.5,430L151.5,426L155.5,422L154,414.5L158.1,412.6L161.5,409.5L162.5,404.8L164.3,400.3L164.5,395.5L168.6,394.2L172.5,392.5L177.6,395.4L183.5,395.5L185.7,391.7L188,388L192.1,389.4L196.2,390L200.5,389.5L203.5,386L207,383L205.5,380"/>
<path d="M183.5,395.5L185.8,399.2L186.5,403.5L191.8,405.5L197.5,405L202.5,408.4L208.5,409.5L212.5,412.7L214.5,417.5L214.8,423L214.5,428.5L217.1,433.7L218,439.5L220,444.9L221,450.5L225.5,453.7L229,458L233.1,460.6L238,461L241,455L246,453.5L243.9,458L244.5,463L241,467.5L245.7,468.5L250.6,466.8L255.2,469.9L260,469L265.3,471L270,474L275.1,474.9L279.9,477.2L285,478L290.1,477.3L294.7,474.6L300,474.7"/>
<path d="M161.5,409.5L165,412.3L169.5,413L174.8,415L180.5,414.5L181.1,418.8L181.4,423.1L183.6,427.1L183.5,431.5L189.3,431.1L194.5,428.5L199.2,428.2L204,428.5L209.2,429.6L214.5,428.5"/>
<path d="M183.5,431.5L178.4,434.6L172.5,436L168,439.5L171,445.5L165.8,448.3L160,449L155.5,449L153.9,444.9L150,442.8L147.5,439.5"/>
<path d="M160,449L163.8,450.7L165.7,454.9L169.5,456.5L173.9,459.4L179,461L180.5,465L182,469L185.5,472.6L188,477L191.8,479.4L194.5,483L202,481.5L203.6,486.1L207,489.5L209.6,492.9L213,495.5L214.8,500.6L218,505L219.5,511"/>
<path d="M122.5,481.5L125.9,485.3L129,489.5L133.8,491.2L138,494L139.7,498.5L139.6,503.4L141,508L147.5,511L148,516.1L150.5,520.5L151.5,524.8L154,528.5L158.5,534.5L154,540"/>
<path d="M141,495.5L141.7,490.2L143.5,485.2L144.5,480L149.2,479L154,478.5L158.4,479.6L163,480L166.5,482.9L170.5,485.1L174,488L175.9,483.6L179,480L183.7,479.1L188,477"/>
<path d="M158.5,534.5L164,533.2L169.5,534.5L173.1,530.4L175.5,525.5L180.6,524.7L185,522L188.7,518.7L193,516L194.7,512.2L199.1,510.5L200.5,506.5L204,503.6L207.8,501.2L210,497L214.2,500.8L218,505"/>
<path d="M219.5,511L220.1,515.3L218.3,519.7L219.5,524L220.6,528.6L222.5,533L225.5,540L227.5,545L227,550.2L230.1,554.9L230,560L233.7,562.6L237.5,565L235.8,569L235.3,573.2L235,577.5L236.9,581.6L239.2,585.5L240,590L244.6,592.7L250,593.4L255,595L260.3,594.8L265,592.5L268.4,589.5L272.5,587.5L277.8,589.4L282.5,592.5L287.5,597.5L282.5,602.5"/>
<path d="M219.5,511L221.2,505.5L224,500.5L228,498.9L230.5,495.5L230.9,490.8L230.5,486L235.4,485.8L239.5,483L244,480.6L249,480L248.4,476L247.5,472L244.5,469"/>
<path d="M222.5,445.5L224.2,441.8L225.5,438L229.7,435.8L233.5,433L235.6,427.7L236.5,422L242.4,421.9L247.5,419L249,413.9L252,409.5L256.6,408.3L260,405"/>
<path d="M63,488L67.3,491.8L72.5,494L73.3,499.5L74,505L71,511L77,514.5L79.6,517.9L80.5,522L88,524L89.5,531.5L92.9,534.6L96,538L95,535"/>
<path d="M65,557.5L67.6,552.5L70,547.5L73.8,545L76.8,541.5L81.5,540.3L85,537.5L90.4,537.7L95,535L96.5,539.3L97.4,543.6L97.1,548.1L97.5,552.5L102.3,555.5L107.5,557.5L109.8,553.6L110.8,549.2L112.5,545L117.5,542.5"/>
<path d="M155,540L156.4,535L157.5,530L154,528.5"/>
<path d="M272.5,587.5L273.3,582.2L275.3,577.3L277.5,572.5L279.3,567.5L279.4,562L282.5,557.5L286.2,555.7L288.5,552.1L292.8,551.1L295,547.5L299.1,546.4L303.6,547.2L307.5,545L308.1,540L310,535.1L310,530L309.6,535L308.1,539.9L308,545"/>
<path d="M350,572.5L348.3,568.1L347.4,563.2L344.8,559.2L342.5,555L342.8,550.3L346.1,546.8L347.5,542.5L349.1,538.3L351.5,534.4L352.5,530"/>
<path d="M422.5,481L426.3,478.4L431.1,478.4L435,476L439.7,475.6L443.7,473.5L447.5,471L450.8,468.7L455,467.8L458.2,465.3L462.2,464.2L465,461L469.2,462.3L473.3,461.3L477.5,461L480.4,464.3L484,467L487.9,469.4L490,473.5L493,476.2L494.8,479.9L497.2,483.1L500,486L502.5,489.3L504.8,492.8L507.5,496L511.5,498.2L515.7,499.7L520,501L525.5,502.5L530,506"/>
<path d="M467.5,341L471.2,344L474.9,346.9L477.5,351L481.1,354.5L486.6,354.8L490,358.5L493.1,361.9L497.5,363.5L505,361L505.8,365.2L505.7,369.5L507.5,373.5L511.3,377.8L512.5,383.5L516.7,384.4L520.9,385L525,386L527.6,389.5L531.6,391L535,393.5L539,395L543.4,394.8L547.5,396L551.2,399L555.8,399.3L560,401L564,404.5L567.5,408.5L571.2,411.7L576,413.2L580,416L584.6,413.1L590.4,413.8L595,411L598.4,408.5L601.7,406L605,403.5L607.8,408.2L612.5,411L616.3,413.7L620.5,415.1L625,416L630.4,416.2L635,413.5L638.4,417.2L643.4,418.4L647.5,421L648,426.2L650,431L654.1,433.6L656,438.3L660,441L657.5,448.5L653.1,450.6L649,453.3L645,456L642.5,458.5"/>
<path d="M642.5,458.5L638.1,457.5L634.7,453.9L630,453.5L628.4,457.4L625,459.7L623.1,463.3L620,466L614.5,464.5L610,461L604.9,460.8L600.2,458.4L595,458.5L590,457.6L585,458.5L580.2,456.5L575,456L570,456.4L565,454.8L560,456L557.6,460.7L556.6,466L555,471L553.6,475.3L551.6,479.3L550,483.5L547.3,486.8L543.4,488.5L540,491L537.1,495.8L535,501L530,506L525,511L530,516L530,520.3L532.4,523.9L534.4,527.7L532.5,532.4L535,536L537.5,541L542,540.9L546.4,540.9L550.6,542.9L555,543.5L559.8,545.7L565,546.7L570,548.5L574.3,549.8L578.1,552.3L582.5,553.5L585,557.3L587.5,561L592,562L595.3,565.6L600,566L605.1,568.2L610,571L615.2,571.4L620,569.4L625,568.5L626.5,572.9L630,576L631.7,581.4L635,586L639.2,583.5L640.9,578.6L645,576L650.1,573.6L655,571L658.9,568.6L663,566.9L667.5,566L670.8,570.6L672.5,576L680,573.5L685.2,573L690.2,572.1L695,570L700.4,570.6L705,573.5"/>
<path d="M530,516L525.1,514.2L520,513.5L515.2,515.6L510,516L505.3,513.3L500.2,512L495,511L490.2,508.9L485,509.4L480,508.5L478.2,503.6L477.5,498.5L473.9,502.4L470,506L467.4,510.7L467.5,516L469.6,520.8L470,526L465,531L468.2,533.6L472.2,535.3L475,538.5L473.4,543.9L470,548.5L467.3,552.1L465,556L463.4,560.9L464.7,566.2L462.5,571L458.7,574.7L455,578.5"/>
<path d="M535,536L533.9,539.9L533.1,543.9L532.9,547.9L532.1,551.9L532.5,556L529.5,559.4L528.1,563.9L525.3,567.4L522.5,571L520.4,575.8L520.8,581L520,586L522.5,592L524.3,596.1L523.8,600.7L525,605L526.3,609.7L529.2,613.5L532.5,617"/>
<path d="M642.5,458.5L645.6,463.2L647.5,468.5L646.8,473.1L649.9,477.1L649.3,481.6L650,486L651.6,490L652.8,494.1L653.1,498.4L652.4,502.8L653.3,507L655,511L654.7,515.1L656.4,518.9L655.3,523.1L656.2,527.1L657.5,531L657.9,535.2L658.6,539.3L658.7,543.5L660.2,547.6L659.6,551.8L660,556L657.9,560.9L655.7,565.7L655,571"/>
<path d="M635,586L635.6,591L639.3,595L640,600L643.8,602.4L648.4,602.7L652.5,604.5L653.3,608.7L653.6,612.9L655,617L652.3,620.4L648.9,622.7L645,624.5L640.1,626.5L634.7,627L630,629.5L624.7,631.4L620,634.5L616,632.6L611.7,632.8L607.5,632L604,629.2L600.9,626.1L597.7,623L595,619.5L591.7,622.3L587.4,623.1L583.6,624.8L580,627L576.8,630.1L572.2,630.1L568.3,631.8L565,634.5L559.8,634.4L555.1,636.9L550,637"/>
<path d="M680,343.5L685,344.8L690,346L689.7,350.4L690.4,354.6L692.5,358.5L697.1,359.1L700.9,361.6L705,363.5L710.2,364.5L714.8,367.3L720,368.5L720,373.6L721.4,378.5L722.5,383.5L721,387.8L721.7,392.3L719.2,396.4L720,401L716.7,404.4L713.4,407.7L710,411L709,416.1L707.5,421L709.1,424.9L711.8,427.8L715.3,430.1L717.5,433.5L718.1,438.4L722.2,441.8L722.4,446.9L725,451L729.4,449.8L733.5,448.1L737.5,446L739.5,441.9L742.5,438.5L746.4,440.7L750,443.5L755.1,443.4L760.1,442.6L765,441L768.5,445.5L770,451L770.9,455L772.3,458.8L773,462.8L773.4,466.8L772.5,471L776.6,472L780,474.5L784.3,473.4L788.7,473.2L793.1,472.2L797.5,472L801.4,470.6L804.3,467.6L807.5,465.3L810,461.8L813.3,459.5L817.5,458.5L818.9,454.4L822.5,452L826.8,452.8L831.1,454.6L835.5,454.5L840,454.5L844.4,454.9L848.8,455L853.1,452.7L857.5,453.5L860.6,456.9L862.5,461L866.8,460.1L870,457L873,461.1L877.5,463.5L882.7,463.2L887.5,465.2L892.5,466L892.6,461.7L895,457.8L895,453.5L893.5,449.4L890.4,446.6L887.5,443.5L887.6,438.5L887.5,433.5L887.5,428.5L883.8,426.2L881.3,422.7L877.6,420.4L875.4,416.6L872.5,413.5L872.1,408.5L872.5,403.5L875,399.4L876.5,394.6L880,391L881.5,386.8L881.3,382.7L880.8,378.5L881.3,374.3L878.7,370.2L880,366L877,363L874.7,359.5L872.5,356L872.3,351.8L871.1,347.8L870.6,343.7L869.8,339.7L867.5,336L864.3,333.3L861.6,330.1L857.9,328L855,325L852.5,317.5L853,312.4L854.6,307.6L855,302.5L851.9,298.1L847.5,295L844.4,291.2L841.7,287.2L840,282.5L837.2,278.6L833.9,275.3L830,272.5L832.3,268.2L835.3,264.4L837.5,260L835.7,255.1L834.8,249.8L832.5,245L830,241.6L828.7,237.5L828.2,233.1L825,230L821.6,226.9L820.3,222.3L817.5,218.7L815,215"/>
<path d="M862.5,461L860.3,465.8L859.8,470.8L860,476L857.5,480.7L857.1,486.1L855,491L855.1,496.3L852.5,501L854.2,505.9L855,511L852.1,508.2L848.3,506.5L845.7,503.4L842.5,501L835,503.5L831.7,506.7L830,511L825.8,511.6L821.7,511.6L817.5,511L815.4,515.2L817.4,519.9L815.2,524.1L815,528.5L816.4,532.5L820,535.4L819.9,540.1L822.5,543.5L822.1,547.9L821.8,552.3L821.6,556.8L820,561L819.2,566.3L815.8,570.7L815,576L813.9,580.1L814.7,584L815.7,588L816,592L812.4,594.7L810.2,598.5L807.5,602L808.7,607L810,612L815.2,614.1L820,617"/>
<path d="M855,325L860.2,324.5L864.9,327.1L870,327.5L875.7,326.3L880,322.5L883.3,325.3L884.4,329.6L887.5,332.5L891.2,334.3L895,336L900,336L900.4,341.4L902.9,346.2L905,351L907.3,355.4L910.8,358.5L915,361L916.4,365.9L916.6,371L917.5,376L920.8,378.7L924.8,380.2L928.7,381.7L932.5,383.5L932.1,388L932.5,392.4L933.6,396.7L935,401L935,405.6L937.1,409.9L936.9,414.5L937.1,419L937.5,423.5L942.4,424.8L945.3,429.4L950,431L952.9,427.2L956.3,424L960,421L962.1,417.5L964.6,414.4L966.6,410.9L970,408.5L971.9,412.3L974.5,415.5L977.5,418.5L980.2,413.9L980,408.5L982.2,404.3L981.6,399.4L984.2,395.3L983,390.3L985,386L985.2,381.6L987,377.4L987,372.9L987.5,368.5L991.7,367.5L994.8,364.4L998.9,363.2L1002.5,361L1006.6,363.7L1011.5,364.8L1015,368.5L1020.5,370L1025,373.5L1028.7,370.6L1030,366L1034.8,367.9L1040,368.5L1043.7,371.9L1045.1,376.8L1047.5,381L1050.4,383.8L1052.9,387.1L1057.3,388L1060,391L1061.2,396.7L1065,401L1069.1,403.6L1073.3,405.8L1078,406.9L1082.5,408.5L1086.6,411.1L1090.4,414.3L1095,416L1097.6,419.7L1100,423.5L1102.8,420.2L1106.3,418L1110,416L1114.9,417.6L1119.9,418.2L1125,418.5L1126.6,423.2L1129.7,427L1132.5,431L1136,433.6L1136.6,438.4L1140,441L1143.1,444.5L1147.2,447.1L1150,451L1153.2,455.3L1157.5,458.5L1160.3,455.6L1164.5,454.5L1166.3,450.2L1170,448.5L1174.8,447L1178.7,444.1L1182.5,441L1186.7,439.4L1190.3,436.4L1195,436L1199,435.4L1202.9,433.9L1207.2,435.7L1210.8,432.6L1215,433.5"/>
<path d="M680,486L683.6,487.9L686.3,490.9L689,493.9L692.5,496L694.7,500L697.5,503.5L694.3,507.3L692.9,512.1L690,516L691.9,520.1L694.5,523.9L695,528.5L700.1,530.9L705,533.5L707.1,538.3L707.4,543.4L707.5,548.5L706.8,553.1L703.8,556.7L702.5,561L702.6,565.3L704.6,569.2L705,573.5L708.2,577.8L712.5,581L712,586.7L710,592L711.2,597.2L714.5,601.6L715,607L713.4,611.2L713.8,615.8L712.7,620.1L712.5,624.5L714.4,628.7L715,633.2L717.3,637.3L717.5,642L715.1,646.8L714,651.9L712.5,657L708.5,658.6L706.2,662.5L702.5,664.5L697.5,663.9L692.4,663.3L687.5,662L680,664.5L676.4,666.6L673.4,669.6L670,672L668.3,676.9L667.5,682L665.1,685.4L663.1,689.1L660,692L655.5,694L651.8,697.2L647.5,699.5L643.6,702.3L641.7,707L637.5,709.5"/>
<path d="M902.5,586L907.6,585.6L912.4,583.5L917.5,583.5L921.3,581.6L924.2,578.5L927.5,576L928.8,580.2L932.6,582.6L935,586L938.2,583.1L942,581.3L945.9,579.7L950,578.5L954.6,581.4L957.5,586L962.5,592L955,592L950.6,593.2L946.5,594.8L942.5,597L937.7,598.5L933.4,600.8L930,604.5L925.4,603.9L921.4,601.8L917.5,599.5L914.7,604.2L910,607L905.3,603.9L900,602"/>
<path d="M1000,466L995.8,465.9L991.7,464.6L987.5,466L984,470.5L982.5,476L977.8,479.1L972.5,481L970.3,486.2L967.5,491L964.8,494.2L961.7,497L960,501"/>
<path d="M807.5,115L808.4,119.5L810.2,123.6L812.5,127.5L814.9,131.7L818.8,134.5L822.5,137.5L826.7,140L829.6,143.7L832.5,147.5L836.6,148.9L838.8,153L842.5,155L842.1,159.3L841.3,163.4L840,167.5L837.7,171.8L835,175.8L832.5,180L831.3,185L832.5,190L830.9,194.9L830,200L824.9,202.4L820,205L818.3,210.4L815,215L810.9,216.5L807.5,218.8L805,222.5L799.7,222.6L795,225L789.9,225.4L784.9,226.3L780,227.5L775.9,226L771.3,226.4L767.5,224L762.5,224.6L757.5,225L753.3,227.4L749.4,230.4L745,232.5L741.5,235.6L740,240L734,245L730.2,249.4L729,255L728.2,260.9L725,266L720.8,266.3L717.5,269L714,275L710.2,279.3L709,285L707.3,289.6L705,294L700,294.9L695,296L687.5,296L683.4,296.5L680,299L675,298.6L670,299L667.8,294.8L665,291L662.5,287.8L661,284L654,285L651.6,288.8L650.8,293L651,297.5L647.5,304L644.4,301.2L642.5,297.5L639.4,294L637.2,290L635,286L632.3,281.9L630,277.5"/>
<path d="M705,294L704.1,299.9L701,305L699.1,310.6L695,315L692.5,321L687.5,322.5L685,330L687.5,337.5L685,345L690,346"/>
<path d="M1065,401L1070.5,399.5L1075,396L1079,394.9L1083,397.1L1087,397.2L1091,396.1L1095,396L1100.2,395.1L1105,392.5L1110,391L1114.7,390.7L1118.8,388.6L1123.3,387.9L1127.5,386L1132,386L1136.3,387L1140.5,388.8L1145,388.5L1148.6,386.3L1152.5,384.7L1155.9,382.2L1160,381L1164.1,379.5L1166.9,376.3L1170,373.5L1171.4,369.4L1175.6,367.3L1177.5,363.5L1181.7,361L1186,358.8L1190,356L1195.5,354.5L1200,351"/>
<path d="M1040,393.5L1041.6,398.4L1040.8,403.6L1042.5,408.5L1046.3,411.3L1050.2,414.1L1052.5,418.5L1055.3,423.4L1057.5,428.5L1053.6,430.7L1050,433.5L1044.5,434.9L1040,438.5L1034.7,438.3L1030,436L1029.1,440.2L1029.7,444.3L1030,448.5L1027.3,451.9L1023.5,453.8L1020,456L1015.8,458.3L1011.1,459.4L1007,461.8L1002.5,463.5L997.5,464.5L992.3,464.2L987.5,466"/>
<path d="M1040,438.5L1042.3,441.8L1044.7,445.1L1045.5,449.3L1047.9,452.5L1050,456L1052.6,459.1L1054.1,463L1058.2,464.8L1060,468.5L1065,469.6L1070.2,469.2L1075,471L1076.8,476.4L1080,481L1075.6,483.3L1073.9,488.2L1070,491L1067.4,495.7L1066.9,501.1L1065,506L1063.8,510.1L1062.5,514.1L1059,517.1L1057.5,521L1060,528.5L1063.9,530.9L1066.3,535.1L1070.5,537L1069.1,541.6L1070.7,546.5L1069,551L1065.9,554L1062.7,557L1058.7,559L1056.5,563L1053.1,567.5L1048,570L1046.7,573.9L1044.6,577.5L1045.2,581.9L1043,585.5L1040.9,589.4L1036.5,591.5L1034.5,595.5L1029.5,598.7L1024,601L1021.5,605L1017.9,607.8L1013.8,609.9L1010.5,613L1012.2,617.1L1010.2,621.6L1011.7,625.7L1012,630L1016.2,632.8L1019,637L1016.3,641.9L1014,647L1017,654"/>
<path d="M1157.5,458.5L1155,461.6L1152.3,464.6L1149.2,467.3L1147.5,471L1148.1,476.2L1144.9,480.8L1145,486L1148.1,489.6L1152.4,491.9L1155,496L1158.2,499.1L1158.8,503.5L1161.3,506.9L1162.5,511L1164.5,514.8L1164.4,518.9L1163.1,523.1L1165.5,526.9L1165,531L1165,535.7L1166.1,540.2L1167.7,544.4L1170,548.5L1171,552.6L1172.7,556.6L1172.5,561L1169.1,564.6L1167.6,569.4L1165,573.5L1163,581"/>
<path d="M1113.5,561L1114,566.1L1117.8,570L1118.5,575L1116.1,578.3L1112.4,580.2L1110,583.5L1107.4,587.9L1103,590.5L1099.1,592.5L1096,595.5L1091.1,596.7L1085.9,595.8L1081,597.5L1075.9,599.5L1070.5,599L1068.9,594.9L1069,590.5L1073.7,588.8L1077.5,585.5L1082.6,583.1L1086,578.5L1086,571.5L1090.4,570.2L1094.5,568L1093,561L1098,560.4L1103,559.5L1108.2,560.9L1113.5,561"/>
<path d="M1195,92.5L1193,96.4L1193.1,100.8L1192.5,105L1187.7,106.5L1183.5,108.9L1180,112.5L1177.2,116.4L1173.2,119L1170,122.5L1166.9,126L1162.5,127.5L1164.3,131.6L1164.7,136.3L1167.5,140L1170.5,144.5L1169.4,150.5L1172.5,155L1174.1,159.9L1175.2,164.8L1175,170L1179,172.7L1181.8,176.5L1185,180L1188.6,182.2L1191.5,185.2L1195,187.5L1200,190L1198.7,195.6L1195,200L1193.9,205.2L1190.5,209.6L1190,215L1188.4,220L1186.6,225L1185,230L1181.5,232.3L1179.9,236.2L1177.1,239L1175,242.5L1171.9,245.8L1170,250L1171.3,255.1L1174.3,259.7L1175,265L1178,268.6L1178.2,273.4L1180,277.5L1185,282.5L1186.6,286.8L1188,291.1L1187.9,295.9L1190,300L1194.2,300.3L1198.3,299.2L1202.5,300L1204,304.9L1205,310L1206.2,315L1207.5,320L1211.3,323.7L1215,327.5"/>
<path d="M747.5,629.5L749.1,633.5L752.9,635.9L755,639.5L753.8,645.1L750,649.5L749.3,654L746.6,657.8L745,662L741.3,664.3L738.4,667.4L736.5,671.5L732.3,673.3L730,677L725.4,679.2L723.2,684.1L718.9,686.5L715,689.5L715.5,694.7L717.5,699.5L719.8,703L723.8,704.4L726.4,707.6L730,709.5L731.3,714.4L735.3,717.6L737.5,722"/>
<path d="M730,592L731.8,596.6L734.7,600.5L737.5,604.5L741.2,607.9L743.4,612.3L745,617L747.2,620.9L747.4,625.2L747.5,629.5"/>
<path d="M680,689.5L684.9,687.8L690,688L694.3,689L698.2,686.3L702.5,687L704,691L704.8,695.2L705,699.5L709.1,696.9L711.7,692.9L715,689.5"/>
<path d="M755,639.5L760,638.3L764.7,635.9L770,636L774,635.2L778,634.4L782.1,634L786.2,633.7L790,632L794,630.4L798.1,629.3L802.2,628.1L806.5,627.2L810,624.5L813.5,622.2L816.8,619.7L820,617L824.7,614.5L830,614.5L834.1,615.9L838.3,616.1L842.5,617L846.5,619.6L851.3,619.3L855.9,619.7L860,622L863.2,618.6L867.6,617.1L871.6,615L875,612L880,617L883.9,619.3L888.4,620.2L892.2,622.6L896.4,624.3L900,627L904,628.7L908.5,627.8L912.5,629.5L917.3,631.8L922.6,632.6L927.5,634.5L931.1,636.7L934.3,639.3L937.5,642L940.7,637.7L945,634.5L949.4,630.7L955,629.5L958.9,631.2L962,634.1L965,637"/>
<path d="M860,622L858,626.8L859.6,632.2L857.5,637L859.5,641.5L862,645.6L865,649.5L860.9,652.9L857.5,657"/>
<path d="M917.5,654.5L917.3,650.1L920.5,646.4L920,642L922.1,638L925,634.5"/>
<path d="M223.4,300L227.2,302.9L231,306L233.7,309.5L234,314L237.7,315.8L240.6,318.8L247,322L251.5,328L252.2,332L253,336L250.8,341.1L247,345L242.7,348.2L240.6,353L242.6,357.1L245,361L245.8,365.5L247,370L250,365.6L254.7,364L260.3,363.6L265.6,365.6L272,368.8L279.7,367L284,367L285.5,362.4L287.5,358L293.8,354.7L297.7,356.2L301.5,358L304.8,361.2L306,365.6L310.2,365L314,367L318.1,369.3L322,372L326.3,371.3L329.7,368.8L333.5,370.6L337.5,372L343.8,368.8L348.4,370.4L353,372L358.1,374.5L362.5,378L367.2,376.8L372,378L376.6,373.4L376.9,368.9L379.9,365.4L381.3,361.3L381.2,356.6L384,353L386,349.1L389,345.8L390.8,341.8L392,337.5L394,334L394.7,329.7L398,326.9L400,323.4"/>
<path d="M240.6,318.8L247,320L251.7,323.2L254.7,328L258.8,328.3L262.8,329.7L267,329.7L270.6,325.1L273.4,320L277.6,315.8L281,311L284.4,308.5L287.2,305.4L290.6,303L292,300L291.9,295.6L293,291.5L293.6,287.2L294.9,283.2L296.8,279.2L297.5,275"/>
<path d="M284,367L285.8,371L287.5,375L291.1,377L295,378L293.3,382.7L292,387.5L288.2,390.9L284,393.8L284,398.4L283,403L286,409L284,415.6L289.7,417.6L293.8,422L297.8,422.4L301.9,423L306,422L311,418.8L314,415.6L311.6,412.2L309,409L308,401.5L311.7,398.2L315.6,395L314,387.5L316.7,382.9L318.8,378L322,372"/>
<path d="M372,378L371.2,382.5L367.9,386.1L367,390.6L365.3,394.9L361.9,398L359,401.5L357.1,406.1L353.7,409.4L350,412.5L347.1,416.4L344,420L340.6,423.4L341.4,428.4L343.8,433L344.2,438.6L342,443.8L339.8,448.4L337.5,453L331.6,453.2L326.5,456L328,460"/>
<path d="M200,340.6L204.4,342.1L208,345L212.7,343.3L217,340.6L219.4,344.6L223.4,347L222.5,352.7L220,358L213.9,358.9L209,362.5L204.3,363.4L200,365.6"/>
<path d="M200,404.7L205.1,407.8L211,409L211.8,413.6L214.1,417.6L215.6,422L214,429.7L216.2,435.2L218.8,440.6L218.8,445.4L220,450L221.7,454.1L226.2,456L228,460"/>
<path d="M215.6,422L220.7,422.2L225,425L229.5,422.5L233,418.8L237.5,419.1L242,420L245.4,416.6L249,413.3L251.5,409L256,406L260.4,408.8L265.6,409L270.9,410.3L275,414L275.1,418.8L276.5,423.4L273.5,427.1L271.8,431.6L270,436L269.5,441.8L267,447L262.8,451.3L258,454.7L258,460L259.2,464.5L260,469"/>
<path d="M376.6,373.4L377.3,377.5L379.7,381L383.2,384.8L387.5,387.5L389.7,391.5L394.3,393.2L396.9,396.8L400,400"/>
<path d="M300,474.7L303.8,472.5L308,471.5L312.5,468.3L315.6,463.8L321.1,462.5L326.5,460.6L328,454.4L333.7,453.4L339,451L341.9,447.4L341.8,442.7L343.8,438.8L343,433.9L342,429L342.9,424.3L345,420"/>
<path d="M315.6,463.8L317.1,468.3L317,473L322,479L325.7,483.4L331,485.6L334.9,487.3L337.6,490.5L340.6,493.4L341.6,498.7L342,504L345.4,508.7L348.4,513.8L346.9,518.3L347,523L351.5,529L349.3,533.7L350,538.8L347,545L346,549.3L347.7,553.4L348.4,557.5L347.6,562.2L347,567L350,571.5"/>
<path d="M300,495L303.9,496.6L305.4,501L309,503L312.8,500.3L317,498L320.1,501.2L324,503.6L326.5,507.5L331.2,508.7L336,508.9L340.6,510.6L344.1,513.2L348.4,513.8"/>
<path d="M350,538.8L349.7,534.4L352.5,530.6L352,526.2L353.7,522.2L354.7,518.1L354.7,513.8L359.2,511.6L364,510.6L369.1,510.9L373.4,513.8L377,516.5L379.7,520L384,515L389.1,515.1L393.8,517"/>
<path d="M300,520L303.3,524L304.7,529L303.6,533.8L303,538.8L306.2,541.3L308,545"/>
<path d="M260,469L263.2,472.6L268.1,473.7L271.1,477.4L275,480L278.7,482L282.3,484.4L285.7,487.1L290,488L292.6,491.4L296.9,492.3L300,495"/>
</g>
<g fill="none" stroke="#000" stroke-width="1.5" stroke-linejoin="round">
<path d="M117.5,542.5L123.3,542L129.2,541.9L135,541L140,540.3L145,540.5L150,539.3L155,540L160,547.5L165.2,549.7L170,552.5L175.4,555.7L180,560L183.1,565.5L187.5,570L189,574.9L189.4,580L190,585L192.5,592.5L197.5,587.5L202.5,595L206,599.5L207.5,605L213.9,604.4L220,602.5L226.2,603.7L232.5,604L237.5,610L245,607.5L252.5,612.5L253.1,618.9L255,625L260.4,629.6L265,635L272.5,630L277.5,637.5L282.5,638.4L287.5,639.3L292.5,640L294.4,634.7L297.5,630L295.3,624.9L292.5,620L289.1,614.8L285,610L282.5,602.5L288.8,602.6L295,601L300,592.5L307.5,587.5L313.9,589.7L320,592.5L322.5,585L315,580L315,572.5L320,565L325,565.7L330.2,565.6L335,567.5L340.3,568.3L345,570.7L350,572.5L355.8,573.4L361.7,573.4L367.5,574L375,570L379.9,571.6L385.2,571.5L390,573.5L395,571.7L400,570L405,568.5L410,569.5L414.8,571.4L420,571L424.9,569.4L430,569.2L435,568.5L439.8,572.5L445,576L448.4,580.1L452.5,583.5L455,592L455.5,598.4L457.5,604.5L463.8,605.6L470,607L474.3,611.6L477.5,617L485,619.5L484.6,624.7L482.5,629.5L490,627L491.3,622L492.5,617L497.3,622.2L502.5,627L508.3,624.3L514.4,622.5L520,619.5L526.4,619.2L532.5,617L540,612L537.5,617L535,622L538.4,626.1L543.2,628.8L546.6,632.9L550,637L551.4,642.2L553.8,647.1L556.2,651.9L556.9,657.5L560,662L563,667.3L563.4,673.4L566.5,678.6L567.5,684.5L569,689.6L570.4,694.8L574.1,699.1L575,704.5L577.5,709.5L580.6,704L585,699.5L590.1,700.4L595,702L597.2,707.1L600,712L605.1,711.8L609.9,709.7L615,709.5L619.9,707.8L624.9,707.2L630,707L637.5,709.5L640.5,715.5L642.5,722L647.5,725.8L652.5,729.5L656.4,734.4L660,739.5L664.6,742.7L670,744.5L675,740.7L680,737L683.5,741.6L687.4,745.8L691,750.3L695,754.5L698.7,750.9L704.3,750.5L707.6,746.1L712.5,744.5L716.6,741L721.7,738.9L726.2,735.9L730,732L732.9,726.3L737.5,722L742.4,719.6L745.7,715.1L750,712L755.1,709.7L759.9,706.8L765,704.5L769.8,702.7L774.9,702.1L780,702L785.6,703.2L791.1,704.3L796.9,703.3L802.5,704.5L805.4,710.1L810,714.5L815,714L820.1,714L824.9,711.6L830,712L835.1,711.8L840.1,711.4L844.9,709.3L850,709.5L854.7,705L859.8,700.9L865,697L865.1,692L865,687L861.2,682L857.5,677L857.3,672L857,667L857.8,662L857.5,657L862.5,649.5L868.3,648.8L874.2,649.2L880,649.5L885,649L890,650.4L895,649.7L900,649.5L905.6,651.9L911.7,652.7L917.5,654.5L921.5,659.3L925,664.5L930.2,666.7L935,669.5L941.3,670.7L947.5,672L954.1,668.8L960,664.5L964.6,661.2L969.8,659.1L975,657L980.9,655.7L986.8,654.2L992.5,652L997.5,652.7L1002.5,652.4L1007.5,651.6L1012.5,651L1017,654L1022.7,656.8L1027.5,661L1033.6,660.8L1039.5,659L1045.8,658.7L1051.5,656L1055.8,653.2L1060.9,652.4L1065.5,650.5L1072,645.5L1075,639.6L1080.7,635.7L1084,630L1088.7,626L1093,621.5L1095.2,615.7L1096,609.5L1098.5,604.1L1101.5,599L1106.3,596.2L1110,592L1115.1,593.8L1120.5,594L1125.3,591.2L1130.5,589L1137.5,584.5L1144.3,584.4L1151,583.5L1156.7,581L1163,581"/>
</g>
<g fill="none" stroke="#000" stroke-width="2.6" stroke-linejoin="round" stroke-linecap="round">
<path d="M61.6,138L65.6,140.5L68.4,144.6L72.5,147L75.9,151.4L80,155L85,161L85.4,166.1L84,171L84.1,176.6L83,182L85.1,186.8L86,192L89,185L87.7,180.3L86.5,175.5L89,170.2L90.5,164.5"/>
<path d="M63,178L69.5,175L73.3,177.2L77,179.5L83.5,183"/>
<path d="M93,200.5L96.3,197.5L99,194L100.9,189.8L104,186.4L105.5,182L108.1,177.4L110,172.5L114,171.5L118,171L125.5,172.5L126.2,177.3L127,182L126.5,187.2L126.8,192.3L126.5,197.5L124.6,203L122.5,208.5L116,210L110,211.5L105.5,207L100.5,203.5L96,203.5L93,200.5"/>
<path d="M141,210L147.5,213L150.5,207L152.5,203.4L155.5,200.5L158.1,195.1L160,189.5L160.5,193.7L162.5,197.5L165.7,194.6L168,191L172.5,188L173.4,192.7L174,197.5L172.5,205L169.7,208.7L166,211.5L161.5,217.5L161.5,221.6L160,225.5L154,230L149,228.5L146,222.5L144.5,217.5"/>
<path d="M160,190L159.1,195L158,200L163,204L165.3,200.3L165.7,195.7L168,192L168.8,197.5L170,203"/>
<path d="M233.5,100.5L232.8,105.8L231.6,110.9L230,116L229.2,120.1L229.3,124.3L229,128.5L228.6,133.2L227.9,137.9L227,142.5L222.9,144.6L219.3,147.3L216,150.5L212.5,153.6L209.2,157L205.5,160L204,164.4L203,169L204.6,173.2L205,177.9L207,182L207,186.6L208.5,191L212,193.8L214.5,197.5L218.1,194.6L221,191L220.2,186.3L218,182L218.6,177.2L219.5,172.5L224,167.5L229,169L231.7,173.5L233.5,178.5L234.6,184.1L236.5,189.5L239,194.9L241,200.5L246,205L248,199.4L250.5,194L252.9,189.8L254,185L260,183L265.5,183.7L271,183.5L275,184.4L279,183.7L283,183.7L287,183.5L288.7,187.2L290,191L291.5,197.5L293,203.5L294.5,197.5L298.4,196.2L302.5,196L305.2,191.6L309,188L307.8,184.1L307,180L313.5,175.5L315.8,172.2L318.1,168.8L321,166L324.6,162.6L327.5,158.5L327.1,154.5L326.5,150.5L329.9,154.6L333.5,158.5L336.7,161.8L338.5,166L339.9,170.6L340,175.5L337,182L332.4,180.3L327.5,180L323.4,180.6L319.5,182L318,188L318,192.9L319.5,197.5L322.5,200.9L324.5,205L328.5,206.2L332,208.5L338.5,205L341.4,201.6L343,197.5L347.7,196.7L352.5,196L356.6,197.2L360.8,196.9L365,197.5L370.5,197L376,196L380.1,197.1L384.3,197.1L388.5,197.5L393.1,196.3L397.8,196.2L402.5,196L409,200.5L402.5,200.5L398,207L398,211.6L399.5,216L405.5,211.5L412,213L416.7,214.8L421,217.5L425.8,218.4L430.5,217.5L435.2,216.7L440,216L439,219L436.9,222.9L435.5,227L438.4,230.7L440.5,235L445,228.5L448.5,224.9L453,222.5L454.1,217.8L454.5,213L451,207L449.1,202.4L448,197.5L448.6,192.8L448,188L454.5,185L455.3,189.7L457.5,194L459.3,198.6L460.5,203.5L464.3,207.1L467,211.5L470.4,215.6L474.5,219L476.9,222.4L479.6,225.5L482.5,228.5L485.6,231.3L487.6,235L490.5,238L494.3,241.9L498,246L501.3,249.8L504,254L507.1,257.9L510,262"/>
<path d="M233.5,100.5L235.4,105.9L236.5,111.5L238,116.6L238.1,121.9L239.5,127L240.7,131.2L242.1,135.3L243,139.5L245.2,144.1L246.3,149.1L249,153.5L250.6,158L253.3,161.9L255.5,166L259.6,167.8L263.5,170L268.2,171.7L273,173L278.4,171.7L284,171L287.1,168.3L289.6,165.1L291.5,161.5L293.1,155.7L296,150.5L296.4,146.3L296.4,142.1L295.5,138L295,133.3L294.2,128.5L294.8,123.7L294,119L293,113.9L292.1,108.7L291.5,103.5L291.2,99.2L289.9,95.1L288.5,91"/>
<path d="M362,172.5L364.4,168L368,164.5L372.7,163.5L377.5,163L379.1,168.5L380.5,174L374.5,178.5L370.5,177.8L366.5,178.5L362,172.5"/>
<path d="M471.5,91L467,96L462.6,99L457.5,100.5L453.9,104.2L451,108.5L445.4,110L440.5,113L437.2,116L434,119L428.9,121.8L424.5,125.5L421.4,130.4L418,135L418,140.6L419.5,146L422,149.8L422.4,154.5L424.5,158.5L427,162L429.3,165.6L432,169L435.6,171.4L438.5,174.5L442,177L446.5,174L445.9,168.8L443.8,163.8L443.5,158.5L444.4,153L445,147.5L446.6,142L448,136.5L451,131.6L454.5,127L458.6,124.3L463.1,122L467,119L471.1,116.6L474.4,113.2L479,111.6L482.5,108.5L487.1,106.4L491.2,103.7L495,100.5L499.2,97.7L503.3,94.7L507.5,92"/>
<path d="M510,262L514,256L516.3,252.3L517,248L512.5,245L512,240.5L512.5,236L508,231L507.4,226.6L506,222.5L509,218.1L510.5,213L509.5,208.3L509,203.5L510.7,198.3L514,194L517.3,190.4L521.5,188L525.8,185.4L529.5,182L532.5,177.6L534,172.5L536.2,168.3L538.4,164.2L540.5,160L543.5,156L546.5,152L551,146L557.5,149L556,155L557.3,159L560.7,161.9L562,166L563,170.7L564,175.5L561,180L559,185L556.2,189.2L554.5,194L554.9,198.8L556,203.5L555.1,208.2L554.5,213L551.6,215.6L550.8,219.6L548.6,223.2L547.3,227.1L546.9,231.2L547,236.5L545.4,241.6L545.3,246.9L547.3,250.6L548.4,254.7L549.8,258.7L551.6,262.5L548.7,267.7L546.9,273.4L543.8,278.1L540.6,282.8L537.1,286.4L534.4,290.6L530.9,292.8L528,295.7L525,298.4L520.5,300.6L515.6,301.6L507.8,300L501.6,296.9L498.4,298.4L502.4,300.5L506.2,303L509.9,305.7L512.5,309.4L517.2,311.8L521.9,314L528,317"/>
<path d="M574.5,160L579.5,166L581.1,170.7L582.5,175.5L581.5,180.4L579.5,185L574.7,187.2L570,189.5L565.4,192.9L562,197.5L563.4,202.2L564,207L566.3,212L567,217.5L563.9,221.8L562.3,226.9L559.4,231.2L558.1,236.4L557.6,241.6L557.8,246.9L561.2,251.3L565.6,254.7L563.2,258.3L562.5,262.5L560.4,267.8L559.4,273.4L557.4,278.2L555,282.8L553,287.5L549.2,291.7L546.9,296.9L544.1,301.8L540.6,306.2L536.3,309.8L532.8,314L528,317"/>
<path d="M565.6,254.7L571.1,253.6L576.6,253L579.3,257.6L581.2,262.5L584,267.8L586,273.4L588.2,277.1L589,281.2L586,287.5L581.2,290.6L587.5,293.8L595.3,295.3"/>
<path d="M582.5,175.5L583,179.8L585.2,183.7L585.5,188L583.7,191.7L579.9,193.8L578,197.5L581.5,201.5L585.5,205L590.4,207.3L595,210L599,212.2L603,214.5L600.8,211.1L599.9,207.1L598,203.5L595.5,200L592,197.5L589,191L596.5,191L597.1,186.5L598,182L602.1,181.2L606,180L609.4,184.6L614,188L616.3,192.5L620,196"/>
<path d="M584,153.5L590.5,152L592,157"/>
<path d="M686,100L682.5,103.8L677.6,105.8L674,109.5L669.5,111.7L665.7,115.1L661,117L656.8,120.6L653.5,125L649,131L652.2,134.9L655,139L658.7,142.5L661,147L658,153L653.8,152.6L649.7,151.4L645.5,151.5L641.3,151L637.2,152.1L633,151.5L628.9,152.7L624.7,152.4L620.5,153L616,159.5L617.3,163.6L617.2,167.8L617.5,172L619.6,176.3L620.5,181L625,184.5L628.5,189L630.6,193.1L633,197L631.6,201.4L631.5,206L630.3,210.1L628.5,214L630.5,218.8L633,223.5L632.1,228.2L631.5,233L635,236.5L638,240.5L642.5,247"/>
<path d="M580,167L580.8,172.7L583,178L583.9,182.7L584.5,187.5L586.8,190.9L589.5,194L592.2,198L595.5,201.5L597.6,205.6L600.4,209.1L603.5,212.5"/>
<path d="M686,100L690.3,96.9L695.6,96L700,93L704.1,92.6L707.9,91L712,91"/>
<path d="M795,92.5L793.3,96.6L791.6,100.8L790,105L788.8,109.4L787.3,113.7L786.9,118.3L785,122.5L783.3,126.5L783.8,130.9L782.5,135L781.3,140L780,145"/>
<path d="M797.5,92.5L799.4,96.6L801,100.8L802.5,105L805,112.5L808,109.1L810,105L814.8,107.9L820,110L825,105L828,100.3L830,95L833.9,92.8L838.2,91.3L842.5,90"/>
<path d="M945,639L949.1,637.2L953,635.2L957.5,634.5L960.2,630.9L963.2,627.7L966.8,625.1L970,622L971.9,618.3L973.1,614.2L975.6,610.7L977.5,607L979.8,602.2L981.3,597.1L982.5,592L983.2,587.8L985.5,584.2L985.5,579.8L987.5,576L988.9,570.9L991.6,566.3L992.5,561L992.9,556.8L993.8,552.6L995,548.5L993.7,544.4L993.4,540.1L992.5,536L991.7,530.7L989.2,526L987.5,521L987.3,516.7L985.6,512.7L985,508.5L980,506L978.8,511L977.5,516L978,520L977.6,524.1L978.7,528L980.3,531.9L980,536L981.5,540.9L982.1,545.9L982.5,551L981.1,555.9L981.1,561L980,566L978,570.9L976,575.8L975,581L974,586.6L972.5,592L970.8,596L970.6,600.3L970,604.5L968.4,608.7L966.9,612.9L965,617L964.1,621.5L962.1,625.5L960,629.5L956.1,631.6L952.9,634.9L948.3,635.9L945,639"/>
<path d="M192.5,747L189.3,749.4L185.9,751.6L183.1,754.5L180,757L176.9,760.8L174.5,765L172.5,769.5L170.9,773.4L170.8,777.6L169.7,781.5L167.9,785.3L167.5,789.5L171.7,791.3L175.3,794.1L179.2,796.3L182.3,799.8L185.9,802.5L190,804.5L194,806.1L198.2,807.3L202.5,808L206.5,805.2L211.4,804L215.3,801L220,799.5L222,795.5L223.9,791.4L225,787L230.1,786.7L235,785.3L240,784.5L239.1,780.6L239.1,776.5L239.1,772.4L237.4,768.6L237.5,764.5L236.4,760.4L235.8,756.2L235,752L236.8,747.8L240,744.5L245.1,744.1L249.9,742.3L255,742L250.1,740.8L244.9,741L240,739.5L235.8,738.4L231.4,738L227.5,736L220,737L216.3,740.8L212.5,744.5L207.5,743.9L202.5,743L197.7,745.5L192.5,747"/>
<path d="M447.5,833L450,829.6L451.5,825.6L453.5,821.9L455,818L459.1,815.4L463.3,812.9L467.5,810.5L472.3,808.2L477.5,807L481.9,807L486.2,808.8L490.6,808.7L495,809L499.9,810.7L504.9,812.1L510,813L514.9,815.2L520,817L523.1,819.7L526.2,822.3L530,824L535,824.7L540,825.5L545.3,823.7L550,820.5L555,817L550,816.5L545,817L539.7,817.9L535,820.5L530,819.1L525,818L519.9,818.1L515,817L509.9,816.7L505,815.1L500,814L495,814.7L490,814.6L485,815.5L481,817.6L476.6,818.8L472.5,820.5L467.8,823.7L462.5,825.5L464,833L462.7,837.2L461.1,841.3L460,845.5L457.5,850.5L455.5,845.3L452.5,840.5L449.3,837.2L447.5,833"/>
<path d="M62.5,636L67.6,636.9L72.4,638.6L77.5,639.5L81.9,639.9L86.3,639.6L90.6,638L95,638L98.5,640.9L102.7,642.7L106.1,645.7L109,649.2L112.5,652L116.3,654.5L120,657L120.7,661.6L121.7,666.2L122.4,670.8L124,675.2L123.6,680L125,684.5L124.2,688.8L122.2,692.9L121,697.2L121,701.7L119,705.8L119,710.3L117.5,714.5L113.3,712.2L108.9,710.3L104.7,708.2L100,707L98.2,703.2L94.4,700.8L92.5,697L87.7,693.6L82.5,691L77.5,691.9L72.6,692.5L67.5,692L67,696.4L65.6,700.5L64,704.5"/>
<path d="M64,784.5L67.5,786L67.2,791.6L66,797L67.6,800.9L68.2,805L69.8,808.9L70.9,812.9L71.7,816.9L72.5,821L68.2,822.2L64,823.5"/>
</g>
<text class="city" x="680" y="253" textLength="67" lengthAdjust="spacingAndGlyphs">Норильск</text>
<text class="city" x="472" y="316" textLength="70" lengthAdjust="spacingAndGlyphs">Салехард</text>
<text class="city" x="808" y="353" textLength="32" lengthAdjust="spacingAndGlyphs">Тура</text>
<text class="city" x="1101" y="232" textLength="46" lengthAdjust="spacingAndGlyphs">Якутск</text>
<text class="city" x="475" y="427" textLength="124" lengthAdjust="spacingAndGlyphs">Ханты−Мансийск</text>
<text class="city" x="315" y="489" textLength="96" lengthAdjust="spacingAndGlyphs">Екатеринбург</text>
<text class="city" x="408.5" y="511.5" textLength="46" lengthAdjust="spacingAndGlyphs">Тюмень</text>
<text class="city" x="256" y="542" textLength="72" lengthAdjust="spacingAndGlyphs">Челябинск</text>
<text class="city" x="333.5" y="560" textLength="48" lengthAdjust="spacingAndGlyphs">Курган</text>
<text class="city" x="451" y="592" textLength="33" lengthAdjust="spacingAndGlyphs">Омск</text>
<text class="city" x="529" y="599" textLength="91" lengthAdjust="spacingAndGlyphs">Новосибирск</text>
<text class="city" x="658" y="565" textLength="38" lengthAdjust="spacingAndGlyphs">Томск</text>
<text class="city" x="675" y="597" textLength="67" lengthAdjust="spacingAndGlyphs">Кемерово</text>
<text class="city" x="767" y="571" textLength="85" lengthAdjust="spacingAndGlyphs">Красноярск</text>
<text class="city" x="571" y="651" textLength="59" lengthAdjust="spacingAndGlyphs">Барнаул</text>
<text class="city" x="754" y="630.5" textLength="50" lengthAdjust="spacingAndGlyphs">Абакан</text>
<text class="city" x="676" y="683" textLength="112" lengthAdjust="spacingAndGlyphs">Горно−Алтайск</text>
<text class="city" x="806" y="675" textLength="44" lengthAdjust="spacingAndGlyphs">Кызыл</text>
<text class="city" x="948" y="626" textLength="56" lengthAdjust="spacingAndGlyphs">Иркутск</text>
<text class="city" x="1078" y="564" textLength="32" lengthAdjust="spacingAndGlyphs">Чита</text>
<circle cx="674" cy="252" r="3.4" fill="#000"/>
<circle cx="482" cy="296" r="3.4" fill="#000"/>
<circle cx="802" cy="351" r="3.4" fill="#000"/>
<circle cx="1094" cy="231" r="3.4" fill="#000"/>
<circle cx="469" cy="432" r="3.4" fill="#000"/>
<circle cx="338" cy="494" r="3.4" fill="#000"/>
<circle cx="402" cy="510" r="3.4" fill="#000"/>
<circle cx="332" cy="537" r="3.4" fill="#000"/>
<circle cx="387" cy="549" r="3.4" fill="#000"/>
<circle cx="492" cy="591" r="3.4" fill="#000"/>
<circle cx="625" cy="603" r="3.4" fill="#000"/>
<circle cx="652" cy="567" r="3.4" fill="#000"/>
<circle cx="669" cy="596" r="3.4" fill="#000"/>
<circle cx="761" cy="569" r="3.4" fill="#000"/>
<circle cx="636" cy="646" r="3.4" fill="#000"/>
<circle cx="748" cy="629" r="3.4" fill="#000"/>
<circle cx="670" cy="682" r="3.4" fill="#000"/>
<circle cx="800" cy="673" r="3.4" fill="#000"/>
<circle cx="942" cy="618" r="3.4" fill="#000"/>
<circle cx="1072" cy="562" r="3.4" fill="#000"/>
</g>
<text class="cb" x="1221" y="183.6" textLength="16.6" lengthAdjust="spacingAndGlyphs">28</text>
<text class="cb" x="1221" y="205.8" textLength="16.6" lengthAdjust="spacingAndGlyphs">24</text>
<text class="cb" x="1221" y="227.9" textLength="16.6" lengthAdjust="spacingAndGlyphs">20</text>
<text class="cb" x="1221" y="250.1" textLength="16.6" lengthAdjust="spacingAndGlyphs">16</text>
<text class="cb" x="1221" y="272.3" textLength="16.6" lengthAdjust="spacingAndGlyphs">12</text>
<text class="cb" x="1221" y="294.5" textLength="8.3" lengthAdjust="spacingAndGlyphs">8</text>
<text class="cb" x="1221" y="316.6" textLength="8.3" lengthAdjust="spacingAndGlyphs">4</text>
<text class="cb" x="1221" y="338.8" textLength="8.3" lengthAdjust="spacingAndGlyphs">0</text>
<text class="cb" x="1221" y="361" textLength="19.6" lengthAdjust="spacingAndGlyphs">−4</text>
<text class="cb" x="1221" y="383.1" textLength="19.6" lengthAdjust="spacingAndGlyphs">−8</text>
<text class="cb" x="1221" y="405.3" textLength="27.900000000000002" lengthAdjust="spacingAndGlyphs">−12</text>
<text class="cb" x="1221" y="427.5" textLength="27.900000000000002" lengthAdjust="spacingAndGlyphs">−16</text>
<text class="cb" x="1221" y="449.6" textLength="27.900000000000002" lengthAdjust="spacingAndGlyphs">−20</text>
<text class="cb" x="1221" y="471.8" textLength="27.900000000000002" lengthAdjust="spacingAndGlyphs">−24</text>
<text class="cb" x="1221" y="494" textLength="27.900000000000002" lengthAdjust="spacingAndGlyphs">−28</text>
<text class="cb" x="1221" y="516.1" textLength="27.900000000000002" lengthAdjust="spacingAndGlyphs">−32</text>
<text class="cb" x="1221" y="538.3" textLength="27.900000000000002" lengthAdjust="spacingAndGlyphs">−36</text>
<text class="cb" x="1221" y="560.5" textLength="27.900000000000002" lengthAdjust="spacingAndGlyphs">−40</text>
<text class="cb" x="1221" y="582.7" textLength="27.900000000000002" lengthAdjust="spacingAndGlyphs">−44</text>
<text class="cb" x="1221" y="604.8" textLength="27.900000000000002" lengthAdjust="spacingAndGlyphs">−48</text>
<text class="cb" x="1221" y="627" textLength="27.900000000000002" lengthAdjust="spacingAndGlyphs">−52</text>
<text class="cb" x="1221" y="649.2" textLength="27.900000000000002" lengthAdjust="spacingAndGlyphs">−56</text>
<text class="cb" x="1221" y="671.3" textLength="27.900000000000002" lengthAdjust="spacingAndGlyphs">−60</text>
<rect x="62.1" y="91" width="1155" height="842.9" fill="none" stroke="#000" stroke-width="2.1"/>
<text class="t" x="135" y="70" font-size="41.5" textLength="101" lengthAdjust="spacingAndGlyphs" stroke="#fff" stroke-width="1.2">06:00</text>
<text class="t" x="264" y="70" font-size="41.5" textLength="107" lengthAdjust="spacingAndGlyphs" stroke="#fff" stroke-width="1.2">15июл</text>
<text class="t" x="393" y="70" font-size="41.5" textLength="90" lengthAdjust="spacingAndGlyphs" stroke="#fff" stroke-width="1.2">2025</text>
<text class="ts" x="507" y="69.5" font-size="43.4" textLength="166" lengthAdjust="spacingAndGlyphs" stroke="#fff" stroke-width="0.5">(UTC+0):</text>
<text class="t" x="698.5" y="70" font-size="41.5" textLength="227" lengthAdjust="spacingAndGlyphs" stroke="#fff" stroke-width="1.2">Температура</text>
<text class="t" x="947" y="70" font-size="41.5" textLength="41" lengthAdjust="spacingAndGlyphs" stroke="#fff" stroke-width="1.2">на</text>
<text class="t" x="1010" y="70" font-size="41.5" textLength="135" lengthAdjust="spacingAndGlyphs" stroke="#fff" stroke-width="1.2">850гПа</text>
<text class="t" x="65" y="971.5" font-size="25.5" textLength="109" lengthAdjust="spacingAndGlyphs" stroke="#fff" stroke-width="0.4">Прогноз</text>
<text class="t" x="189" y="971.5" font-size="25.5" textLength="31" lengthAdjust="spacingAndGlyphs" stroke="#fff" stroke-width="0.4">на</text>
<text class="t" x="241" y="971.5" font-size="25.5" textLength="73" lengthAdjust="spacingAndGlyphs" stroke="#fff" stroke-width="0.4">108ч.</text>
<text class="t" x="332" y="971.5" font-size="25.5" textLength="31" lengthAdjust="spacingAndGlyphs" stroke="#fff" stroke-width="0.4">от</text>
<text class="t" x="378" y="971.5" font-size="25.5" textLength="73" lengthAdjust="spacingAndGlyphs" stroke="#fff" stroke-width="0.4">18:00</text>
<text class="t" x="472" y="971.5" font-size="25.5" textLength="77" lengthAdjust="spacingAndGlyphs" stroke="#fff" stroke-width="0.4">10июл</text>
<text class="t" x="567" y="971.5" font-size="25.5" textLength="65" lengthAdjust="spacingAndGlyphs" stroke="#fff" stroke-width="0.4">2025</text>
<text class="ts" x="650" y="971" font-size="28" textLength="122" lengthAdjust="spacingAndGlyphs" stroke="#fff" stroke-width="0.4">(UTC+0)</text>
<text class="ts" x="63.5" y="1006" font-size="28" textLength="113" lengthAdjust="spacingAndGlyphs">COSMO−</text>
<text class="ts" x="182.5" y="1006" font-size="28" textLength="80" lengthAdjust="spacingAndGlyphs" stroke="#000" stroke-width="0.55">RuSib</text>
<text class="ts" x="281" y="1006" font-size="28" textLength="41.5" lengthAdjust="spacingAndGlyphs" stroke="#000" stroke-width="0.55">6.6</text>
<text class="t" x="324" y="1006" font-size="22" textLength="28.5" lengthAdjust="spacingAndGlyphs" stroke="#fff" stroke-width="0">км</text>
<rect x="876.5" y="982.5" width="349.5" height="36" fill="#fff" stroke="#aaa" stroke-width="1"/>
<path d="M882,1000 L918,1000" stroke="#ff2a2a" stroke-width="1.6"/>
<text class="t" x="924" y="1009" font-size="22.5" textLength="136" lengthAdjust="spacingAndGlyphs" stroke="#fff" stroke-width="0">Температура</text>
<text class="t" x="1075.6" y="1009" font-size="22.5" textLength="22" lengthAdjust="spacingAndGlyphs" stroke="#fff" stroke-width="0">на</text>
<text class="t" x="1110" y="1009" font-size="22.5" textLength="81" lengthAdjust="spacingAndGlyphs" stroke="#fff" stroke-width="0">850гПа</text>
</svg></body></html>
